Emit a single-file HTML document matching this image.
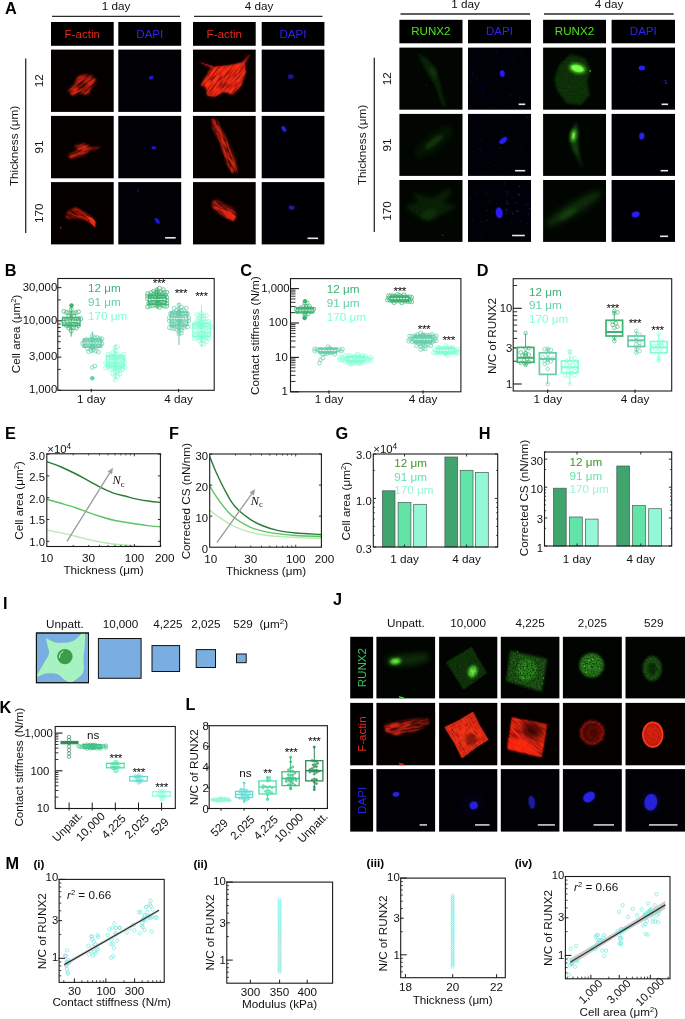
<!DOCTYPE html>
<html><head><meta charset="utf-8"><title>Figure</title>
<style>
html,body{margin:0;padding:0;background:#fff;}
svg{display:block;font-family:'Liberation Sans', sans-serif;}
</style></head><body>
<svg width="685" height="1019" viewBox="0 0 685 1019">
<defs>
<filter id="b1" x="-50%" y="-50%" width="200%" height="200%"><feGaussianBlur stdDeviation="0.7"/></filter>
<filter id="b2" x="-50%" y="-50%" width="200%" height="200%"><feGaussianBlur stdDeviation="1.6"/></filter>
<filter id="b3" x="-50%" y="-50%" width="200%" height="200%"><feGaussianBlur stdDeviation="3"/></filter>
<filter id="b5" x="-50%" y="-50%" width="200%" height="200%"><feGaussianBlur stdDeviation="5"/></filter>
<filter id="tx" x="-20%" y="-20%" width="140%" height="140%">
<feGaussianBlur in="SourceGraphic" stdDeviation="0.8" result="b"/>
<feTurbulence type="fractalNoise" baseFrequency="0.09 0.7" numOctaves="2" seed="4" result="n"/>
<feColorMatrix in="n" type="matrix" values="0 0 0 0 1  0 0 0 0 1  0 0 0 0 1  3.2 0 0 0 -0.95" result="a"/>
<feComposite in="b" in2="a" operator="in"/>
</filter>
<filter id="tg" x="-20%" y="-20%" width="140%" height="140%">
<feGaussianBlur in="SourceGraphic" stdDeviation="1.2" result="b"/>
<feTurbulence type="fractalNoise" baseFrequency="0.6" numOctaves="2" seed="9" result="n"/>
<feColorMatrix in="n" type="matrix" values="0 0 0 0 1  0 0 0 0 1  0 0 0 0 1  2.4 0 0 0 -0.45" result="a"/>
<feComposite in="b" in2="a" operator="in"/>
</filter>
<linearGradient id="fadeR" x1="0" y1="0" x2="1" y2="0"><stop offset="0" stop-color="#050000" stop-opacity="0"/><stop offset="0.35" stop-color="#050000" stop-opacity="0.1"/><stop offset="1" stop-color="#050000" stop-opacity="0.7"/></linearGradient>
<radialGradient id="holeC" cx="0.5" cy="0.5" r="0.5"><stop offset="0" stop-color="#200" stop-opacity="0.55"/><stop offset="0.7" stop-color="#200" stop-opacity="0.35"/><stop offset="1" stop-color="#200" stop-opacity="0"/></radialGradient>
</defs>

<rect x="0" y="0" width="685" height="1019" fill="#fff"/>
<text transform="translate(5.0,14.0) scale(1,1)" font-size="16.3" font-weight="bold" fill="#000">A</text>
<text x="116.0" y="10.2" font-size="11.7" text-anchor="middle" fill="#111">1 day</text>
<text x="259.0" y="10.2" font-size="11.7" text-anchor="middle" fill="#111">4 day</text>
<line x1="52.00" y1="16.40" x2="180.00" y2="16.40" stroke="#2a2a2a" stroke-width="1.3"/>
<line x1="194.00" y1="16.40" x2="322.50" y2="16.40" stroke="#2a2a2a" stroke-width="1.3"/>
<line x1="25.70" y1="58.40" x2="25.70" y2="233.00" stroke="#2a2a2a" stroke-width="1.3"/>
<text x="17.5" y="146.0" font-size="11.7" text-anchor="middle" fill="#111" transform="rotate(-90 17.5 146.0)">Thickness (μm)</text>
<text x="43.5" y="80.8" font-size="11.7" text-anchor="middle" fill="#111" transform="rotate(-90 43.5 80.8)">12</text>
<text x="43.5" y="147.1" font-size="11.7" text-anchor="middle" fill="#111" transform="rotate(-90 43.5 147.1)">91</text>
<text x="43.5" y="213.2" font-size="11.7" text-anchor="middle" fill="#111" transform="rotate(-90 43.5 213.2)">170</text>
<rect x="51.00" y="22.00" width="62.70" height="23.80" fill="#000" stroke="none" stroke-width="1"/>
<text x="82.3" y="37.6" font-size="11.6" text-anchor="middle" fill="#e8281c">F-actin</text>
<rect x="118.30" y="22.00" width="62.90" height="23.80" fill="#000" stroke="none" stroke-width="1"/>
<text x="149.8" y="37.6" font-size="11.6" text-anchor="middle" fill="#2c22f6">DAPI</text>
<rect x="193.00" y="22.00" width="62.70" height="23.80" fill="#000" stroke="none" stroke-width="1"/>
<text x="224.3" y="37.6" font-size="11.6" text-anchor="middle" fill="#e8281c">F-actin</text>
<rect x="261.70" y="22.00" width="62.70" height="23.80" fill="#000" stroke="none" stroke-width="1"/>
<text x="293.0" y="37.6" font-size="11.6" text-anchor="middle" fill="#2c22f6">DAPI</text>
<rect x="51.00" y="49.60" width="62.70" height="62.30" fill="#040000" stroke="none" stroke-width="1"/>
<clipPath id="cL00"><rect x="51.00" y="49.60" width="62.70" height="62.30"/></clipPath>
<rect x="118.30" y="49.60" width="62.90" height="62.30" fill="#000005" stroke="none" stroke-width="1"/>
<clipPath id="cL10"><rect x="118.30" y="49.60" width="62.90" height="62.30"/></clipPath>
<rect x="193.00" y="49.60" width="62.70" height="62.30" fill="#040000" stroke="none" stroke-width="1"/>
<clipPath id="cL20"><rect x="193.00" y="49.60" width="62.70" height="62.30"/></clipPath>
<rect x="261.70" y="49.60" width="62.70" height="62.30" fill="#000004" stroke="none" stroke-width="1"/>
<clipPath id="cL30"><rect x="261.70" y="49.60" width="62.70" height="62.30"/></clipPath>
<rect x="51.00" y="115.90" width="62.70" height="62.40" fill="#040000" stroke="none" stroke-width="1"/>
<clipPath id="cL01"><rect x="51.00" y="115.90" width="62.70" height="62.40"/></clipPath>
<rect x="118.30" y="115.90" width="62.90" height="62.40" fill="#000005" stroke="none" stroke-width="1"/>
<clipPath id="cL11"><rect x="118.30" y="115.90" width="62.90" height="62.40"/></clipPath>
<rect x="193.00" y="115.90" width="62.70" height="62.40" fill="#040000" stroke="none" stroke-width="1"/>
<clipPath id="cL21"><rect x="193.00" y="115.90" width="62.70" height="62.40"/></clipPath>
<rect x="261.70" y="115.90" width="62.70" height="62.40" fill="#000004" stroke="none" stroke-width="1"/>
<clipPath id="cL31"><rect x="261.70" y="115.90" width="62.70" height="62.40"/></clipPath>
<rect x="51.00" y="182.10" width="62.70" height="62.30" fill="#040000" stroke="none" stroke-width="1"/>
<clipPath id="cL02"><rect x="51.00" y="182.10" width="62.70" height="62.30"/></clipPath>
<rect x="118.30" y="182.10" width="62.90" height="62.30" fill="#000005" stroke="none" stroke-width="1"/>
<clipPath id="cL12"><rect x="118.30" y="182.10" width="62.90" height="62.30"/></clipPath>
<rect x="193.00" y="182.10" width="62.70" height="62.30" fill="#040000" stroke="none" stroke-width="1"/>
<clipPath id="cL22"><rect x="193.00" y="182.10" width="62.70" height="62.30"/></clipPath>
<rect x="261.70" y="182.10" width="62.70" height="62.30" fill="#000004" stroke="none" stroke-width="1"/>
<clipPath id="cL32"><rect x="261.70" y="182.10" width="62.70" height="62.30"/></clipPath>
<g fill="#2a2ad0" opacity="0.3"><circle cx="128.2" cy="78.0" r="0.48"/><circle cx="162.3" cy="94.7" r="0.38"/><circle cx="168.0" cy="82.7" r="0.27"/><circle cx="147.1" cy="53.5" r="0.53"/><circle cx="177.0" cy="70.8" r="0.34"/><circle cx="166.1" cy="62.9" r="0.30"/><circle cx="130.8" cy="71.5" r="0.44"/><circle cx="178.0" cy="63.3" r="0.54"/><circle cx="153.1" cy="104.9" r="0.50"/><circle cx="129.1" cy="89.7" r="0.29"/><circle cx="119.6" cy="74.4" r="0.48"/><circle cx="153.8" cy="62.2" r="0.50"/><circle cx="174.9" cy="64.9" r="0.38"/><circle cx="158.1" cy="105.0" r="0.29"/><circle cx="153.0" cy="109.0" r="0.43"/><circle cx="163.0" cy="97.3" r="0.40"/><circle cx="137.0" cy="86.2" r="0.41"/><circle cx="140.2" cy="102.1" r="0.36"/><circle cx="148.7" cy="96.5" r="0.49"/><circle cx="173.5" cy="89.9" r="0.33"/></g>
<g fill="#2a2ad0" opacity="0.25"><circle cx="319.4" cy="74.0" r="0.46"/><circle cx="277.7" cy="79.7" r="0.32"/><circle cx="295.6" cy="55.1" r="0.35"/><circle cx="281.9" cy="53.0" r="0.45"/><circle cx="318.1" cy="59.7" r="0.41"/><circle cx="294.8" cy="76.2" r="0.40"/><circle cx="302.8" cy="67.3" r="0.34"/><circle cx="293.5" cy="110.5" r="0.48"/><circle cx="309.9" cy="78.2" r="0.48"/><circle cx="322.1" cy="103.9" r="0.30"/><circle cx="287.6" cy="64.3" r="0.36"/><circle cx="314.6" cy="80.4" r="0.33"/></g>
<g fill="#2a2ad0" opacity="0.3"><circle cx="154.7" cy="128.7" r="0.54"/><circle cx="175.6" cy="145.1" r="0.45"/><circle cx="132.4" cy="130.3" r="0.34"/><circle cx="161.5" cy="129.7" r="0.54"/><circle cx="123.6" cy="128.6" r="0.28"/><circle cx="166.2" cy="139.0" r="0.39"/><circle cx="139.2" cy="155.4" r="0.37"/><circle cx="132.0" cy="142.9" r="0.34"/><circle cx="126.0" cy="166.6" r="0.45"/><circle cx="159.8" cy="170.2" r="0.37"/><circle cx="142.4" cy="142.4" r="0.37"/><circle cx="160.0" cy="117.3" r="0.39"/><circle cx="151.9" cy="137.8" r="0.26"/><circle cx="162.2" cy="117.5" r="0.42"/><circle cx="128.6" cy="119.0" r="0.30"/><circle cx="123.3" cy="126.0" r="0.46"/><circle cx="163.7" cy="138.8" r="0.45"/><circle cx="148.2" cy="147.0" r="0.51"/><circle cx="138.3" cy="169.4" r="0.46"/><circle cx="160.9" cy="117.3" r="0.28"/></g>
<g fill="#2a2ad0" opacity="0.25"><circle cx="312.9" cy="129.8" r="0.49"/><circle cx="292.7" cy="140.9" r="0.40"/><circle cx="273.0" cy="128.6" r="0.36"/><circle cx="276.6" cy="157.4" r="0.35"/><circle cx="286.0" cy="133.7" r="0.31"/><circle cx="306.2" cy="171.4" r="0.34"/><circle cx="311.5" cy="135.8" r="0.44"/><circle cx="277.2" cy="151.3" r="0.35"/><circle cx="315.6" cy="162.9" r="0.28"/><circle cx="268.7" cy="144.7" r="0.30"/><circle cx="277.1" cy="174.3" r="0.49"/><circle cx="263.8" cy="118.2" r="0.41"/></g>
<g fill="#2a2ad0" opacity="0.45"><circle cx="128.3" cy="220.2" r="0.30"/><circle cx="162.7" cy="219.8" r="0.37"/><circle cx="156.9" cy="217.2" r="0.26"/><circle cx="151.6" cy="220.5" r="0.41"/><circle cx="172.9" cy="227.4" r="0.36"/><circle cx="133.1" cy="190.8" r="0.49"/><circle cx="161.3" cy="219.8" r="0.38"/><circle cx="149.8" cy="196.5" r="0.41"/><circle cx="128.2" cy="220.6" r="0.44"/><circle cx="160.1" cy="198.0" r="0.28"/><circle cx="139.6" cy="224.6" r="0.40"/><circle cx="164.8" cy="209.1" r="0.37"/><circle cx="174.6" cy="193.2" r="0.31"/><circle cx="155.2" cy="221.2" r="0.38"/><circle cx="153.3" cy="209.7" r="0.45"/><circle cx="173.4" cy="232.9" r="0.44"/><circle cx="147.9" cy="240.2" r="0.38"/><circle cx="157.4" cy="235.5" r="0.46"/><circle cx="143.1" cy="227.9" r="0.43"/><circle cx="175.0" cy="220.7" r="0.41"/><circle cx="178.6" cy="214.9" r="0.37"/><circle cx="176.4" cy="240.0" r="0.30"/><circle cx="123.7" cy="234.8" r="0.51"/><circle cx="142.7" cy="198.5" r="0.46"/><circle cx="176.6" cy="195.9" r="0.38"/><circle cx="159.7" cy="196.4" r="0.37"/><circle cx="128.0" cy="212.0" r="0.32"/><circle cx="124.2" cy="206.6" r="0.30"/><circle cx="126.5" cy="192.2" r="0.38"/><circle cx="138.7" cy="227.0" r="0.37"/><circle cx="134.1" cy="194.4" r="0.34"/><circle cx="164.6" cy="195.3" r="0.39"/><circle cx="168.4" cy="233.1" r="0.39"/><circle cx="170.6" cy="221.8" r="0.32"/><circle cx="125.0" cy="193.4" r="0.49"/><circle cx="143.0" cy="233.6" r="0.54"/><circle cx="175.3" cy="211.4" r="0.25"/><circle cx="136.1" cy="196.3" r="0.44"/><circle cx="162.0" cy="238.7" r="0.46"/><circle cx="177.7" cy="221.6" r="0.39"/><circle cx="170.3" cy="199.6" r="0.48"/><circle cx="163.6" cy="235.4" r="0.27"/><circle cx="130.8" cy="240.4" r="0.29"/><circle cx="146.8" cy="219.4" r="0.39"/><circle cx="172.8" cy="240.7" r="0.35"/></g>
<g fill="#2a2ad0" opacity="0.25"><circle cx="291.9" cy="223.3" r="0.40"/><circle cx="305.2" cy="237.5" r="0.44"/><circle cx="272.6" cy="196.4" r="0.36"/><circle cx="286.4" cy="241.2" r="0.43"/><circle cx="291.1" cy="204.3" r="0.31"/><circle cx="299.3" cy="238.8" r="0.29"/><circle cx="290.2" cy="203.9" r="0.40"/><circle cx="278.1" cy="187.0" r="0.42"/><circle cx="281.3" cy="222.1" r="0.48"/><circle cx="298.0" cy="238.1" r="0.45"/><circle cx="266.5" cy="197.9" r="0.42"/><circle cx="291.7" cy="183.4" r="0.46"/></g>
<g clip-path="url(#cL00)">
<polygon points="78.2,76.2 85.3,74.2 91.3,74.8 97.0,81.3 91.3,87.3 89.3,93.3 85.3,95.0 81.2,92.7 72.2,96.0 70.6,93.3 67.1,89.9 74.2,84.3" fill="#8a1206" opacity="0.38" filter="url(#b2)"/>
<g transform="rotate(-35 81.9 86.5)"><polygon points="84.8,76.0 91.7,78.4 96.3,82.3 97.3,90.8 89.2,92.5 84.1,96.3 79.8,95.4 77.8,91.2 68.5,88.7 68.7,85.6 67.9,80.8 76.9,80.3" fill="#e02812" opacity="0.9" filter="url(#tx)"/></g>
</g>
<ellipse cx="151.3" cy="77.8" rx="2.5" ry="1.8" fill="#2418ff" opacity="1" transform="rotate(-20 151.3 77.8)" filter="url(#b1)"/>
<g clip-path="url(#cL01)">
<polygon points="74.2,145.7 83.3,143.1 91.3,146.7 102.0,147.3 91.3,150.1 82.2,155.2 70.2,159.2 68.1,154.8 78.2,150.8" fill="#8a1206" opacity="0.38" filter="url(#b2)"/>
<g transform="rotate(-20 82.3 150.3)"><polygon points="76.3,143.2 85.7,143.9 92.0,150.0 101.8,154.2 90.8,153.2 80.6,154.9 67.9,154.5 67.5,149.7 78.3,149.3" fill="#e02812" opacity="0.9" filter="url(#tx)"/></g>
</g>
<ellipse cx="153.8" cy="147.7" rx="2.4" ry="1.5" fill="#2418ff" opacity="1" transform="rotate(10 153.8 147.7)" filter="url(#b1)"/>
<g clip-path="url(#cL02)">
<polygon points="67.4,211.7 75.6,207.6 84.8,212.3 91.9,217.4 95.6,221.9 95.2,227.5 89.9,222.6 80.7,218.3 71.5,218.5 66.0,218.3" fill="#7a1006" opacity="0.4" filter="url(#b2)"/>
<g transform="rotate(30 81.9 217.6)"><polygon points="66.4,219.7 71.4,212.1 81.8,211.6 90.5,212.4 95.9,214.5 98.3,219.5 91.3,217.9 81.2,218.8 73.3,223.5 68.4,226.1" fill="#d82410" opacity="0.9" filter="url(#tx)"/></g>
<polygon points="86.8,215.8 92.6,218.1 95.6,221.9 95.2,227.5 90.9,223.0" fill="#ee3018" opacity="0.9" filter="url(#b1)"/>
<ellipse cx="60.7" cy="227.7" rx="0.7" ry="0.9" fill="#d02010" opacity="1" transform="rotate(0 60.7 227.7)"/>
</g>
<ellipse cx="157.3" cy="220.9" rx="3.4" ry="1.6" fill="#2418ff" opacity="1" transform="rotate(52 157.3 220.9)" filter="url(#b1)"/>
<ellipse cx="137.9" cy="190.5" rx="2.2" ry="0.7" fill="#1c1cb0" opacity="0.7" transform="rotate(-65 137.9 190.5)" filter="url(#b1)"/>
<rect x="165.10" y="237.00" width="10.60" height="1.60" fill="#e8e8e8" stroke="none" stroke-width="1"/>
<g clip-path="url(#cL20)">
<polygon points="250.4,53.7 244.8,63.1 245.8,72.2 240.8,86.3 232.7,94.8 224.2,91.7 214.6,96.8 207.1,95.8 206.1,86.7 200.7,85.7 208.1,72.2 212.0,68.0 196.6,60.9 213.6,66.7 230.3,65.1 242.0,62.5" fill="#c81808" opacity="0.7" filter="url(#b1)"/>
<g transform="rotate(-50 223.1 76.4)"><polygon points="258.1,82.7 247.2,84.5 240.9,91.1 226.9,96.3 215.2,95.5 212.1,87.1 202.0,82.9 198.0,76.6 204.3,70.0 201.6,65.2 216.7,62.2 222.4,62.4 218.0,46.2 224.4,62.9 236.3,74.7 245.9,81.9" fill="#ff3018" opacity="1" filter="url(#tx)"/></g>
<g fill="#a01008" opacity="0.4"><circle cx="198.1" cy="110.4" r="0.29"/><circle cx="227.3" cy="109.3" r="0.44"/><circle cx="207.6" cy="104.5" r="0.43"/><circle cx="237.5" cy="107.6" r="0.39"/><circle cx="211.5" cy="105.0" r="0.43"/><circle cx="213.3" cy="106.3" r="0.41"/><circle cx="222.5" cy="101.4" r="0.31"/><circle cx="225.8" cy="106.6" r="0.46"/><circle cx="196.4" cy="103.3" r="0.38"/><circle cx="227.6" cy="102.9" r="0.44"/><circle cx="212.5" cy="104.0" r="0.46"/><circle cx="198.8" cy="110.2" r="0.33"/><circle cx="210.3" cy="103.0" r="0.37"/><circle cx="231.9" cy="103.2" r="0.39"/><circle cx="213.8" cy="104.0" r="0.28"/><circle cx="225.4" cy="105.1" r="0.37"/><circle cx="221.1" cy="102.1" r="0.45"/><circle cx="234.1" cy="103.5" r="0.45"/><circle cx="225.4" cy="104.0" r="0.32"/><circle cx="197.8" cy="105.1" r="0.36"/><circle cx="215.9" cy="105.8" r="0.39"/><circle cx="199.6" cy="103.2" r="0.39"/><circle cx="215.3" cy="102.7" r="0.32"/><circle cx="238.1" cy="108.9" r="0.43"/><circle cx="210.0" cy="105.1" r="0.43"/></g>
</g>
<ellipse cx="290.7" cy="76.6" rx="3" ry="2.4" fill="#2a22d8" opacity="0.65" transform="rotate(0 290.7 76.6)" filter="url(#b1)"/>
<g clip-path="url(#cL21)">
<polygon points="211.4,118.5 216.2,119.3 223.4,132.6 231.5,148.7 237.5,166.9 237.5,174.9 235.1,170.5 231.7,173.7 229.1,168.5 224.6,158.4 219.8,142.7 212.8,128.6" fill="#861408" opacity="0.32" filter="url(#b1)"/>
<g transform="rotate(65 225.9 150.3)"><polygon points="191.0,150.0 193.7,146.0 208.9,145.0 226.9,144.5 245.8,146.7 253.2,150.1 248.1,150.5 249.6,154.9 243.7,155.1 232.7,154.8 216.4,152.6 200.7,153.0" fill="#e42c14" opacity="0.9" filter="url(#tx)"/></g>
</g>
<ellipse cx="284.0" cy="129.0" rx="3.3" ry="2" fill="#2a22e0" opacity="0.95" transform="rotate(55 284.0 129.0)" filter="url(#b1)"/>
<g clip-path="url(#cL22)">
<polygon points="211.7,202.5 216.6,199.3 223.7,204.6 232.3,207.6 236.6,214.8 234.3,221.3 226.8,218.3 218.6,213.2 213.1,208.7" fill="#861408" opacity="0.45" filter="url(#b2)"/>
<g transform="rotate(35 223.7 210.0)"><polygon points="209.6,210.8 211.7,205.3 220.6,205.6 229.4,203.2 237.0,206.6 238.9,213.2 231.0,215.0 221.3,215.5 214.2,215.0" fill="#e02812" opacity="0.9" filter="url(#tx)"/></g>
<polygon points="220.7,208.7 230.9,211.7 235.4,216.8 233.9,220.9 226.8,217.9" fill="#f02c14" opacity="0.8" filter="url(#b1)"/>
</g>
<ellipse cx="291.6" cy="207.6" rx="3" ry="2.2" fill="#2020c0" opacity="0.9" transform="rotate(10 291.6 207.6)" filter="url(#b1)"/>
<rect x="307.50" y="237.50" width="10.60" height="1.60" fill="#e8e8e8" stroke="none" stroke-width="1"/>
<text x="465.5" y="8.4" font-size="11.7" text-anchor="middle" fill="#111">1 day</text>
<text x="609.0" y="8.4" font-size="11.7" text-anchor="middle" fill="#111">4 day</text>
<line x1="400.50" y1="14.00" x2="530.00" y2="14.00" stroke="#2a2a2a" stroke-width="1.3"/>
<line x1="544.00" y1="14.00" x2="673.70" y2="14.00" stroke="#2a2a2a" stroke-width="1.3"/>
<line x1="374.30" y1="57.80" x2="374.30" y2="232.00" stroke="#2a2a2a" stroke-width="1.3"/>
<text x="366.0" y="145.0" font-size="11.7" text-anchor="middle" fill="#111" transform="rotate(-90 366.0 145.0)">Thickness (μm)</text>
<text x="391.5" y="78.7" font-size="11.7" text-anchor="middle" fill="#111" transform="rotate(-90 391.5 78.7)">12</text>
<text x="391.5" y="144.9" font-size="11.7" text-anchor="middle" fill="#111" transform="rotate(-90 391.5 144.9)">91</text>
<text x="391.5" y="210.9" font-size="11.7" text-anchor="middle" fill="#111" transform="rotate(-90 391.5 210.9)">170</text>
<rect x="399.40" y="19.80" width="63.10" height="23.50" fill="#000" stroke="none" stroke-width="1"/>
<text x="430.9" y="35.4" font-size="11.6" text-anchor="middle" fill="#4be41c">RUNX2</text>
<rect x="468.00" y="19.80" width="63.00" height="23.50" fill="#000" stroke="none" stroke-width="1"/>
<text x="499.5" y="35.4" font-size="11.6" text-anchor="middle" fill="#2c22f6">DAPI</text>
<rect x="543.10" y="19.80" width="62.90" height="23.50" fill="#000" stroke="none" stroke-width="1"/>
<text x="574.5" y="35.4" font-size="11.6" text-anchor="middle" fill="#4be41c">RUNX2</text>
<rect x="611.60" y="19.80" width="63.40" height="23.50" fill="#000" stroke="none" stroke-width="1"/>
<text x="643.3" y="35.4" font-size="11.6" text-anchor="middle" fill="#2c22f6">DAPI</text>
<rect x="399.40" y="47.60" width="63.10" height="62.10" fill="#010601" stroke="none" stroke-width="1"/>
<clipPath id="cR00"><rect x="399.40" y="47.60" width="63.10" height="62.10"/></clipPath>
<rect x="468.00" y="47.60" width="63.00" height="62.10" fill="#000007" stroke="none" stroke-width="1"/>
<clipPath id="cR10"><rect x="468.00" y="47.60" width="63.00" height="62.10"/></clipPath>
<rect x="543.10" y="47.60" width="62.90" height="62.10" fill="#010501" stroke="none" stroke-width="1"/>
<clipPath id="cR20"><rect x="543.10" y="47.60" width="62.90" height="62.10"/></clipPath>
<rect x="611.60" y="47.60" width="63.40" height="62.10" fill="#000004" stroke="none" stroke-width="1"/>
<clipPath id="cR30"><rect x="611.60" y="47.60" width="63.40" height="62.10"/></clipPath>
<rect x="399.40" y="113.90" width="63.10" height="62.00" fill="#010601" stroke="none" stroke-width="1"/>
<clipPath id="cR01"><rect x="399.40" y="113.90" width="63.10" height="62.00"/></clipPath>
<rect x="468.00" y="113.90" width="63.00" height="62.00" fill="#000007" stroke="none" stroke-width="1"/>
<clipPath id="cR11"><rect x="468.00" y="113.90" width="63.00" height="62.00"/></clipPath>
<rect x="543.10" y="113.90" width="62.90" height="62.00" fill="#010501" stroke="none" stroke-width="1"/>
<clipPath id="cR21"><rect x="543.10" y="113.90" width="62.90" height="62.00"/></clipPath>
<rect x="611.60" y="113.90" width="63.40" height="62.00" fill="#000004" stroke="none" stroke-width="1"/>
<clipPath id="cR31"><rect x="611.60" y="113.90" width="63.40" height="62.00"/></clipPath>
<rect x="399.40" y="180.00" width="63.10" height="61.90" fill="#010601" stroke="none" stroke-width="1"/>
<clipPath id="cR02"><rect x="399.40" y="180.00" width="63.10" height="61.90"/></clipPath>
<rect x="468.00" y="180.00" width="63.00" height="61.90" fill="#000007" stroke="none" stroke-width="1"/>
<clipPath id="cR12"><rect x="468.00" y="180.00" width="63.00" height="61.90"/></clipPath>
<rect x="543.10" y="180.00" width="62.90" height="61.90" fill="#010501" stroke="none" stroke-width="1"/>
<clipPath id="cR22"><rect x="543.10" y="180.00" width="62.90" height="61.90"/></clipPath>
<rect x="611.60" y="180.00" width="63.40" height="61.90" fill="#000004" stroke="none" stroke-width="1"/>
<clipPath id="cR32"><rect x="611.60" y="180.00" width="63.40" height="61.90"/></clipPath>
<g fill="#3030e0" opacity="0.5"><circle cx="471.8" cy="60.8" r="0.50"/><circle cx="477.7" cy="100.3" r="0.34"/><circle cx="469.7" cy="75.0" r="0.31"/><circle cx="470.0" cy="65.3" r="0.41"/><circle cx="480.8" cy="99.9" r="0.36"/><circle cx="511.8" cy="69.7" r="0.29"/><circle cx="495.5" cy="89.8" r="0.42"/><circle cx="508.2" cy="55.9" r="0.30"/><circle cx="476.9" cy="78.1" r="0.55"/><circle cx="492.4" cy="97.9" r="0.29"/><circle cx="482.7" cy="89.1" r="0.52"/><circle cx="517.4" cy="57.4" r="0.44"/><circle cx="483.5" cy="93.6" r="0.45"/><circle cx="511.0" cy="95.7" r="0.60"/><circle cx="497.4" cy="108.4" r="0.35"/><circle cx="522.8" cy="54.9" r="0.50"/><circle cx="523.7" cy="82.0" r="0.38"/><circle cx="519.4" cy="97.5" r="0.50"/><circle cx="490.0" cy="79.6" r="0.25"/><circle cx="501.3" cy="67.1" r="0.49"/><circle cx="470.2" cy="75.5" r="0.29"/><circle cx="490.1" cy="107.4" r="0.52"/><circle cx="508.3" cy="70.4" r="0.28"/><circle cx="470.9" cy="81.4" r="0.59"/><circle cx="513.9" cy="61.3" r="0.59"/><circle cx="482.7" cy="51.4" r="0.43"/><circle cx="496.4" cy="52.7" r="0.57"/><circle cx="486.8" cy="72.2" r="0.26"/><circle cx="469.8" cy="105.6" r="0.59"/><circle cx="507.0" cy="51.6" r="0.30"/><circle cx="477.4" cy="49.3" r="0.53"/><circle cx="496.7" cy="50.4" r="0.34"/><circle cx="497.0" cy="79.8" r="0.43"/><circle cx="477.2" cy="96.7" r="0.28"/><circle cx="496.0" cy="92.4" r="0.29"/><circle cx="470.3" cy="108.0" r="0.49"/><circle cx="480.7" cy="88.3" r="0.29"/><circle cx="519.4" cy="51.0" r="0.29"/><circle cx="482.6" cy="86.2" r="0.55"/><circle cx="483.8" cy="95.1" r="0.39"/><circle cx="497.0" cy="89.3" r="0.33"/><circle cx="512.2" cy="69.3" r="0.31"/><circle cx="508.1" cy="79.4" r="0.26"/><circle cx="526.6" cy="94.8" r="0.41"/><circle cx="517.4" cy="94.6" r="0.26"/><circle cx="472.6" cy="78.1" r="0.40"/><circle cx="510.3" cy="58.3" r="0.30"/><circle cx="492.2" cy="108.0" r="0.26"/><circle cx="527.2" cy="84.3" r="0.37"/><circle cx="474.9" cy="75.1" r="0.40"/><circle cx="472.4" cy="72.7" r="0.57"/><circle cx="527.3" cy="90.9" r="0.39"/><circle cx="521.7" cy="51.1" r="0.50"/><circle cx="512.0" cy="57.5" r="0.38"/><circle cx="494.3" cy="96.2" r="0.46"/><circle cx="483.7" cy="97.8" r="0.42"/><circle cx="516.7" cy="70.1" r="0.37"/><circle cx="489.4" cy="58.4" r="0.52"/><circle cx="509.0" cy="72.2" r="0.46"/><circle cx="511.0" cy="106.4" r="0.30"/></g>
<g fill="#3030e0" opacity="0.35"><circle cx="636.2" cy="89.5" r="0.47"/><circle cx="637.5" cy="58.7" r="0.26"/><circle cx="630.4" cy="51.0" r="0.29"/><circle cx="645.8" cy="77.7" r="0.50"/><circle cx="620.2" cy="53.2" r="0.29"/><circle cx="637.9" cy="57.0" r="0.48"/><circle cx="648.4" cy="108.6" r="0.33"/><circle cx="671.3" cy="68.5" r="0.48"/><circle cx="664.3" cy="66.3" r="0.35"/><circle cx="613.0" cy="87.4" r="0.40"/><circle cx="652.0" cy="49.3" r="0.26"/><circle cx="658.0" cy="65.8" r="0.55"/><circle cx="654.0" cy="59.0" r="0.49"/><circle cx="660.2" cy="81.3" r="0.54"/><circle cx="668.0" cy="95.7" r="0.50"/><circle cx="655.7" cy="81.6" r="0.36"/><circle cx="645.1" cy="72.3" r="0.35"/><circle cx="656.0" cy="98.8" r="0.29"/><circle cx="618.3" cy="84.7" r="0.42"/><circle cx="619.9" cy="96.7" r="0.30"/><circle cx="673.3" cy="91.5" r="0.55"/><circle cx="649.8" cy="85.9" r="0.39"/><circle cx="668.7" cy="95.2" r="0.26"/><circle cx="639.1" cy="87.1" r="0.51"/><circle cx="645.5" cy="66.0" r="0.48"/></g>
<g fill="#3030e0" opacity="0.5"><circle cx="473.1" cy="134.4" r="0.25"/><circle cx="486.3" cy="160.1" r="0.49"/><circle cx="497.7" cy="160.1" r="0.41"/><circle cx="521.7" cy="151.5" r="0.30"/><circle cx="503.6" cy="143.5" r="0.44"/><circle cx="482.1" cy="156.6" r="0.32"/><circle cx="487.3" cy="129.3" r="0.34"/><circle cx="480.0" cy="160.1" r="0.48"/><circle cx="470.9" cy="149.4" r="0.28"/><circle cx="508.3" cy="139.3" r="0.44"/><circle cx="515.5" cy="161.6" r="0.49"/><circle cx="486.9" cy="120.6" r="0.45"/><circle cx="501.6" cy="168.5" r="0.56"/><circle cx="480.4" cy="139.6" r="0.50"/><circle cx="494.5" cy="172.9" r="0.25"/><circle cx="494.2" cy="165.5" r="0.58"/><circle cx="499.9" cy="130.0" r="0.46"/><circle cx="488.4" cy="156.7" r="0.37"/><circle cx="480.7" cy="150.2" r="0.52"/><circle cx="498.9" cy="150.5" r="0.45"/><circle cx="501.0" cy="115.3" r="0.38"/><circle cx="522.3" cy="145.6" r="0.52"/><circle cx="527.2" cy="117.1" r="0.50"/><circle cx="498.8" cy="115.0" r="0.33"/><circle cx="499.1" cy="142.6" r="0.55"/><circle cx="490.7" cy="162.2" r="0.39"/><circle cx="526.5" cy="173.5" r="0.31"/><circle cx="518.9" cy="121.7" r="0.37"/><circle cx="523.0" cy="140.9" r="0.26"/><circle cx="469.3" cy="174.1" r="0.55"/><circle cx="527.8" cy="135.3" r="0.36"/><circle cx="510.8" cy="117.8" r="0.46"/><circle cx="478.4" cy="126.1" r="0.51"/><circle cx="483.5" cy="174.2" r="0.48"/><circle cx="505.6" cy="153.5" r="0.33"/><circle cx="527.4" cy="117.3" r="0.57"/><circle cx="501.5" cy="151.0" r="0.44"/><circle cx="492.7" cy="124.9" r="0.37"/><circle cx="508.1" cy="133.6" r="0.53"/><circle cx="511.3" cy="116.7" r="0.28"/><circle cx="520.7" cy="147.0" r="0.30"/><circle cx="501.3" cy="147.9" r="0.50"/><circle cx="498.1" cy="170.7" r="0.26"/><circle cx="523.1" cy="157.3" r="0.38"/><circle cx="475.2" cy="123.6" r="0.50"/><circle cx="509.6" cy="146.7" r="0.28"/><circle cx="475.2" cy="144.1" r="0.29"/><circle cx="487.0" cy="116.5" r="0.33"/><circle cx="502.7" cy="163.2" r="0.25"/><circle cx="487.3" cy="134.8" r="0.33"/><circle cx="493.9" cy="114.9" r="0.32"/><circle cx="485.1" cy="166.3" r="0.35"/><circle cx="511.1" cy="160.8" r="0.49"/><circle cx="495.5" cy="133.8" r="0.43"/><circle cx="490.9" cy="133.3" r="0.38"/><circle cx="472.5" cy="151.2" r="0.39"/><circle cx="472.7" cy="135.2" r="0.27"/><circle cx="499.5" cy="147.9" r="0.59"/><circle cx="478.2" cy="149.2" r="0.53"/><circle cx="483.8" cy="142.1" r="0.45"/></g>
<g fill="#3030e0" opacity="0.35"><circle cx="647.3" cy="159.3" r="0.26"/><circle cx="666.8" cy="152.8" r="0.45"/><circle cx="664.5" cy="135.5" r="0.49"/><circle cx="654.2" cy="122.8" r="0.46"/><circle cx="649.2" cy="164.0" r="0.50"/><circle cx="653.2" cy="151.4" r="0.53"/><circle cx="623.5" cy="124.8" r="0.45"/><circle cx="654.0" cy="172.8" r="0.47"/></g>
<g fill="#3030e0" opacity="0.5"><circle cx="515.6" cy="219.6" r="0.39"/><circle cx="481.1" cy="221.5" r="0.59"/><circle cx="495.1" cy="232.0" r="0.26"/><circle cx="501.2" cy="193.1" r="0.42"/><circle cx="506.3" cy="232.3" r="0.43"/><circle cx="522.0" cy="200.6" r="0.29"/><circle cx="497.4" cy="223.8" r="0.50"/><circle cx="471.2" cy="195.9" r="0.34"/><circle cx="497.8" cy="232.6" r="0.34"/><circle cx="471.8" cy="234.8" r="0.55"/><circle cx="516.0" cy="183.3" r="0.34"/><circle cx="479.8" cy="235.8" r="0.29"/><circle cx="476.8" cy="194.2" r="0.53"/><circle cx="481.1" cy="239.9" r="0.36"/><circle cx="508.7" cy="192.5" r="0.35"/><circle cx="521.8" cy="240.8" r="0.33"/><circle cx="490.3" cy="184.4" r="0.32"/><circle cx="492.4" cy="212.2" r="0.45"/><circle cx="490.3" cy="190.5" r="0.44"/><circle cx="490.3" cy="201.7" r="0.59"/><circle cx="504.8" cy="181.9" r="0.58"/><circle cx="528.2" cy="204.4" r="0.59"/><circle cx="475.4" cy="236.0" r="0.31"/><circle cx="521.7" cy="221.6" r="0.59"/><circle cx="487.4" cy="220.2" r="0.58"/><circle cx="476.9" cy="192.1" r="0.44"/><circle cx="477.2" cy="184.3" r="0.26"/><circle cx="490.2" cy="219.9" r="0.41"/><circle cx="505.9" cy="182.6" r="0.29"/><circle cx="503.5" cy="190.4" r="0.25"/><circle cx="472.8" cy="220.0" r="0.59"/><circle cx="499.3" cy="181.4" r="0.32"/><circle cx="510.6" cy="228.5" r="0.32"/><circle cx="497.5" cy="183.2" r="0.44"/><circle cx="515.1" cy="210.9" r="0.52"/><circle cx="483.3" cy="220.9" r="0.41"/><circle cx="505.8" cy="185.4" r="0.41"/><circle cx="506.8" cy="195.0" r="0.44"/><circle cx="470.2" cy="206.0" r="0.58"/><circle cx="508.5" cy="211.3" r="0.55"/><circle cx="511.3" cy="211.5" r="0.38"/><circle cx="522.3" cy="214.8" r="0.42"/><circle cx="491.7" cy="190.2" r="0.32"/><circle cx="505.8" cy="213.2" r="0.52"/><circle cx="496.4" cy="204.0" r="0.44"/><circle cx="484.3" cy="238.6" r="0.47"/><circle cx="487.3" cy="210.4" r="0.54"/><circle cx="527.0" cy="222.9" r="0.56"/><circle cx="518.2" cy="203.0" r="0.40"/><circle cx="497.4" cy="184.1" r="0.46"/><circle cx="502.7" cy="228.1" r="0.37"/><circle cx="528.6" cy="225.3" r="0.45"/><circle cx="482.9" cy="236.9" r="0.49"/><circle cx="507.7" cy="192.6" r="0.32"/><circle cx="481.0" cy="236.0" r="0.41"/><circle cx="511.8" cy="222.4" r="0.53"/><circle cx="486.6" cy="193.1" r="0.59"/><circle cx="477.6" cy="240.9" r="0.39"/><circle cx="470.3" cy="199.0" r="0.52"/><circle cx="493.7" cy="189.4" r="0.28"/></g>
<g fill="#3030e0" opacity="0.35"><circle cx="636.9" cy="239.8" r="0.46"/><circle cx="616.3" cy="214.5" r="0.30"/><circle cx="615.4" cy="230.4" r="0.55"/><circle cx="644.6" cy="219.3" r="0.29"/><circle cx="618.1" cy="198.3" r="0.27"/><circle cx="660.2" cy="190.6" r="0.39"/><circle cx="615.9" cy="192.7" r="0.35"/><circle cx="643.9" cy="198.7" r="0.42"/></g>
<g fill="#3434ee" opacity="0.6"><circle cx="519.3" cy="194.6" r="0.89"/><circle cx="508.0" cy="200.1" r="0.47"/><circle cx="512.1" cy="212.8" r="0.46"/><circle cx="525.1" cy="210.5" r="0.31"/><circle cx="507.2" cy="191.8" r="0.50"/><circle cx="517.6" cy="211.1" r="0.88"/><circle cx="512.1" cy="197.7" r="0.56"/><circle cx="529.1" cy="185.1" r="0.36"/><circle cx="507.7" cy="203.6" r="0.88"/><circle cx="506.5" cy="213.8" r="0.43"/><circle cx="521.9" cy="211.6" r="0.35"/><circle cx="506.0" cy="191.3" r="0.49"/><circle cx="517.3" cy="195.0" r="0.54"/><circle cx="507.6" cy="195.0" r="0.60"/><circle cx="528.7" cy="186.0" r="0.28"/><circle cx="529.8" cy="208.4" r="0.74"/><circle cx="528.8" cy="213.9" r="0.57"/><circle cx="519.2" cy="186.5" r="0.71"/><circle cx="506.6" cy="201.8" r="0.59"/><circle cx="515.3" cy="202.6" r="0.65"/><circle cx="513.2" cy="192.0" r="0.35"/><circle cx="525.8" cy="204.8" r="0.56"/><circle cx="512.8" cy="213.7" r="0.67"/><circle cx="521.7" cy="189.8" r="0.31"/><circle cx="506.4" cy="209.8" r="0.83"/></g>
<g fill="#3434ee" opacity="0.7"><circle cx="666.5" cy="83.4" r="0.83"/><circle cx="663.5" cy="81.9" r="0.48"/><circle cx="665.7" cy="80.7" r="0.79"/><circle cx="665.6" cy="82.4" r="0.73"/><circle cx="664.2" cy="80.7" r="0.53"/></g>
<g clip-path="url(#cR00)" opacity="0.5">
<polygon points="417.5,53.2 426.7,58.3 435.9,68.5 438.9,78.7 442.0,91.0 446.1,107.4 442.0,105.3 435.9,86.9 429.7,76.7 422.6,64.4" fill="#2a7a1c" opacity="0.3" filter="url(#b2)"/>
<polygon points="417.5,53.2 426.7,58.3 435.9,68.5 438.9,78.7 442.0,91.0 446.1,107.4 442.0,105.3 435.9,86.9 429.7,76.7 422.6,64.4" fill="#2f8a20" opacity="0.3" filter="url(#tg)"/>
<ellipse cx="433.2" cy="72.6" rx="3.2" ry="6" fill="#3a9a28" opacity="0.3" transform="rotate(-20 433.2 72.6)" filter="url(#b2)"/>
<ellipse cx="426.2" cy="84.5" rx="0.6" ry="0.6" fill="#40c030" opacity="0.7" transform="rotate(0 426.2 84.5)"/>
</g>
<ellipse cx="502.3" cy="73.6" rx="2.4" ry="3.4" fill="#2a1cff" opacity="1" transform="rotate(-10 502.3 73.6)" filter="url(#b1)"/>
<rect x="518.60" y="103.50" width="6.60" height="1.60" fill="#e8e8e8" stroke="none" stroke-width="1"/>
<g clip-path="url(#cR01)" opacity="0.48">
<ellipse cx="433.8" cy="142.1" rx="24" ry="8" fill="#246a18" opacity="0.35" transform="rotate(-38 433.8 142.1)" filter="url(#b3)"/>
<ellipse cx="433.8" cy="142.1" rx="11" ry="3" fill="#3a9a28" opacity="0.4" transform="rotate(-38 433.8 142.1)" filter="url(#b2)"/>
<ellipse cx="433.8" cy="142.1" rx="11" ry="3" fill="#3a9a28" opacity="0.3" transform="rotate(-38 433.8 142.1)" filter="url(#tg)"/>
</g>
<ellipse cx="503.3" cy="140.5" rx="4.5" ry="2.4" fill="#2a1cff" opacity="1" transform="rotate(-40 503.3 140.5)" filter="url(#b1)"/>
<rect x="515.10" y="169.90" width="10.10" height="1.60" fill="#e8e8e8" stroke="none" stroke-width="1"/>
<g clip-path="url(#cR02)" opacity="0.5">
<polygon points="412.3,192.3 432.8,198.5 447.1,188.3 452.2,192.3 443.4,202.6 457.3,206.7 441.0,214.8 428.7,221.4 418.5,216.9 404.2,206.7 418.5,202.6" fill="#226818" opacity="0.4" filter="url(#b3)"/>
<polygon points="412.3,192.3 432.8,198.5 447.1,188.3 452.2,192.3 443.4,202.6 457.3,206.7 441.0,214.8 428.7,221.4 418.5,216.9 404.2,206.7 418.5,202.6" fill="#2a7a1c" opacity="0.25" filter="url(#tg)"/>
<ellipse cx="428.7" cy="214.8" rx="8" ry="5" fill="#348c24" opacity="0.35" transform="rotate(-20 428.7 214.8)" filter="url(#b2)"/>
<ellipse cx="442.6" cy="235.3" rx="0.8" ry="0.8" fill="#40b030" opacity="0.8" transform="rotate(0 442.6 235.3)"/>
</g>
<ellipse cx="499.2" cy="212.8" rx="3.5" ry="5.5" fill="#2a1cff" opacity="1" transform="rotate(-8 499.2 212.8)" filter="url(#b1)"/>
<rect x="512.10" y="234.70" width="12.70" height="1.60" fill="#e8e8e8" stroke="none" stroke-width="1"/>
<g clip-path="url(#cR20)">
<polygon points="570.7,54.2 585.0,58.3 591.1,70.6 587.0,80.8 590.1,95.1 580.9,105.3 566.6,103.3 557.4,91.0 554.3,78.7 559.4,64.4" fill="#2c8a1c" opacity="0.24" filter="url(#b2)"/>
<polygon points="570.7,54.2 585.0,58.3 591.1,70.6 587.0,80.8 590.1,95.1 580.9,105.3 566.6,103.3 557.4,91.0 554.3,78.7 559.4,64.4" fill="#38a024" opacity="0.13" filter="url(#tg)"/>
<ellipse cx="577.4" cy="68.5" rx="8.5" ry="5" fill="#50e828" opacity="0.8" transform="rotate(15 577.4 68.5)" filter="url(#b2)"/>
<ellipse cx="577.4" cy="68.5" rx="6.3" ry="3.3" fill="#7cff48" opacity="1" transform="rotate(15 577.4 68.5)" filter="url(#b1)"/>
<ellipse cx="590.1" cy="71.0" rx="0.8" ry="0.8" fill="#50e030" opacity="1" transform="rotate(0 590.1 71.0)"/>
</g>
<ellipse cx="641.8" cy="68.1" rx="3.2" ry="2.5" fill="#2a1cff" opacity="1" transform="rotate(0 641.8 68.1)" filter="url(#b1)"/>
<rect x="661.60" y="103.50" width="6.50" height="1.60" fill="#e8e8e8" stroke="none" stroke-width="1"/>
<g clip-path="url(#cR21)">
<polygon points="576.2,122.3 578.8,131.9 577.8,142.1 579.9,158.4 582.5,169.1 577.8,158.4 572.7,150.3 569.6,140.1 570.7,131.9" fill="#2c8a1c" opacity="0.42" filter="url(#b2)"/>
<ellipse cx="573.5" cy="135.6" rx="3.0" ry="6.5" fill="#58f030" opacity="0.62" transform="rotate(8 573.5 135.6)" filter="url(#b2)"/>
<ellipse cx="573.5" cy="135.6" rx="1.3" ry="3.4" fill="#90ff60" opacity="0.7" transform="rotate(8 573.5 135.6)" filter="url(#b1)"/>
</g>
<ellipse cx="641.8" cy="136.0" rx="2.6" ry="3.6" fill="#2a20f0" opacity="1" transform="rotate(10 641.8 136.0)" filter="url(#b1)"/>
<rect x="660.60" y="169.90" width="7.50" height="1.60" fill="#e8e8e8" stroke="none" stroke-width="1"/>
<g clip-path="url(#cR22)" opacity="0.52">
<ellipse cx="573.7" cy="208.7" rx="33" ry="6.5" fill="#2a801c" opacity="0.5" transform="rotate(-31 573.7 208.7)" filter="url(#b3)"/>
<ellipse cx="573.7" cy="208.7" rx="30" ry="5" fill="#2a801c" opacity="0.25" transform="rotate(-31 573.7 208.7)" filter="url(#tg)"/>
<ellipse cx="567.6" cy="213.8" rx="10" ry="3.5" fill="#44a830" opacity="0.4" transform="rotate(-31 567.6 213.8)" filter="url(#b2)"/>
</g>
<ellipse cx="635.6" cy="214.4" rx="4" ry="3" fill="#2a1cff" opacity="1" transform="rotate(-15 635.6 214.4)" filter="url(#b1)"/>
<rect x="660.00" y="235.50" width="8.10" height="1.60" fill="#e8e8e8" stroke="none" stroke-width="1"/>
<text transform="translate(4.8,276.0) scale(1,1)" font-size="16.3" font-weight="bold" fill="#000">B</text>
<text x="57.2" y="290.7" font-size="11.3" text-anchor="end" fill="#111">30,000</text>
<line x1="57.80" y1="287.64" x2="61.40" y2="287.64" stroke="#1a1a1a" stroke-width="1"/>
<text x="57.2" y="323.9" font-size="11.3" text-anchor="end" fill="#111">10,000</text>
<line x1="57.80" y1="320.80" x2="65.80" y2="320.80" stroke="#1a1a1a" stroke-width="1"/>
<text x="57.2" y="360.2" font-size="11.3" text-anchor="end" fill="#111">3,000</text>
<line x1="57.80" y1="357.14" x2="61.40" y2="357.14" stroke="#1a1a1a" stroke-width="1"/>
<text x="57.2" y="393.4" font-size="11.3" text-anchor="end" fill="#111">1,000</text>
<line x1="57.80" y1="390.30" x2="61.40" y2="390.30" stroke="#1a1a1a" stroke-width="1"/>
<line x1="57.80" y1="369.38" x2="60.80" y2="369.38" stroke="#1a1a1a" stroke-width="0.9"/>
<line x1="57.80" y1="348.46" x2="60.80" y2="348.46" stroke="#1a1a1a" stroke-width="0.9"/>
<line x1="57.80" y1="341.72" x2="60.80" y2="341.72" stroke="#1a1a1a" stroke-width="0.9"/>
<line x1="57.80" y1="336.22" x2="60.80" y2="336.22" stroke="#1a1a1a" stroke-width="0.9"/>
<line x1="57.80" y1="331.57" x2="60.80" y2="331.57" stroke="#1a1a1a" stroke-width="0.9"/>
<line x1="57.80" y1="327.54" x2="60.80" y2="327.54" stroke="#1a1a1a" stroke-width="0.9"/>
<line x1="57.80" y1="323.98" x2="60.80" y2="323.98" stroke="#1a1a1a" stroke-width="0.9"/>
<line x1="57.80" y1="299.88" x2="60.80" y2="299.88" stroke="#1a1a1a" stroke-width="0.9"/>
<text x="20.4" y="334.0" font-size="11.7" text-anchor="middle" fill="#111" transform="rotate(-90 20.4 334.0)">Cell area (μm<tspan font-size="7.5" dy="-4">2</tspan><tspan dy="4">)</tspan></text>
<text x="91.3" y="403.0" font-size="11.7" text-anchor="middle" fill="#111">1 day</text>
<line x1="91.30" y1="388.80" x2="91.30" y2="392.30" stroke="#1a1a1a" stroke-width="1"/>
<text x="178.6" y="403.0" font-size="11.7" text-anchor="middle" fill="#111">4 day</text>
<line x1="178.60" y1="388.80" x2="178.60" y2="392.30" stroke="#1a1a1a" stroke-width="1"/>
<text x="88.0" y="292.3" font-size="11.7" text-anchor="start" fill="#3cb371">12 μm</text>
<text x="88.0" y="305.9" font-size="11.7" text-anchor="start" fill="#66cdaa">91 μm</text>
<text x="88.0" y="319.5" font-size="11.7" text-anchor="start" fill="#7fffd4">170 μm</text>
<g fill="none" stroke="#3cb371" stroke-width="0.7" opacity="1"><circle cx="71.2" cy="321.0" r="2.0"/><circle cx="73.6" cy="320.6" r="2.0"/><circle cx="68.8" cy="320.6" r="2.0"/><circle cx="76.0" cy="321.6" r="2.0"/><circle cx="66.4" cy="320.3" r="2.0"/><circle cx="78.4" cy="321.9" r="2.0"/><circle cx="64.0" cy="319.9" r="2.0"/><circle cx="64.0" cy="322.4" r="2.0"/><circle cx="67.6" cy="322.8" r="2.0"/><circle cx="76.0" cy="319.2" r="2.0"/><circle cx="78.4" cy="319.1" r="2.0"/><circle cx="80.8" cy="318.8" r="2.0"/><circle cx="71.2" cy="323.5" r="2.0"/><circle cx="73.6" cy="324.1" r="2.0"/><circle cx="76.0" cy="324.1" r="2.0"/><circle cx="71.2" cy="317.7" r="2.0"/><circle cx="68.8" cy="325.5" r="2.0"/><circle cx="66.4" cy="325.6" r="2.0"/><circle cx="78.4" cy="325.6" r="2.0"/><circle cx="73.6" cy="315.9" r="2.0"/><circle cx="68.8" cy="315.9" r="2.0"/><circle cx="71.2" cy="327.4" r="2.0"/><circle cx="73.6" cy="327.5" r="2.0"/><circle cx="68.8" cy="328.1" r="2.0"/><circle cx="76.0" cy="328.1" r="2.0"/><circle cx="71.2" cy="313.6" r="2.0"/><circle cx="73.6" cy="313.1" r="2.0"/><circle cx="68.8" cy="313.0" r="2.0"/><circle cx="76.0" cy="312.6" r="2.0"/><circle cx="66.4" cy="312.4" r="2.0"/><circle cx="78.4" cy="311.8" r="2.0"/><circle cx="64.0" cy="311.4" r="2.0"/><circle cx="71.2" cy="331.0" r="2.0"/><circle cx="71.2" cy="309.4" r="2.0"/></g>
<line x1="71.20" y1="305.00" x2="71.20" y2="336.60" stroke="#3cb371" stroke-width="1"/>
<rect x="62.50" y="317.40" width="17.40" height="8.20" fill="#3cb371" stroke="#3cb371" stroke-width="1.3" fill-opacity="0.35"/>
<line x1="62.50" y1="321.30" x2="79.90" y2="321.30" stroke="#ffffff" stroke-width="1" stroke-dasharray="2 1" opacity="0.9"/>
<g fill="none" stroke="#66cdaa" stroke-width="0.7" opacity="1"><circle cx="92.3" cy="342.5" r="2.0"/><circle cx="94.7" cy="342.3" r="2.0"/><circle cx="89.9" cy="342.1" r="2.0"/><circle cx="97.1" cy="343.0" r="2.0"/><circle cx="87.5" cy="341.9" r="2.0"/><circle cx="99.5" cy="343.2" r="2.0"/><circle cx="85.1" cy="343.4" r="2.0"/><circle cx="101.9" cy="343.4" r="2.0"/><circle cx="82.7" cy="343.5" r="2.0"/><circle cx="92.3" cy="343.5" r="2.0"/><circle cx="92.3" cy="343.9" r="2.0"/><circle cx="83.9" cy="341.1" r="2.0"/><circle cx="100.7" cy="340.9" r="2.0"/><circle cx="88.7" cy="344.3" r="2.0"/><circle cx="98.3" cy="340.7" r="2.0"/><circle cx="92.3" cy="340.6" r="2.0"/><circle cx="94.7" cy="344.7" r="2.0"/><circle cx="95.9" cy="340.1" r="2.0"/><circle cx="92.3" cy="344.9" r="2.0"/><circle cx="92.3" cy="345.2" r="2.0"/><circle cx="92.3" cy="345.2" r="2.0"/><circle cx="98.3" cy="345.3" r="2.0"/><circle cx="89.9" cy="339.6" r="2.0"/><circle cx="86.3" cy="339.6" r="2.0"/><circle cx="86.3" cy="345.5" r="2.0"/><circle cx="100.7" cy="345.7" r="2.0"/><circle cx="83.9" cy="345.8" r="2.0"/><circle cx="92.3" cy="339.2" r="2.0"/><circle cx="92.3" cy="345.9" r="2.0"/><circle cx="92.3" cy="346.2" r="2.0"/><circle cx="92.3" cy="346.2" r="2.0"/><circle cx="92.3" cy="346.2" r="2.0"/><circle cx="101.9" cy="338.8" r="2.0"/><circle cx="99.5" cy="338.6" r="2.0"/><circle cx="89.9" cy="346.5" r="2.0"/><circle cx="95.9" cy="347.1" r="2.0"/><circle cx="92.3" cy="347.2" r="2.0"/><circle cx="92.3" cy="347.3" r="2.0"/><circle cx="94.7" cy="337.7" r="2.0"/><circle cx="97.1" cy="337.6" r="2.0"/><circle cx="92.3" cy="347.6" r="2.0"/><circle cx="87.5" cy="348.6" r="2.0"/><circle cx="92.3" cy="336.1" r="2.0"/><circle cx="93.5" cy="349.8" r="2.0"/><circle cx="91.1" cy="350.4" r="2.0"/><circle cx="95.9" cy="351.0" r="2.0"/><circle cx="88.7" cy="351.5" r="2.0"/><circle cx="98.3" cy="351.9" r="2.0"/></g>
<line x1="92.30" y1="331.50" x2="92.30" y2="353.40" stroke="#66cdaa" stroke-width="1"/>
<rect x="83.60" y="339.00" width="17.40" height="8.30" fill="#66cdaa" stroke="#66cdaa" stroke-width="1.3" fill-opacity="0.35"/>
<line x1="83.60" y1="343.00" x2="101.00" y2="343.00" stroke="#ffffff" stroke-width="1" stroke-dasharray="2 1" opacity="0.9"/>
<g fill="none" stroke="#7fffd4" stroke-width="0.7" opacity="1"><circle cx="115.2" cy="361.5" r="2.0"/><circle cx="117.6" cy="362.0" r="2.0"/><circle cx="112.8" cy="360.8" r="2.0"/><circle cx="120.0" cy="362.2" r="2.0"/><circle cx="110.4" cy="360.6" r="2.0"/><circle cx="122.4" cy="362.4" r="2.0"/><circle cx="108.0" cy="362.4" r="2.0"/><circle cx="124.8" cy="362.5" r="2.0"/><circle cx="123.6" cy="360.2" r="2.0"/><circle cx="105.6" cy="362.9" r="2.0"/><circle cx="112.8" cy="363.3" r="2.0"/><circle cx="118.8" cy="359.6" r="2.0"/><circle cx="110.4" cy="363.4" r="2.0"/><circle cx="115.2" cy="363.5" r="2.0"/><circle cx="116.4" cy="359.2" r="2.0"/><circle cx="115.2" cy="363.9" r="2.0"/><circle cx="121.2" cy="358.8" r="2.0"/><circle cx="108.0" cy="358.8" r="2.0"/><circle cx="117.6" cy="364.5" r="2.0"/><circle cx="114.0" cy="358.2" r="2.0"/><circle cx="120.0" cy="364.9" r="2.0"/><circle cx="111.6" cy="357.7" r="2.0"/><circle cx="123.6" cy="357.7" r="2.0"/><circle cx="112.8" cy="365.7" r="2.0"/><circle cx="118.8" cy="357.2" r="2.0"/><circle cx="110.4" cy="366.2" r="2.0"/><circle cx="116.4" cy="356.6" r="2.0"/><circle cx="115.2" cy="366.4" r="2.0"/><circle cx="122.4" cy="366.7" r="2.0"/><circle cx="108.0" cy="366.7" r="2.0"/><circle cx="121.2" cy="356.0" r="2.0"/><circle cx="117.6" cy="367.2" r="2.0"/><circle cx="114.0" cy="355.8" r="2.0"/><circle cx="124.8" cy="367.3" r="2.0"/><circle cx="120.0" cy="367.5" r="2.0"/><circle cx="110.4" cy="355.4" r="2.0"/><circle cx="105.6" cy="367.8" r="2.0"/><circle cx="115.2" cy="367.8" r="2.0"/><circle cx="115.2" cy="368.0" r="2.0"/><circle cx="112.8" cy="368.4" r="2.0"/><circle cx="115.2" cy="368.5" r="2.0"/><circle cx="117.6" cy="354.4" r="2.0"/><circle cx="108.0" cy="354.2" r="2.0"/><circle cx="123.6" cy="354.2" r="2.0"/><circle cx="110.4" cy="369.3" r="2.0"/><circle cx="115.2" cy="353.5" r="2.0"/><circle cx="122.4" cy="369.5" r="2.0"/><circle cx="117.6" cy="370.4" r="2.0"/><circle cx="120.0" cy="370.4" r="2.0"/><circle cx="112.8" cy="352.4" r="2.0"/><circle cx="115.2" cy="372.3" r="2.0"/><circle cx="115.2" cy="350.6" r="2.0"/><circle cx="117.6" cy="372.9" r="2.0"/><circle cx="112.8" cy="373.9" r="2.0"/><circle cx="120.0" cy="374.0" r="2.0"/><circle cx="115.2" cy="375.7" r="2.0"/><circle cx="115.2" cy="347.2" r="2.0"/><circle cx="117.6" cy="346.9" r="2.0"/><circle cx="117.6" cy="376.4" r="2.0"/><circle cx="115.2" cy="380.0" r="2.0"/></g>
<line x1="115.20" y1="344.00" x2="115.20" y2="380.00" stroke="#7fffd4" stroke-width="1"/>
<rect x="106.50" y="355.70" width="17.40" height="11.10" fill="#7fffd4" stroke="#7fffd4" stroke-width="1.3" fill-opacity="0.35"/>
<line x1="106.50" y1="361.00" x2="123.90" y2="361.00" stroke="#ffffff" stroke-width="1" stroke-dasharray="2 1" opacity="0.9"/>
<g fill="none" stroke="#3cb371" stroke-width="0.7" opacity="1"><circle cx="157.2" cy="299.5" r="2.0"/><circle cx="159.6" cy="299.1" r="2.0"/><circle cx="154.8" cy="299.9" r="2.0"/><circle cx="162.0" cy="298.9" r="2.0"/><circle cx="152.4" cy="298.9" r="2.0"/><circle cx="164.4" cy="298.9" r="2.0"/><circle cx="150.0" cy="300.2" r="2.0"/><circle cx="166.8" cy="300.3" r="2.0"/><circle cx="147.6" cy="298.7" r="2.0"/><circle cx="157.2" cy="298.7" r="2.0"/><circle cx="157.2" cy="300.3" r="2.0"/><circle cx="157.2" cy="300.3" r="2.0"/><circle cx="157.2" cy="300.4" r="2.0"/><circle cx="157.2" cy="300.4" r="2.0"/><circle cx="157.2" cy="300.6" r="2.0"/><circle cx="157.2" cy="300.7" r="2.0"/><circle cx="150.0" cy="297.8" r="2.0"/><circle cx="154.8" cy="297.3" r="2.0"/><circle cx="166.8" cy="297.3" r="2.0"/><circle cx="159.6" cy="302.1" r="2.0"/><circle cx="153.6" cy="302.2" r="2.0"/><circle cx="162.0" cy="302.2" r="2.0"/><circle cx="158.4" cy="296.4" r="2.0"/><circle cx="151.2" cy="302.7" r="2.0"/><circle cx="160.8" cy="296.3" r="2.0"/><circle cx="152.4" cy="296.3" r="2.0"/><circle cx="164.4" cy="302.7" r="2.0"/><circle cx="163.2" cy="296.2" r="2.0"/><circle cx="147.6" cy="295.9" r="2.0"/><circle cx="157.2" cy="303.3" r="2.0"/><circle cx="148.8" cy="303.4" r="2.0"/><circle cx="166.8" cy="303.5" r="2.0"/><circle cx="150.0" cy="295.3" r="2.0"/><circle cx="156.0" cy="295.0" r="2.0"/><circle cx="165.6" cy="295.0" r="2.0"/><circle cx="157.2" cy="294.4" r="2.0"/><circle cx="159.6" cy="304.6" r="2.0"/><circle cx="159.6" cy="294.1" r="2.0"/><circle cx="153.6" cy="294.0" r="2.0"/><circle cx="154.8" cy="305.1" r="2.0"/><circle cx="162.0" cy="293.8" r="2.0"/><circle cx="162.0" cy="305.3" r="2.0"/><circle cx="147.6" cy="293.5" r="2.0"/><circle cx="152.4" cy="305.6" r="2.0"/><circle cx="157.2" cy="306.0" r="2.0"/><circle cx="164.4" cy="306.1" r="2.0"/><circle cx="150.0" cy="306.1" r="2.0"/><circle cx="166.8" cy="306.2" r="2.0"/><circle cx="151.2" cy="292.7" r="2.0"/><circle cx="164.4" cy="292.4" r="2.0"/><circle cx="166.8" cy="292.3" r="2.0"/><circle cx="147.6" cy="306.9" r="2.0"/><circle cx="156.0" cy="292.1" r="2.0"/><circle cx="157.2" cy="292.1" r="2.0"/><circle cx="159.6" cy="307.1" r="2.0"/><circle cx="160.8" cy="291.7" r="2.0"/><circle cx="153.6" cy="291.3" r="2.0"/><circle cx="157.2" cy="289.7" r="2.0"/><circle cx="163.2" cy="289.7" r="2.0"/><circle cx="159.6" cy="288.3" r="2.0"/></g>
<line x1="157.20" y1="287.60" x2="157.20" y2="308.70" stroke="#3cb371" stroke-width="1"/>
<rect x="148.50" y="295.30" width="17.40" height="9.10" fill="#3cb371" stroke="#3cb371" stroke-width="1.3" fill-opacity="0.35"/>
<line x1="148.50" y1="299.50" x2="165.90" y2="299.50" stroke="#ffffff" stroke-width="1" stroke-dasharray="2 1" opacity="0.9"/>
<g fill="none" stroke="#66cdaa" stroke-width="0.7" opacity="1"><circle cx="179.0" cy="319.5" r="2.0"/><circle cx="181.4" cy="319.6" r="2.0"/><circle cx="176.6" cy="319.6" r="2.0"/><circle cx="183.8" cy="319.8" r="2.0"/><circle cx="174.2" cy="318.1" r="2.0"/><circle cx="186.2" cy="320.0" r="2.0"/><circle cx="171.8" cy="317.9" r="2.0"/><circle cx="188.6" cy="317.9" r="2.0"/><circle cx="169.4" cy="317.8" r="2.0"/><circle cx="174.2" cy="320.7" r="2.0"/><circle cx="171.8" cy="320.7" r="2.0"/><circle cx="180.2" cy="317.2" r="2.0"/><circle cx="177.8" cy="317.2" r="2.0"/><circle cx="188.6" cy="320.9" r="2.0"/><circle cx="169.4" cy="321.0" r="2.0"/><circle cx="182.6" cy="317.0" r="2.0"/><circle cx="179.0" cy="321.0" r="2.0"/><circle cx="179.0" cy="321.1" r="2.0"/><circle cx="185.0" cy="316.7" r="2.0"/><circle cx="179.0" cy="316.2" r="2.0"/><circle cx="179.0" cy="321.9" r="2.0"/><circle cx="181.4" cy="322.0" r="2.0"/><circle cx="179.0" cy="322.0" r="2.0"/><circle cx="175.4" cy="315.7" r="2.0"/><circle cx="173.0" cy="315.3" r="2.0"/><circle cx="176.6" cy="323.6" r="2.0"/><circle cx="180.2" cy="314.0" r="2.0"/><circle cx="180.2" cy="324.1" r="2.0"/><circle cx="177.8" cy="313.8" r="2.0"/><circle cx="182.6" cy="313.8" r="2.0"/><circle cx="185.0" cy="313.7" r="2.0"/><circle cx="187.4" cy="313.5" r="2.0"/><circle cx="170.6" cy="313.5" r="2.0"/><circle cx="179.0" cy="313.4" r="2.0"/><circle cx="179.0" cy="313.3" r="2.0"/><circle cx="175.4" cy="313.1" r="2.0"/><circle cx="182.6" cy="325.1" r="2.0"/><circle cx="173.0" cy="312.6" r="2.0"/><circle cx="174.2" cy="325.4" r="2.0"/><circle cx="179.0" cy="312.6" r="2.0"/><circle cx="179.0" cy="312.5" r="2.0"/><circle cx="185.0" cy="325.5" r="2.0"/><circle cx="179.0" cy="312.5" r="2.0"/><circle cx="171.8" cy="325.5" r="2.0"/><circle cx="179.0" cy="312.3" r="2.0"/><circle cx="179.0" cy="312.0" r="2.0"/><circle cx="179.0" cy="312.0" r="2.0"/><circle cx="179.0" cy="312.0" r="2.0"/><circle cx="179.0" cy="326.5" r="2.0"/><circle cx="176.6" cy="326.6" r="2.0"/><circle cx="187.4" cy="326.8" r="2.0"/><circle cx="181.4" cy="310.5" r="2.0"/><circle cx="181.4" cy="327.6" r="2.0"/><circle cx="169.4" cy="327.6" r="2.0"/><circle cx="183.8" cy="327.6" r="2.0"/><circle cx="176.6" cy="310.0" r="2.0"/><circle cx="174.2" cy="328.3" r="2.0"/><circle cx="171.8" cy="328.3" r="2.0"/><circle cx="183.8" cy="309.6" r="2.0"/><circle cx="179.0" cy="328.6" r="2.0"/><circle cx="179.0" cy="309.3" r="2.0"/><circle cx="176.6" cy="329.4" r="2.0"/><circle cx="174.2" cy="308.3" r="2.0"/><circle cx="186.2" cy="308.3" r="2.0"/><circle cx="181.4" cy="330.1" r="2.0"/><circle cx="181.4" cy="307.2" r="2.0"/><circle cx="179.0" cy="331.4" r="2.0"/><circle cx="181.4" cy="333.0" r="2.0"/><circle cx="179.0" cy="304.9" r="2.0"/><circle cx="179.0" cy="333.9" r="2.0"/></g>
<line x1="179.00" y1="303.00" x2="179.00" y2="345.00" stroke="#66cdaa" stroke-width="1"/>
<rect x="170.30" y="312.00" width="17.40" height="13.50" fill="#66cdaa" stroke="#66cdaa" stroke-width="1.3" fill-opacity="0.35"/>
<line x1="170.30" y1="318.50" x2="187.70" y2="318.50" stroke="#ffffff" stroke-width="1" stroke-dasharray="2 1" opacity="0.9"/>
<g fill="none" stroke="#7fffd4" stroke-width="0.7" opacity="1"><circle cx="201.5" cy="330.2" r="2.0"/><circle cx="203.9" cy="331.2" r="2.0"/><circle cx="199.1" cy="328.8" r="2.0"/><circle cx="203.9" cy="328.5" r="2.0"/><circle cx="199.1" cy="331.7" r="2.0"/><circle cx="206.3" cy="332.0" r="2.0"/><circle cx="206.3" cy="327.8" r="2.0"/><circle cx="201.5" cy="327.1" r="2.0"/><circle cx="196.7" cy="327.0" r="2.0"/><circle cx="208.7" cy="326.9" r="2.0"/><circle cx="201.5" cy="333.2" r="2.0"/><circle cx="194.3" cy="326.7" r="2.0"/><circle cx="211.1" cy="326.6" r="2.0"/><circle cx="191.9" cy="326.5" r="2.0"/><circle cx="201.5" cy="326.5" r="2.0"/><circle cx="203.9" cy="333.6" r="2.0"/><circle cx="199.1" cy="326.4" r="2.0"/><circle cx="201.5" cy="326.3" r="2.0"/><circle cx="197.9" cy="333.9" r="2.0"/><circle cx="206.3" cy="334.4" r="2.0"/><circle cx="203.9" cy="325.2" r="2.0"/><circle cx="195.5" cy="334.8" r="2.0"/><circle cx="206.3" cy="325.0" r="2.0"/><circle cx="208.7" cy="335.1" r="2.0"/><circle cx="201.5" cy="324.7" r="2.0"/><circle cx="201.5" cy="336.4" r="2.0"/><circle cx="199.1" cy="323.4" r="2.0"/><circle cx="203.9" cy="336.8" r="2.0"/><circle cx="196.7" cy="323.0" r="2.0"/><circle cx="199.1" cy="337.2" r="2.0"/><circle cx="206.3" cy="337.4" r="2.0"/><circle cx="201.5" cy="321.9" r="2.0"/><circle cx="196.7" cy="338.2" r="2.0"/><circle cx="208.7" cy="338.2" r="2.0"/><circle cx="203.9" cy="321.7" r="2.0"/><circle cx="206.3" cy="321.6" r="2.0"/><circle cx="194.3" cy="338.4" r="2.0"/><circle cx="208.7" cy="321.5" r="2.0"/><circle cx="199.1" cy="321.0" r="2.0"/><circle cx="201.5" cy="339.4" r="2.0"/><circle cx="196.7" cy="320.4" r="2.0"/><circle cx="203.9" cy="339.9" r="2.0"/><circle cx="199.1" cy="340.8" r="2.0"/><circle cx="201.5" cy="319.0" r="2.0"/><circle cx="203.9" cy="318.9" r="2.0"/><circle cx="199.1" cy="318.4" r="2.0"/><circle cx="206.3" cy="341.7" r="2.0"/><circle cx="201.5" cy="343.6" r="2.0"/><circle cx="201.5" cy="316.1" r="2.0"/><circle cx="203.9" cy="316.0" r="2.0"/><circle cx="203.9" cy="344.1" r="2.0"/><circle cx="199.1" cy="315.6" r="2.0"/><circle cx="206.3" cy="315.4" r="2.0"/><circle cx="196.7" cy="314.5" r="2.0"/><circle cx="201.5" cy="313.6" r="2.0"/></g>
<line x1="201.50" y1="305.40" x2="201.50" y2="347.30" stroke="#7fffd4" stroke-width="1"/>
<rect x="192.80" y="323.20" width="17.40" height="13.40" fill="#7fffd4" stroke="#7fffd4" stroke-width="1.3" fill-opacity="0.35"/>
<line x1="192.80" y1="330.00" x2="210.20" y2="330.00" stroke="#ffffff" stroke-width="1" stroke-dasharray="2 1" opacity="0.9"/>
<g fill="none" stroke="#66cdaa" stroke-width="0.7" opacity="1"><circle cx="92.3" cy="367.5" r="1.9"/><circle cx="94.8" cy="366.0" r="1.9"/></g>
<g fill="#66cdaa" stroke="#66cdaa" stroke-width="0.7" opacity="1"><circle cx="92.3" cy="378.2" r="1.9"/></g>
<g fill="#3cb371" stroke="#3cb371" stroke-width="0.7" opacity="1"><circle cx="71.5" cy="305.5" r="1.9"/></g>
<text x="159.0" y="287.3" font-size="11.7" text-anchor="middle" fill="#000" letter-spacing="-0.4">***</text>
<text x="180.9" y="297.1" font-size="11.7" text-anchor="middle" fill="#000" letter-spacing="-0.4">***</text>
<text x="201.4" y="300.2" font-size="11.7" text-anchor="middle" fill="#000" letter-spacing="-0.4">***</text>
<rect x="57.80" y="278.50" width="156.40" height="111.80" fill="none" stroke="#1a1a1a" stroke-width="1.1"/>
<text transform="translate(240.3,276.0) scale(1,1)" font-size="16.3" font-weight="bold" fill="#000">C</text>
<text x="289.6" y="291.8" font-size="11.3" text-anchor="end" fill="#111">1,000</text>
<line x1="290.50" y1="288.60" x2="299.00" y2="288.60" stroke="#1a1a1a" stroke-width="1.1"/>
<text x="287.7" y="326.2" font-size="11.3" text-anchor="end" fill="#111">100</text>
<line x1="290.50" y1="323.00" x2="299.00" y2="323.00" stroke="#1a1a1a" stroke-width="1.1"/>
<text x="287.7" y="360.6" font-size="11.3" text-anchor="end" fill="#111">10</text>
<line x1="290.50" y1="357.40" x2="299.00" y2="357.40" stroke="#1a1a1a" stroke-width="1.1"/>
<text x="287.7" y="395.0" font-size="11.3" text-anchor="end" fill="#111">1</text>
<line x1="290.50" y1="391.80" x2="299.00" y2="391.80" stroke="#1a1a1a" stroke-width="1.1"/>
<line x1="290.50" y1="381.44" x2="295.50" y2="381.44" stroke="#1a1a1a" stroke-width="0.9"/>
<line x1="290.50" y1="375.39" x2="295.50" y2="375.39" stroke="#1a1a1a" stroke-width="0.9"/>
<line x1="290.50" y1="371.09" x2="295.50" y2="371.09" stroke="#1a1a1a" stroke-width="0.9"/>
<line x1="290.50" y1="367.76" x2="295.50" y2="367.76" stroke="#1a1a1a" stroke-width="0.9"/>
<line x1="290.50" y1="365.03" x2="295.50" y2="365.03" stroke="#1a1a1a" stroke-width="0.9"/>
<line x1="290.50" y1="362.73" x2="295.50" y2="362.73" stroke="#1a1a1a" stroke-width="0.9"/>
<line x1="290.50" y1="360.73" x2="295.50" y2="360.73" stroke="#1a1a1a" stroke-width="0.9"/>
<line x1="290.50" y1="358.97" x2="295.50" y2="358.97" stroke="#1a1a1a" stroke-width="0.9"/>
<line x1="290.50" y1="347.04" x2="295.50" y2="347.04" stroke="#1a1a1a" stroke-width="0.9"/>
<line x1="290.50" y1="340.99" x2="295.50" y2="340.99" stroke="#1a1a1a" stroke-width="0.9"/>
<line x1="290.50" y1="336.69" x2="295.50" y2="336.69" stroke="#1a1a1a" stroke-width="0.9"/>
<line x1="290.50" y1="333.36" x2="295.50" y2="333.36" stroke="#1a1a1a" stroke-width="0.9"/>
<line x1="290.50" y1="330.63" x2="295.50" y2="330.63" stroke="#1a1a1a" stroke-width="0.9"/>
<line x1="290.50" y1="328.33" x2="295.50" y2="328.33" stroke="#1a1a1a" stroke-width="0.9"/>
<line x1="290.50" y1="326.33" x2="295.50" y2="326.33" stroke="#1a1a1a" stroke-width="0.9"/>
<line x1="290.50" y1="324.57" x2="295.50" y2="324.57" stroke="#1a1a1a" stroke-width="0.9"/>
<line x1="290.50" y1="312.64" x2="295.50" y2="312.64" stroke="#1a1a1a" stroke-width="0.9"/>
<line x1="290.50" y1="306.59" x2="295.50" y2="306.59" stroke="#1a1a1a" stroke-width="0.9"/>
<line x1="290.50" y1="302.29" x2="295.50" y2="302.29" stroke="#1a1a1a" stroke-width="0.9"/>
<line x1="290.50" y1="298.96" x2="295.50" y2="298.96" stroke="#1a1a1a" stroke-width="0.9"/>
<line x1="290.50" y1="296.23" x2="295.50" y2="296.23" stroke="#1a1a1a" stroke-width="0.9"/>
<line x1="290.50" y1="293.93" x2="295.50" y2="293.93" stroke="#1a1a1a" stroke-width="0.9"/>
<line x1="290.50" y1="291.93" x2="295.50" y2="291.93" stroke="#1a1a1a" stroke-width="0.9"/>
<line x1="290.50" y1="290.17" x2="295.50" y2="290.17" stroke="#1a1a1a" stroke-width="0.9"/>
<text x="259.5" y="335.6" font-size="11.7" text-anchor="middle" fill="#111" transform="rotate(-90 259.5 335.6)">Contact stiffness (N/m)</text>
<text x="329.0" y="403.0" font-size="11.7" text-anchor="middle" fill="#111">1 day</text>
<line x1="329.00" y1="390.30" x2="329.00" y2="393.80" stroke="#1a1a1a" stroke-width="1"/>
<text x="423.0" y="403.0" font-size="11.7" text-anchor="middle" fill="#111">4 day</text>
<line x1="423.00" y1="390.30" x2="423.00" y2="393.80" stroke="#1a1a1a" stroke-width="1"/>
<text x="326.7" y="293.3" font-size="11.7" text-anchor="start" fill="#3cb371">12 μm</text>
<text x="326.7" y="307.0" font-size="11.7" text-anchor="start" fill="#66cdaa">91 μm</text>
<text x="326.7" y="320.7" font-size="11.7" text-anchor="start" fill="#7fffd4">170 μm</text>
<g fill="none" stroke="#3cb371" stroke-width="0.7" opacity="1"><circle cx="305.0" cy="310.5" r="2.0"/><circle cx="307.2" cy="310.5" r="2.0"/><circle cx="302.8" cy="309.8" r="2.0"/><circle cx="309.4" cy="310.8" r="2.0"/><circle cx="300.6" cy="310.8" r="2.0"/><circle cx="311.6" cy="310.9" r="2.0"/><circle cx="298.4" cy="309.4" r="2.0"/><circle cx="313.8" cy="309.2" r="2.0"/><circle cx="296.2" cy="309.2" r="2.0"/><circle cx="305.0" cy="309.1" r="2.0"/><circle cx="297.3" cy="311.6" r="2.0"/><circle cx="305.0" cy="309.0" r="2.0"/><circle cx="310.5" cy="308.7" r="2.0"/><circle cx="305.0" cy="308.6" r="2.0"/><circle cx="308.3" cy="308.4" r="2.0"/><circle cx="306.1" cy="312.4" r="2.0"/><circle cx="303.9" cy="312.5" r="2.0"/><circle cx="300.6" cy="307.9" r="2.0"/><circle cx="308.3" cy="313.8" r="2.0"/><circle cx="306.1" cy="306.6" r="2.0"/><circle cx="303.9" cy="306.5" r="2.0"/><circle cx="309.4" cy="306.3" r="2.0"/><circle cx="305.0" cy="314.6" r="2.0"/><circle cx="305.0" cy="317.3" r="2.0"/><circle cx="305.0" cy="303.1" r="2.0"/><circle cx="307.2" cy="303.0" r="2.0"/></g>
<rect x="296.30" y="307.70" width="17.40" height="5.10" fill="#3cb371" stroke="#3cb371" stroke-width="1.3" fill-opacity="0.7"/>
<line x1="296.30" y1="310.20" x2="313.70" y2="310.20" stroke="#ffffff" stroke-width="1" stroke-dasharray="2 1" opacity="0.9"/>
<g fill="none" stroke="#66cdaa" stroke-width="0.7" opacity="1"><circle cx="328.0" cy="350.5" r="2.0"/><circle cx="330.2" cy="350.5" r="2.0"/><circle cx="325.8" cy="350.8" r="2.0"/><circle cx="332.4" cy="350.2" r="2.0"/><circle cx="323.6" cy="350.8" r="2.0"/><circle cx="334.6" cy="350.9" r="2.0"/><circle cx="321.4" cy="349.9" r="2.0"/><circle cx="336.8" cy="349.9" r="2.0"/><circle cx="319.2" cy="349.9" r="2.0"/><circle cx="339.0" cy="349.8" r="2.0"/><circle cx="317.0" cy="349.8" r="2.0"/><circle cx="341.2" cy="351.2" r="2.0"/><circle cx="314.8" cy="351.2" r="2.0"/><circle cx="328.0" cy="349.7" r="2.0"/><circle cx="328.0" cy="349.6" r="2.0"/><circle cx="328.0" cy="351.5" r="2.0"/><circle cx="328.0" cy="351.5" r="2.0"/><circle cx="328.0" cy="351.5" r="2.0"/><circle cx="328.0" cy="351.6" r="2.0"/><circle cx="342.3" cy="349.1" r="2.0"/><circle cx="314.8" cy="348.9" r="2.0"/><circle cx="320.3" cy="352.1" r="2.0"/><circle cx="332.4" cy="352.4" r="2.0"/><circle cx="330.2" cy="348.3" r="2.0"/><circle cx="330.2" cy="352.8" r="2.0"/><circle cx="326.9" cy="353.5" r="2.0"/><circle cx="324.7" cy="353.5" r="2.0"/><circle cx="322.5" cy="353.9" r="2.0"/><circle cx="328.0" cy="346.9" r="2.0"/><circle cx="334.6" cy="354.2" r="2.0"/></g>
<rect x="319.30" y="348.00" width="17.40" height="5.00" fill="#66cdaa" stroke="#66cdaa" stroke-width="1.3" fill-opacity="0.7"/>
<line x1="319.30" y1="350.50" x2="336.70" y2="350.50" stroke="#ffffff" stroke-width="1" stroke-dasharray="2 1" opacity="0.9"/>
<g fill="none" stroke="#7fffd4" stroke-width="0.7" opacity="1"><circle cx="355.5" cy="359.3" r="2.0"/><circle cx="357.7" cy="359.3" r="2.0"/><circle cx="353.3" cy="359.2" r="2.0"/><circle cx="359.9" cy="359.1" r="2.0"/><circle cx="351.1" cy="359.1" r="2.0"/><circle cx="362.1" cy="359.6" r="2.0"/><circle cx="348.9" cy="359.7" r="2.0"/><circle cx="364.3" cy="359.7" r="2.0"/><circle cx="346.7" cy="359.8" r="2.0"/><circle cx="366.5" cy="358.8" r="2.0"/><circle cx="344.5" cy="358.8" r="2.0"/><circle cx="368.7" cy="358.8" r="2.0"/><circle cx="342.3" cy="359.8" r="2.0"/><circle cx="370.9" cy="359.8" r="2.0"/><circle cx="340.1" cy="359.9" r="2.0"/><circle cx="355.5" cy="358.7" r="2.0"/><circle cx="355.5" cy="359.9" r="2.0"/><circle cx="355.5" cy="359.9" r="2.0"/><circle cx="355.5" cy="358.6" r="2.0"/><circle cx="355.5" cy="360.1" r="2.0"/><circle cx="355.5" cy="358.4" r="2.0"/><circle cx="355.5" cy="360.3" r="2.0"/><circle cx="355.5" cy="360.3" r="2.0"/><circle cx="355.5" cy="358.3" r="2.0"/><circle cx="355.5" cy="360.4" r="2.0"/><circle cx="355.5" cy="360.4" r="2.0"/><circle cx="355.5" cy="360.4" r="2.0"/><circle cx="355.5" cy="360.5" r="2.0"/><circle cx="355.5" cy="358.1" r="2.0"/><circle cx="367.6" cy="360.8" r="2.0"/><circle cx="355.5" cy="360.8" r="2.0"/><circle cx="355.5" cy="360.9" r="2.0"/><circle cx="363.2" cy="357.6" r="2.0"/><circle cx="347.8" cy="357.5" r="2.0"/><circle cx="358.8" cy="361.3" r="2.0"/><circle cx="342.3" cy="357.3" r="2.0"/><circle cx="370.9" cy="357.3" r="2.0"/><circle cx="340.1" cy="357.2" r="2.0"/><circle cx="352.2" cy="361.4" r="2.0"/><circle cx="344.5" cy="361.4" r="2.0"/><circle cx="361.0" cy="361.6" r="2.0"/><circle cx="357.7" cy="356.9" r="2.0"/><circle cx="353.3" cy="356.9" r="2.0"/><circle cx="350.0" cy="361.8" r="2.0"/><circle cx="359.9" cy="356.8" r="2.0"/><circle cx="363.2" cy="361.9" r="2.0"/><circle cx="351.1" cy="356.4" r="2.0"/><circle cx="365.4" cy="356.2" r="2.0"/><circle cx="347.8" cy="362.5" r="2.0"/><circle cx="345.6" cy="355.9" r="2.0"/><circle cx="355.5" cy="355.9" r="2.0"/><circle cx="356.6" cy="362.8" r="2.0"/><circle cx="362.1" cy="355.5" r="2.0"/><circle cx="354.4" cy="363.1" r="2.0"/><circle cx="348.9" cy="355.4" r="2.0"/><circle cx="358.8" cy="363.5" r="2.0"/><circle cx="352.2" cy="363.6" r="2.0"/><circle cx="361.0" cy="363.8" r="2.0"/><circle cx="350.0" cy="364.0" r="2.0"/><circle cx="357.7" cy="354.4" r="2.0"/></g>
<rect x="346.80" y="356.50" width="17.40" height="5.00" fill="#7fffd4" stroke="#7fffd4" stroke-width="1.3" fill-opacity="0.7"/>
<line x1="346.80" y1="359.00" x2="364.20" y2="359.00" stroke="#ffffff" stroke-width="1" stroke-dasharray="2 1" opacity="0.9"/>
<g fill="none" stroke="#3cb371" stroke-width="0.7" opacity="1"><circle cx="399.6" cy="298.7" r="2.0"/><circle cx="401.8" cy="298.7" r="2.0"/><circle cx="397.4" cy="298.9" r="2.0"/><circle cx="404.0" cy="298.9" r="2.0"/><circle cx="395.2" cy="298.4" r="2.0"/><circle cx="406.2" cy="299.1" r="2.0"/><circle cx="393.0" cy="298.3" r="2.0"/><circle cx="408.4" cy="299.2" r="2.0"/><circle cx="390.8" cy="298.1" r="2.0"/><circle cx="410.6" cy="299.3" r="2.0"/><circle cx="388.6" cy="298.0" r="2.0"/><circle cx="399.6" cy="299.5" r="2.0"/><circle cx="399.6" cy="299.5" r="2.0"/><circle cx="399.6" cy="297.8" r="2.0"/><circle cx="411.7" cy="297.4" r="2.0"/><circle cx="389.7" cy="300.0" r="2.0"/><circle cx="387.5" cy="300.1" r="2.0"/><circle cx="407.3" cy="297.1" r="2.0"/><circle cx="394.1" cy="300.4" r="2.0"/><circle cx="405.1" cy="297.0" r="2.0"/><circle cx="409.5" cy="296.9" r="2.0"/><circle cx="397.4" cy="296.7" r="2.0"/><circle cx="391.9" cy="300.8" r="2.0"/><circle cx="402.9" cy="300.9" r="2.0"/><circle cx="401.8" cy="296.4" r="2.0"/><circle cx="396.3" cy="301.0" r="2.0"/><circle cx="399.6" cy="301.0" r="2.0"/><circle cx="405.1" cy="301.1" r="2.0"/><circle cx="395.2" cy="296.1" r="2.0"/><circle cx="407.3" cy="301.4" r="2.0"/><circle cx="409.5" cy="301.4" r="2.0"/><circle cx="393.0" cy="295.8" r="2.0"/><circle cx="390.8" cy="295.7" r="2.0"/><circle cx="388.6" cy="295.7" r="2.0"/><circle cx="411.7" cy="301.8" r="2.0"/><circle cx="399.6" cy="295.5" r="2.0"/><circle cx="394.1" cy="302.6" r="2.0"/><circle cx="404.0" cy="294.8" r="2.0"/><circle cx="401.8" cy="302.9" r="2.0"/><circle cx="397.4" cy="294.4" r="2.0"/></g>
<rect x="390.90" y="296.00" width="17.40" height="5.30" fill="#3cb371" stroke="#3cb371" stroke-width="1.3" fill-opacity="0.7"/>
<line x1="390.90" y1="298.60" x2="408.30" y2="298.60" stroke="#ffffff" stroke-width="1" stroke-dasharray="2 1" opacity="0.9"/>
<g fill="none" stroke="#66cdaa" stroke-width="0.7" opacity="1"><circle cx="423.0" cy="340.0" r="2.0"/><circle cx="425.2" cy="339.7" r="2.0"/><circle cx="420.8" cy="340.3" r="2.0"/><circle cx="427.4" cy="340.4" r="2.0"/><circle cx="418.6" cy="340.4" r="2.0"/><circle cx="429.6" cy="340.5" r="2.0"/><circle cx="416.4" cy="339.5" r="2.0"/><circle cx="431.8" cy="339.5" r="2.0"/><circle cx="414.2" cy="340.6" r="2.0"/><circle cx="434.0" cy="340.7" r="2.0"/><circle cx="412.0" cy="339.2" r="2.0"/><circle cx="436.2" cy="340.8" r="2.0"/><circle cx="409.8" cy="339.2" r="2.0"/><circle cx="423.0" cy="341.0" r="2.0"/><circle cx="423.0" cy="341.0" r="2.0"/><circle cx="423.0" cy="339.0" r="2.0"/><circle cx="408.7" cy="341.1" r="2.0"/><circle cx="435.1" cy="338.6" r="2.0"/><circle cx="412.0" cy="341.6" r="2.0"/><circle cx="419.7" cy="338.3" r="2.0"/><circle cx="425.2" cy="341.9" r="2.0"/><circle cx="416.4" cy="342.0" r="2.0"/><circle cx="427.4" cy="338.0" r="2.0"/><circle cx="429.6" cy="337.8" r="2.0"/><circle cx="431.8" cy="342.2" r="2.0"/><circle cx="423.0" cy="342.2" r="2.0"/><circle cx="414.2" cy="337.7" r="2.0"/><circle cx="425.2" cy="337.3" r="2.0"/><circle cx="421.9" cy="337.0" r="2.0"/><circle cx="417.5" cy="336.8" r="2.0"/><circle cx="431.8" cy="336.7" r="2.0"/><circle cx="434.0" cy="336.6" r="2.0"/><circle cx="412.0" cy="336.4" r="2.0"/><circle cx="420.8" cy="343.6" r="2.0"/><circle cx="419.7" cy="336.1" r="2.0"/><circle cx="436.2" cy="336.0" r="2.0"/><circle cx="426.3" cy="344.0" r="2.0"/><circle cx="418.6" cy="344.0" r="2.0"/><circle cx="409.8" cy="336.0" r="2.0"/><circle cx="423.0" cy="335.9" r="2.0"/><circle cx="427.4" cy="335.8" r="2.0"/><circle cx="415.3" cy="335.7" r="2.0"/><circle cx="423.0" cy="344.5" r="2.0"/><circle cx="429.6" cy="335.4" r="2.0"/><circle cx="423.0" cy="335.4" r="2.0"/><circle cx="423.0" cy="335.4" r="2.0"/><circle cx="423.0" cy="335.3" r="2.0"/><circle cx="428.5" cy="344.8" r="2.0"/><circle cx="425.2" cy="335.1" r="2.0"/><circle cx="423.0" cy="334.9" r="2.0"/><circle cx="417.5" cy="334.6" r="2.0"/><circle cx="431.8" cy="334.3" r="2.0"/><circle cx="416.4" cy="345.7" r="2.0"/><circle cx="430.7" cy="345.7" r="2.0"/><circle cx="425.2" cy="345.9" r="2.0"/><circle cx="420.8" cy="346.3" r="2.0"/><circle cx="420.8" cy="333.2" r="2.0"/><circle cx="423.0" cy="348.2" r="2.0"/><circle cx="425.2" cy="348.8" r="2.0"/><circle cx="420.8" cy="349.4" r="2.0"/></g>
<rect x="414.30" y="335.60" width="17.40" height="7.40" fill="#66cdaa" stroke="#66cdaa" stroke-width="1.3" fill-opacity="0.7"/>
<line x1="414.30" y1="339.30" x2="431.70" y2="339.30" stroke="#ffffff" stroke-width="1" stroke-dasharray="2 1" opacity="0.9"/>
<g fill="none" stroke="#7fffd4" stroke-width="0.7" opacity="1"><circle cx="445.8" cy="350.6" r="2.0"/><circle cx="448.0" cy="350.5" r="2.0"/><circle cx="443.6" cy="350.7" r="2.0"/><circle cx="450.2" cy="350.3" r="2.0"/><circle cx="441.4" cy="350.9" r="2.0"/><circle cx="452.4" cy="350.3" r="2.0"/><circle cx="439.2" cy="350.2" r="2.0"/><circle cx="454.6" cy="350.2" r="2.0"/><circle cx="437.0" cy="350.2" r="2.0"/><circle cx="456.8" cy="351.0" r="2.0"/><circle cx="434.8" cy="350.0" r="2.0"/><circle cx="445.8" cy="350.0" r="2.0"/><circle cx="445.8" cy="351.2" r="2.0"/><circle cx="445.8" cy="350.0" r="2.0"/><circle cx="445.8" cy="349.9" r="2.0"/><circle cx="445.8" cy="349.8" r="2.0"/><circle cx="445.8" cy="349.8" r="2.0"/><circle cx="445.8" cy="351.5" r="2.0"/><circle cx="445.8" cy="349.7" r="2.0"/><circle cx="445.8" cy="351.6" r="2.0"/><circle cx="445.8" cy="349.6" r="2.0"/><circle cx="445.8" cy="351.6" r="2.0"/><circle cx="445.8" cy="349.4" r="2.0"/><circle cx="445.8" cy="351.8" r="2.0"/><circle cx="445.8" cy="349.3" r="2.0"/><circle cx="445.8" cy="349.2" r="2.0"/><circle cx="457.9" cy="349.1" r="2.0"/><circle cx="445.8" cy="349.0" r="2.0"/><circle cx="445.8" cy="349.0" r="2.0"/><circle cx="453.5" cy="352.2" r="2.0"/><circle cx="445.8" cy="348.9" r="2.0"/><circle cx="445.8" cy="348.9" r="2.0"/><circle cx="445.8" cy="348.9" r="2.0"/><circle cx="451.3" cy="352.4" r="2.0"/><circle cx="438.1" cy="352.4" r="2.0"/><circle cx="442.5" cy="348.7" r="2.0"/><circle cx="445.8" cy="348.5" r="2.0"/><circle cx="449.1" cy="352.7" r="2.0"/><circle cx="435.9" cy="352.7" r="2.0"/><circle cx="442.5" cy="352.8" r="2.0"/><circle cx="440.3" cy="352.8" r="2.0"/><circle cx="433.7" cy="352.8" r="2.0"/><circle cx="445.8" cy="352.8" r="2.0"/><circle cx="448.0" cy="348.3" r="2.0"/><circle cx="455.7" cy="353.0" r="2.0"/><circle cx="457.9" cy="353.1" r="2.0"/><circle cx="445.8" cy="353.2" r="2.0"/><circle cx="450.2" cy="347.9" r="2.0"/><circle cx="445.8" cy="353.3" r="2.0"/><circle cx="440.3" cy="347.7" r="2.0"/><circle cx="445.8" cy="353.7" r="2.0"/><circle cx="452.4" cy="347.4" r="2.0"/><circle cx="438.1" cy="347.2" r="2.0"/><circle cx="448.0" cy="355.3" r="2.0"/><circle cx="445.8" cy="345.8" r="2.0"/></g>
<rect x="437.10" y="347.50" width="17.40" height="5.50" fill="#7fffd4" stroke="#7fffd4" stroke-width="1.3" fill-opacity="0.7"/>
<line x1="437.10" y1="350.30" x2="454.50" y2="350.30" stroke="#ffffff" stroke-width="1" stroke-dasharray="2 1" opacity="0.9"/>
<g fill="#3cb371" stroke="#3cb371" stroke-width="0.7" opacity="1"><circle cx="305.0" cy="301.2" r="1.9"/><circle cx="304.6" cy="318.0" r="1.9"/></g>
<g fill="none" stroke="#66cdaa" stroke-width="0.7" opacity="1"><circle cx="320.5" cy="359.8" r="1.9"/><circle cx="323.0" cy="358.0" r="1.9"/><circle cx="319.5" cy="363.0" r="1.9"/></g>
<text x="399.8" y="294.9" font-size="11.7" text-anchor="middle" fill="#000" letter-spacing="-0.4">***</text>
<text x="424.0" y="333.0" font-size="11.7" text-anchor="middle" fill="#000" letter-spacing="-0.4">***</text>
<text x="448.7" y="343.8" font-size="11.7" text-anchor="middle" fill="#000" letter-spacing="-0.4">***</text>
<rect x="290.50" y="278.60" width="170.40" height="113.20" fill="none" stroke="#1a1a1a" stroke-width="1.1"/>
<text transform="translate(476.7,276.0) scale(1,1)" font-size="16.3" font-weight="bold" fill="#000">D</text>
<text x="512.3" y="312.2" font-size="11.3" text-anchor="end" fill="#111">10</text>
<line x1="513.20" y1="308.30" x2="521.70" y2="308.30" stroke="#1a1a1a" stroke-width="1.1"/>
<text x="512.3" y="351.8" font-size="11.3" text-anchor="end" fill="#111">3</text>
<line x1="513.20" y1="347.88" x2="517.70" y2="347.88" stroke="#1a1a1a" stroke-width="1.1"/>
<text x="512.3" y="387.9" font-size="11.3" text-anchor="end" fill="#111">1</text>
<line x1="513.20" y1="384.00" x2="521.70" y2="384.00" stroke="#1a1a1a" stroke-width="1.1"/>
<line x1="513.20" y1="361.21" x2="517.20" y2="361.21" stroke="#1a1a1a" stroke-width="0.9"/>
<line x1="513.20" y1="338.42" x2="517.20" y2="338.42" stroke="#1a1a1a" stroke-width="0.9"/>
<line x1="513.20" y1="331.09" x2="517.20" y2="331.09" stroke="#1a1a1a" stroke-width="0.9"/>
<line x1="513.20" y1="325.09" x2="517.20" y2="325.09" stroke="#1a1a1a" stroke-width="0.9"/>
<line x1="513.20" y1="320.03" x2="517.20" y2="320.03" stroke="#1a1a1a" stroke-width="0.9"/>
<line x1="513.20" y1="315.64" x2="517.20" y2="315.64" stroke="#1a1a1a" stroke-width="0.9"/>
<line x1="513.20" y1="311.76" x2="517.20" y2="311.76" stroke="#1a1a1a" stroke-width="0.9"/>
<line x1="513.20" y1="285.51" x2="517.20" y2="285.51" stroke="#1a1a1a" stroke-width="0.9"/>
<text x="496.0" y="336.0" font-size="11.7" text-anchor="middle" fill="#111" transform="rotate(-90 496.0 336.0)">N/C of RUNX2</text>
<text x="547.7" y="403.0" font-size="11.7" text-anchor="middle" fill="#111">1 day</text>
<line x1="547.70" y1="389.50" x2="547.70" y2="393.00" stroke="#1a1a1a" stroke-width="1"/>
<text x="635.0" y="403.0" font-size="11.7" text-anchor="middle" fill="#111">4 day</text>
<line x1="635.00" y1="389.50" x2="635.00" y2="393.00" stroke="#1a1a1a" stroke-width="1"/>
<text x="529.0" y="295.5" font-size="11.7" text-anchor="start" fill="#3cb371">12 μm</text>
<text x="529.0" y="309.3" font-size="11.7" text-anchor="start" fill="#66cdaa">91 μm</text>
<text x="529.0" y="323.1" font-size="11.7" text-anchor="start" fill="#7fffd4">170 μm</text>
<g fill="none" stroke="#3cb371" stroke-width="0.65" opacity="1"><circle cx="525.6" cy="354.8" r="1.8"/><circle cx="528.8" cy="354.7" r="1.8"/><circle cx="522.4" cy="355.7" r="1.8"/><circle cx="525.6" cy="356.1" r="1.8"/><circle cx="525.6" cy="353.2" r="1.8"/><circle cx="525.6" cy="353.2" r="1.8"/><circle cx="520.7" cy="352.4" r="1.8"/><circle cx="527.2" cy="359.1" r="1.8"/><circle cx="524.0" cy="360.1" r="1.8"/><circle cx="525.6" cy="348.5" r="1.8"/><circle cx="528.8" cy="348.2" r="1.8"/><circle cx="528.8" cy="361.9" r="1.8"/><circle cx="520.7" cy="362.9" r="1.8"/><circle cx="525.6" cy="363.8" r="1.8"/></g>
<g fill="none" stroke="#3cb371" stroke-width="0.65" opacity="1"><circle cx="525.6" cy="333.2" r="1.8"/><circle cx="525.6" cy="365.0" r="1.8"/></g>
<line x1="525.60" y1="333.20" x2="525.60" y2="347.40" stroke="#3cb371" stroke-width="1"/>
<line x1="525.60" y1="362.30" x2="525.60" y2="365.00" stroke="#3cb371" stroke-width="1"/>
<rect x="517.30" y="347.40" width="16.60" height="14.90" fill="none" stroke="#3cb371" stroke-width="1.7"/>
<line x1="517.30" y1="357.80" x2="533.90" y2="357.80" stroke="#3cb371" stroke-width="2"/>
<g fill="none" stroke="#66cdaa" stroke-width="0.65" opacity="1"><circle cx="547.7" cy="362.6" r="1.8"/><circle cx="550.9" cy="361.3" r="1.8"/><circle cx="544.5" cy="360.4" r="1.8"/><circle cx="544.5" cy="364.1" r="1.8"/><circle cx="547.7" cy="359.9" r="1.8"/><circle cx="547.7" cy="359.1" r="1.8"/><circle cx="552.6" cy="358.4" r="1.8"/><circle cx="547.7" cy="358.1" r="1.8"/><circle cx="542.8" cy="357.5" r="1.8"/><circle cx="547.7" cy="368.8" r="1.8"/><circle cx="547.7" cy="354.4" r="1.8"/><circle cx="547.7" cy="350.0" r="1.8"/><circle cx="550.9" cy="350.0" r="1.8"/><circle cx="544.5" cy="349.2" r="1.8"/></g>
<g fill="none" stroke="#66cdaa" stroke-width="0.65" opacity="1"><circle cx="547.7" cy="348.6" r="1.8"/><circle cx="547.7" cy="384.0" r="1.8"/></g>
<line x1="547.70" y1="348.60" x2="547.70" y2="352.80" stroke="#66cdaa" stroke-width="1"/>
<line x1="547.70" y1="374.40" x2="547.70" y2="384.00" stroke="#66cdaa" stroke-width="1"/>
<rect x="539.40" y="352.80" width="16.60" height="21.60" fill="none" stroke="#66cdaa" stroke-width="1.7"/>
<line x1="539.40" y1="359.00" x2="556.00" y2="359.00" stroke="#66cdaa" stroke-width="2"/>
<g fill="none" stroke="#7fffd4" stroke-width="0.65" opacity="1"><circle cx="569.8" cy="366.6" r="1.8"/><circle cx="573.0" cy="365.2" r="1.8"/><circle cx="566.6" cy="364.5" r="1.8"/><circle cx="571.4" cy="369.6" r="1.8"/><circle cx="568.2" cy="370.7" r="1.8"/><circle cx="574.7" cy="371.2" r="1.8"/><circle cx="569.8" cy="362.3" r="1.8"/><circle cx="574.7" cy="362.2" r="1.8"/><circle cx="566.6" cy="360.7" r="1.8"/><circle cx="571.4" cy="373.4" r="1.8"/><circle cx="571.4" cy="359.1" r="1.8"/><circle cx="568.2" cy="375.4" r="1.8"/><circle cx="574.7" cy="375.5" r="1.8"/><circle cx="574.7" cy="358.3" r="1.8"/><circle cx="564.9" cy="375.8" r="1.8"/><circle cx="569.8" cy="352.0" r="1.8"/></g>
<g fill="none" stroke="#7fffd4" stroke-width="0.65" opacity="1"><circle cx="569.8" cy="351.5" r="1.8"/><circle cx="569.8" cy="384.0" r="1.8"/></g>
<line x1="569.80" y1="351.50" x2="569.80" y2="361.00" stroke="#7fffd4" stroke-width="1"/>
<line x1="569.80" y1="372.80" x2="569.80" y2="384.00" stroke="#7fffd4" stroke-width="1"/>
<rect x="561.50" y="361.00" width="16.60" height="11.80" fill="none" stroke="#7fffd4" stroke-width="1.7"/>
<line x1="561.50" y1="367.30" x2="578.10" y2="367.30" stroke="#7fffd4" stroke-width="2"/>
<g fill="none" stroke="#3cb371" stroke-width="0.65" opacity="1"><circle cx="614.3" cy="327.8" r="1.8"/><circle cx="617.5" cy="326.7" r="1.8"/><circle cx="612.7" cy="324.8" r="1.8"/><circle cx="615.9" cy="323.1" r="1.8"/><circle cx="612.7" cy="321.4" r="1.8"/><circle cx="614.3" cy="337.6" r="1.8"/><circle cx="614.3" cy="313.1" r="1.8"/><circle cx="617.5" cy="312.3" r="1.8"/></g>
<g fill="none" stroke="#3cb371" stroke-width="0.65" opacity="1"><circle cx="614.3" cy="311.0" r="1.8"/><circle cx="614.3" cy="341.0" r="1.8"/></g>
<line x1="614.30" y1="311.00" x2="614.30" y2="320.30" stroke="#3cb371" stroke-width="1"/>
<line x1="614.30" y1="336.00" x2="614.30" y2="341.00" stroke="#3cb371" stroke-width="1"/>
<rect x="606.00" y="320.30" width="16.60" height="15.70" fill="none" stroke="#3cb371" stroke-width="1.7"/>
<line x1="606.00" y1="332.00" x2="622.60" y2="332.00" stroke="#3cb371" stroke-width="2"/>
<g fill="none" stroke="#66cdaa" stroke-width="0.65" opacity="1"><circle cx="636.3" cy="340.6" r="1.8"/><circle cx="639.5" cy="342.9" r="1.8"/><circle cx="636.3" cy="344.5" r="1.8"/><circle cx="636.3" cy="337.3" r="1.8"/><circle cx="639.5" cy="346.2" r="1.8"/><circle cx="639.5" cy="334.7" r="1.8"/><circle cx="636.3" cy="349.4" r="1.8"/><circle cx="639.5" cy="351.1" r="1.8"/></g>
<g fill="none" stroke="#66cdaa" stroke-width="0.65" opacity="1"><circle cx="636.3" cy="331.0" r="1.8"/><circle cx="636.3" cy="352.8" r="1.8"/></g>
<line x1="636.30" y1="331.00" x2="636.30" y2="336.00" stroke="#66cdaa" stroke-width="1"/>
<line x1="636.30" y1="346.50" x2="636.30" y2="352.80" stroke="#66cdaa" stroke-width="1"/>
<rect x="628.00" y="336.00" width="16.60" height="10.50" fill="none" stroke="#66cdaa" stroke-width="1.7"/>
<line x1="628.00" y1="340.30" x2="644.60" y2="340.30" stroke="#66cdaa" stroke-width="2"/>
<g fill="none" stroke="#7fffd4" stroke-width="0.65" opacity="1"><circle cx="658.8" cy="346.4" r="1.8"/><circle cx="662.0" cy="346.2" r="1.8"/><circle cx="655.6" cy="348.9" r="1.8"/><circle cx="658.8" cy="346.1" r="1.8"/><circle cx="653.9" cy="346.0" r="1.8"/><circle cx="660.4" cy="349.5" r="1.8"/><circle cx="658.8" cy="344.5" r="1.8"/><circle cx="658.8" cy="344.4" r="1.8"/><circle cx="662.0" cy="341.8" r="1.8"/><circle cx="658.8" cy="358.2" r="1.8"/></g>
<g fill="none" stroke="#7fffd4" stroke-width="0.65" opacity="1"><circle cx="658.8" cy="334.0" r="1.8"/><circle cx="658.8" cy="361.0" r="1.8"/></g>
<line x1="658.80" y1="334.00" x2="658.80" y2="341.50" stroke="#7fffd4" stroke-width="1"/>
<line x1="658.80" y1="352.80" x2="658.80" y2="361.00" stroke="#7fffd4" stroke-width="1"/>
<rect x="650.50" y="341.50" width="16.60" height="11.30" fill="none" stroke="#7fffd4" stroke-width="1.7"/>
<line x1="650.50" y1="347.40" x2="667.10" y2="347.40" stroke="#7fffd4" stroke-width="2"/>
<text x="612.8" y="312.1" font-size="11.7" text-anchor="middle" fill="#000" letter-spacing="-0.4">***</text>
<text x="634.9" y="327.0" font-size="11.7" text-anchor="middle" fill="#000" letter-spacing="-0.4">***</text>
<text x="657.5" y="334.2" font-size="11.7" text-anchor="middle" fill="#000" letter-spacing="-0.4">***</text>
<rect x="513.20" y="278.70" width="158.50" height="112.30" fill="none" stroke="#1a1a1a" stroke-width="1.1"/>
<text transform="translate(5.0,439.0) scale(1,1)" font-size="16.3" font-weight="bold" fill="#000">E</text>
<clipPath id="cE"><rect x="46.8" y="453.8" width="113.60000000000001" height="92.69999999999999"/></clipPath>
<g clip-path="url(#cE)">
<path d="M46.8,461.6 C49.0,462.4 55.3,464.5 60.0,466.5 C64.7,468.5 70.2,471.1 75.0,473.5 C79.8,475.9 84.2,478.4 88.7,480.8 C93.2,483.2 97.6,485.9 102.0,488.0 C106.4,490.1 111.2,492.4 115.0,493.7 C118.8,495.0 121.7,495.2 125.0,496.0 C128.3,496.8 130.8,497.8 134.6,498.6 C138.4,499.4 143.7,500.4 148.0,501.0 C152.3,501.6 158.3,502.2 160.4,502.4" fill="none" stroke="#2a7a35" stroke-width="1.4"/>
<path d="M46.8,499.2 C49.0,499.8 55.3,501.6 60.0,503.0 C64.7,504.4 70.2,505.9 75.0,507.5 C79.8,509.1 84.2,511.0 88.7,512.6 C93.2,514.2 97.6,515.7 102.0,517.0 C106.4,518.3 109.6,519.4 115.0,520.5 C120.4,521.6 129.1,522.9 134.6,523.8 C140.1,524.6 143.7,525.1 148.0,525.6 C152.3,526.1 158.3,526.6 160.4,526.8" fill="none" stroke="#5cc465" stroke-width="1.4"/>
<path d="M46.8,529.9 C49.0,530.4 55.3,531.6 60.0,532.6 C64.7,533.6 70.2,534.8 75.0,536.0 C79.8,537.2 84.2,538.6 88.7,539.6 C93.2,540.6 97.6,541.5 102.0,542.3 C106.4,543.1 109.6,543.7 115.0,544.2 C120.4,544.8 127.0,545.2 134.6,545.6 C142.2,546.0 156.1,546.3 160.4,546.4" fill="none" stroke="#b5ecb0" stroke-width="1.4"/>
</g>
<line x1="67.00" y1="541.40" x2="109.82" y2="472.89" stroke="#9a9a9a" stroke-width="1.3"/>
<polygon points="113.0,467.8 112.0,474.3 107.6,471.5" fill="#9a9a9a"/>
<text x="112.6" y="484.2" font-size="12.3" font-style="italic" font-family="'Liberation Serif', serif" fill="#111">N<tspan font-size="8.8" dy="2.4" font-style="normal">c</tspan></text>
<text x="45.0" y="459.7" font-size="11.3" text-anchor="end" fill="#111">3.0</text>
<line x1="46.80" y1="454.10" x2="49.30" y2="454.10" stroke="#1a1a1a" stroke-width="0.9"/>
<line x1="160.40" y1="454.10" x2="157.90" y2="454.10" stroke="#1a1a1a" stroke-width="0.9"/>
<text x="45.0" y="480.7" font-size="11.3" text-anchor="end" fill="#111">2.5</text>
<line x1="46.80" y1="475.90" x2="49.30" y2="475.90" stroke="#1a1a1a" stroke-width="0.9"/>
<line x1="160.40" y1="475.90" x2="157.90" y2="475.90" stroke="#1a1a1a" stroke-width="0.9"/>
<text x="45.0" y="502.5" font-size="11.3" text-anchor="end" fill="#111">2.0</text>
<line x1="46.80" y1="497.70" x2="49.30" y2="497.70" stroke="#1a1a1a" stroke-width="0.9"/>
<line x1="160.40" y1="497.70" x2="157.90" y2="497.70" stroke="#1a1a1a" stroke-width="0.9"/>
<text x="45.0" y="524.3" font-size="11.3" text-anchor="end" fill="#111">1.5</text>
<line x1="46.80" y1="519.50" x2="49.30" y2="519.50" stroke="#1a1a1a" stroke-width="0.9"/>
<line x1="160.40" y1="519.50" x2="157.90" y2="519.50" stroke="#1a1a1a" stroke-width="0.9"/>
<text x="45.0" y="546.1" font-size="11.3" text-anchor="end" fill="#111">1.0</text>
<line x1="46.80" y1="541.30" x2="49.30" y2="541.30" stroke="#1a1a1a" stroke-width="0.9"/>
<line x1="160.40" y1="541.30" x2="157.90" y2="541.30" stroke="#1a1a1a" stroke-width="0.9"/>
<text x="47.3" y="452.6" font-size="11.3" text-anchor="start" fill="#111">×10<tspan font-size="8.3" dy="-4">4</tspan></text>
<text x="46.8" y="561.8" font-size="11.7" text-anchor="middle" fill="#111">10</text>
<text x="88.6" y="561.8" font-size="11.7" text-anchor="middle" fill="#111">30</text>
<text x="134.4" y="561.8" font-size="11.7" text-anchor="middle" fill="#111">100</text>
<text x="164.8" y="561.8" font-size="11.7" text-anchor="middle" fill="#111">200</text>
<line x1="73.17" y1="546.50" x2="73.17" y2="544.90" stroke="#1a1a1a" stroke-width="0.8"/>
<line x1="73.17" y1="453.80" x2="73.17" y2="455.40" stroke="#1a1a1a" stroke-width="0.8"/>
<line x1="88.60" y1="546.50" x2="88.60" y2="544.90" stroke="#1a1a1a" stroke-width="0.8"/>
<line x1="88.60" y1="453.80" x2="88.60" y2="455.40" stroke="#1a1a1a" stroke-width="0.8"/>
<line x1="99.54" y1="546.50" x2="99.54" y2="544.90" stroke="#1a1a1a" stroke-width="0.8"/>
<line x1="99.54" y1="453.80" x2="99.54" y2="455.40" stroke="#1a1a1a" stroke-width="0.8"/>
<line x1="108.03" y1="546.50" x2="108.03" y2="544.90" stroke="#1a1a1a" stroke-width="0.8"/>
<line x1="108.03" y1="453.80" x2="108.03" y2="455.40" stroke="#1a1a1a" stroke-width="0.8"/>
<line x1="114.97" y1="546.50" x2="114.97" y2="544.90" stroke="#1a1a1a" stroke-width="0.8"/>
<line x1="114.97" y1="453.80" x2="114.97" y2="455.40" stroke="#1a1a1a" stroke-width="0.8"/>
<line x1="120.83" y1="546.50" x2="120.83" y2="544.90" stroke="#1a1a1a" stroke-width="0.8"/>
<line x1="120.83" y1="453.80" x2="120.83" y2="455.40" stroke="#1a1a1a" stroke-width="0.8"/>
<line x1="125.91" y1="546.50" x2="125.91" y2="544.90" stroke="#1a1a1a" stroke-width="0.8"/>
<line x1="125.91" y1="453.80" x2="125.91" y2="455.40" stroke="#1a1a1a" stroke-width="0.8"/>
<line x1="130.39" y1="546.50" x2="130.39" y2="544.90" stroke="#1a1a1a" stroke-width="0.8"/>
<line x1="130.39" y1="453.80" x2="130.39" y2="455.40" stroke="#1a1a1a" stroke-width="0.8"/>
<line x1="134.40" y1="546.50" x2="134.40" y2="544.00" stroke="#1a1a1a" stroke-width="0.8"/>
<line x1="134.40" y1="453.80" x2="134.40" y2="456.30" stroke="#1a1a1a" stroke-width="0.8"/>
<line x1="160.77" y1="546.50" x2="160.77" y2="544.90" stroke="#1a1a1a" stroke-width="0.8"/>
<line x1="160.77" y1="453.80" x2="160.77" y2="455.40" stroke="#1a1a1a" stroke-width="0.8"/>
<text x="103.5" y="573.5" font-size="11.7" text-anchor="middle" fill="#111">Thickness (μm)</text>
<text x="22.8" y="500.5" font-size="11.7" text-anchor="middle" fill="#111" transform="rotate(-90 22.8 500.5)">Cell area (μm<tspan font-size="7.5" dy="-4">2</tspan><tspan dy="4">)</tspan></text>
<rect x="46.80" y="453.80" width="113.60" height="92.70" fill="none" stroke="#1a1a1a" stroke-width="1.1"/>
<text transform="translate(169.0,439.0) scale(1,1)" font-size="16.3" font-weight="bold" fill="#000">F</text>
<clipPath id="cF"><rect x="209.7" y="454" width="111.69999999999999" height="93.20000000000005"/></clipPath>
<g clip-path="url(#cF)">
<path d="M209.7,510.0 C211.1,511.1 214.3,514.0 218.0,516.5 C221.7,519.0 226.6,522.6 232.0,525.3 C237.4,527.9 244.3,530.6 250.6,532.4 C256.9,534.1 262.5,534.9 270.0,535.8 C277.5,536.6 287.2,537.1 295.8,537.5 C304.4,537.9 317.1,538.2 321.4,538.3" fill="none" stroke="#b5ecb0" stroke-width="1.4"/>
<path d="M209.7,486.0 C211.1,488.2 214.3,494.0 218.0,499.0 C221.7,504.0 226.6,511.1 232.0,515.8 C237.4,520.5 244.3,524.5 250.6,527.3 C256.9,530.1 262.5,531.2 270.0,532.6 C277.5,534.0 287.2,534.9 295.8,535.5 C304.4,536.1 317.1,536.3 321.4,536.5" fill="none" stroke="#5cc465" stroke-width="1.4"/>
<path d="M209.7,456.5 C210.8,459.1 213.6,466.7 216.0,472.0 C218.4,477.3 221.3,483.4 224.0,488.5 C226.7,493.6 229.3,498.8 232.0,502.6 C234.7,506.5 236.9,508.8 240.0,511.6 C243.1,514.4 246.9,517.3 250.6,519.6 C254.3,521.9 257.5,523.7 262.0,525.5 C266.5,527.3 271.8,529.1 277.4,530.4 C283.0,531.6 288.5,532.3 295.8,533.0 C303.1,533.7 317.1,534.2 321.4,534.5" fill="none" stroke="#2a7a35" stroke-width="1.4"/>
</g>
<line x1="216.90" y1="542.60" x2="251.71" y2="493.88" stroke="#9a9a9a" stroke-width="1.3"/>
<polygon points="255.2,489.0 253.8,495.4 249.6,492.4" fill="#9a9a9a"/>
<text x="250.8" y="504.6" font-size="12.3" font-style="italic" font-family="'Liberation Serif', serif" fill="#111">N<tspan font-size="8.8" dy="2.4" font-style="normal">c</tspan></text>
<text x="208.0" y="459.6" font-size="11.3" text-anchor="end" fill="#111">30</text>
<line x1="209.70" y1="454.05" x2="212.20" y2="454.05" stroke="#1a1a1a" stroke-width="0.9"/>
<line x1="321.40" y1="454.05" x2="318.90" y2="454.05" stroke="#1a1a1a" stroke-width="0.9"/>
<text x="208.0" y="490.6" font-size="11.3" text-anchor="end" fill="#111">20</text>
<line x1="209.70" y1="485.10" x2="212.20" y2="485.10" stroke="#1a1a1a" stroke-width="0.9"/>
<line x1="321.40" y1="485.10" x2="318.90" y2="485.10" stroke="#1a1a1a" stroke-width="0.9"/>
<text x="208.0" y="521.7" font-size="11.3" text-anchor="end" fill="#111">10</text>
<line x1="209.70" y1="516.15" x2="212.20" y2="516.15" stroke="#1a1a1a" stroke-width="0.9"/>
<line x1="321.40" y1="516.15" x2="318.90" y2="516.15" stroke="#1a1a1a" stroke-width="0.9"/>
<text x="208.0" y="552.7" font-size="11.3" text-anchor="end" fill="#111">0</text>
<text x="210.7" y="563.0" font-size="11.7" text-anchor="middle" fill="#111">10</text>
<text x="250.7" y="563.0" font-size="11.7" text-anchor="middle" fill="#111">30</text>
<text x="295.7" y="563.0" font-size="11.7" text-anchor="middle" fill="#111">100</text>
<text x="324.6" y="563.0" font-size="11.7" text-anchor="middle" fill="#111">200</text>
<line x1="235.59" y1="547.20" x2="235.59" y2="545.60" stroke="#1a1a1a" stroke-width="0.8"/>
<line x1="235.59" y1="454.00" x2="235.59" y2="455.60" stroke="#1a1a1a" stroke-width="0.8"/>
<line x1="250.73" y1="547.20" x2="250.73" y2="545.60" stroke="#1a1a1a" stroke-width="0.8"/>
<line x1="250.73" y1="454.00" x2="250.73" y2="455.60" stroke="#1a1a1a" stroke-width="0.8"/>
<line x1="261.48" y1="547.20" x2="261.48" y2="545.60" stroke="#1a1a1a" stroke-width="0.8"/>
<line x1="261.48" y1="454.00" x2="261.48" y2="455.60" stroke="#1a1a1a" stroke-width="0.8"/>
<line x1="269.81" y1="547.20" x2="269.81" y2="545.60" stroke="#1a1a1a" stroke-width="0.8"/>
<line x1="269.81" y1="454.00" x2="269.81" y2="455.60" stroke="#1a1a1a" stroke-width="0.8"/>
<line x1="276.62" y1="547.20" x2="276.62" y2="545.60" stroke="#1a1a1a" stroke-width="0.8"/>
<line x1="276.62" y1="454.00" x2="276.62" y2="455.60" stroke="#1a1a1a" stroke-width="0.8"/>
<line x1="282.38" y1="547.20" x2="282.38" y2="545.60" stroke="#1a1a1a" stroke-width="0.8"/>
<line x1="282.38" y1="454.00" x2="282.38" y2="455.60" stroke="#1a1a1a" stroke-width="0.8"/>
<line x1="287.37" y1="547.20" x2="287.37" y2="545.60" stroke="#1a1a1a" stroke-width="0.8"/>
<line x1="287.37" y1="454.00" x2="287.37" y2="455.60" stroke="#1a1a1a" stroke-width="0.8"/>
<line x1="291.76" y1="547.20" x2="291.76" y2="545.60" stroke="#1a1a1a" stroke-width="0.8"/>
<line x1="291.76" y1="454.00" x2="291.76" y2="455.60" stroke="#1a1a1a" stroke-width="0.8"/>
<line x1="295.70" y1="547.20" x2="295.70" y2="544.70" stroke="#1a1a1a" stroke-width="0.8"/>
<line x1="295.70" y1="454.00" x2="295.70" y2="456.50" stroke="#1a1a1a" stroke-width="0.8"/>
<line x1="321.59" y1="547.20" x2="321.59" y2="545.60" stroke="#1a1a1a" stroke-width="0.8"/>
<line x1="321.59" y1="454.00" x2="321.59" y2="455.60" stroke="#1a1a1a" stroke-width="0.8"/>
<text x="266.0" y="575.0" font-size="11.7" text-anchor="middle" fill="#111">Thickness (μm)</text>
<text x="190.3" y="501.2" font-size="11.7" text-anchor="middle" fill="#111" transform="rotate(-90 190.3 501.2)">Corrected CS (nN/nm)</text>
<rect x="209.70" y="454.00" width="111.70" height="93.20" fill="none" stroke="#1a1a1a" stroke-width="1.1"/>
<text transform="translate(335.5,439.0) scale(1,1)" font-size="16.3" font-weight="bold" fill="#000">G</text>
<rect x="382.30" y="490.80" width="12.70" height="56.20" fill="#3fa46e" stroke="#4a5a52" stroke-width="0.7"/>
<rect x="398.10" y="502.50" width="12.80" height="44.50" fill="#62e3a8" stroke="#4a5a52" stroke-width="0.7"/>
<rect x="413.70" y="504.30" width="12.80" height="42.70" fill="#94f7d8" stroke="#4a5a52" stroke-width="0.7"/>
<rect x="444.90" y="457.00" width="12.70" height="90.00" fill="#3fa46e" stroke="#4a5a52" stroke-width="0.7"/>
<rect x="460.20" y="470.30" width="12.80" height="76.70" fill="#62e3a8" stroke="#4a5a52" stroke-width="0.7"/>
<rect x="475.50" y="472.40" width="12.80" height="74.60" fill="#94f7d8" stroke="#4a5a52" stroke-width="0.7"/>
<text x="371.8" y="459.0" font-size="11.3" text-anchor="end" fill="#111">3.0</text>
<line x1="373.30" y1="454.03" x2="376.10" y2="454.03" stroke="#1a1a1a" stroke-width="0.9"/>
<line x1="497.70" y1="454.03" x2="494.90" y2="454.03" stroke="#1a1a1a" stroke-width="0.9"/>
<text x="371.8" y="504.6" font-size="11.3" text-anchor="end" fill="#111">1.0</text>
<line x1="373.30" y1="498.40" x2="376.10" y2="498.40" stroke="#1a1a1a" stroke-width="0.9"/>
<line x1="497.70" y1="498.40" x2="494.90" y2="498.40" stroke="#1a1a1a" stroke-width="0.9"/>
<text x="371.8" y="553.2" font-size="11.3" text-anchor="end" fill="#111">0.3</text>
<line x1="373.30" y1="547.03" x2="376.10" y2="547.03" stroke="#1a1a1a" stroke-width="0.9"/>
<line x1="497.70" y1="547.03" x2="494.90" y2="547.03" stroke="#1a1a1a" stroke-width="0.9"/>
<line x1="373.30" y1="535.41" x2="374.90" y2="535.41" stroke="#1a1a1a" stroke-width="0.8"/>
<line x1="497.70" y1="535.41" x2="496.10" y2="535.41" stroke="#1a1a1a" stroke-width="0.8"/>
<line x1="373.30" y1="526.40" x2="374.90" y2="526.40" stroke="#1a1a1a" stroke-width="0.8"/>
<line x1="497.70" y1="526.40" x2="496.10" y2="526.40" stroke="#1a1a1a" stroke-width="0.8"/>
<line x1="373.30" y1="519.03" x2="374.90" y2="519.03" stroke="#1a1a1a" stroke-width="0.8"/>
<line x1="497.70" y1="519.03" x2="496.10" y2="519.03" stroke="#1a1a1a" stroke-width="0.8"/>
<line x1="373.30" y1="512.81" x2="374.90" y2="512.81" stroke="#1a1a1a" stroke-width="0.8"/>
<line x1="497.70" y1="512.81" x2="496.10" y2="512.81" stroke="#1a1a1a" stroke-width="0.8"/>
<line x1="373.30" y1="507.41" x2="374.90" y2="507.41" stroke="#1a1a1a" stroke-width="0.8"/>
<line x1="497.70" y1="507.41" x2="496.10" y2="507.41" stroke="#1a1a1a" stroke-width="0.8"/>
<line x1="373.30" y1="502.66" x2="374.90" y2="502.66" stroke="#1a1a1a" stroke-width="0.8"/>
<line x1="497.70" y1="502.66" x2="496.10" y2="502.66" stroke="#1a1a1a" stroke-width="0.8"/>
<line x1="373.30" y1="470.40" x2="374.90" y2="470.40" stroke="#1a1a1a" stroke-width="0.8"/>
<line x1="497.70" y1="470.40" x2="496.10" y2="470.40" stroke="#1a1a1a" stroke-width="0.8"/>
<text x="373.3" y="452.6" font-size="11.3" text-anchor="start" fill="#111">×10<tspan font-size="8.3" dy="-4">4</tspan></text>
<text x="404.5" y="562.8" font-size="11.7" text-anchor="middle" fill="#111">1 day</text>
<line x1="404.50" y1="547.00" x2="404.50" y2="544.50" stroke="#1a1a1a" stroke-width="0.9"/>
<line x1="404.50" y1="454.00" x2="404.50" y2="456.50" stroke="#1a1a1a" stroke-width="0.9"/>
<text x="466.6" y="562.8" font-size="11.7" text-anchor="middle" fill="#111">4 day</text>
<line x1="466.60" y1="547.00" x2="466.60" y2="544.50" stroke="#1a1a1a" stroke-width="0.9"/>
<line x1="466.60" y1="454.00" x2="466.60" y2="456.50" stroke="#1a1a1a" stroke-width="0.9"/>
<text x="394.3" y="466.8" font-size="11.7" text-anchor="start" fill="#3f9626">12 μm</text>
<text x="394.3" y="480.5" font-size="11.7" text-anchor="start" fill="#62e3a8">91 μm</text>
<text x="394.3" y="494.2" font-size="11.7" text-anchor="start" fill="#94f7d8">170 μm</text>
<text x="350.1" y="501.2" font-size="11.7" text-anchor="middle" fill="#111" transform="rotate(-90 350.1 501.2)">Cell area (μm<tspan font-size="7.5" dy="-4">2</tspan><tspan dy="4">)</tspan></text>
<rect x="373.30" y="454.00" width="124.40" height="93.00" fill="none" stroke="#1a1a1a" stroke-width="1.1"/>
<text transform="translate(478.8,439.0) scale(1,1)" font-size="16.3" font-weight="bold" fill="#000">H</text>
<rect x="553.40" y="488.20" width="12.80" height="57.80" fill="#3fa46e" stroke="#4a5a52" stroke-width="0.7"/>
<rect x="569.50" y="517.00" width="12.80" height="29.00" fill="#62e3a8" stroke="#4a5a52" stroke-width="0.7"/>
<rect x="585.40" y="519.10" width="12.70" height="26.90" fill="#94f7d8" stroke="#4a5a52" stroke-width="0.7"/>
<rect x="616.80" y="466.00" width="12.80" height="80.00" fill="#3fa46e" stroke="#4a5a52" stroke-width="0.7"/>
<rect x="632.60" y="505.60" width="12.80" height="40.40" fill="#62e3a8" stroke="#4a5a52" stroke-width="0.7"/>
<rect x="648.70" y="508.70" width="12.80" height="37.30" fill="#94f7d8" stroke="#4a5a52" stroke-width="0.7"/>
<text x="543.0" y="464.6" font-size="11.3" text-anchor="end" fill="#111">30</text>
<line x1="544.50" y1="459.15" x2="547.30" y2="459.15" stroke="#1a1a1a" stroke-width="0.9"/>
<line x1="671.70" y1="459.15" x2="668.90" y2="459.15" stroke="#1a1a1a" stroke-width="0.9"/>
<text x="543.0" y="492.7" font-size="11.3" text-anchor="end" fill="#111">10</text>
<line x1="544.50" y1="487.20" x2="547.30" y2="487.20" stroke="#1a1a1a" stroke-width="0.9"/>
<line x1="671.70" y1="487.20" x2="668.90" y2="487.20" stroke="#1a1a1a" stroke-width="0.9"/>
<text x="543.0" y="523.4" font-size="11.3" text-anchor="end" fill="#111">3</text>
<line x1="544.50" y1="517.95" x2="547.30" y2="517.95" stroke="#1a1a1a" stroke-width="0.9"/>
<line x1="671.70" y1="517.95" x2="668.90" y2="517.95" stroke="#1a1a1a" stroke-width="0.9"/>
<text x="543.0" y="551.5" font-size="11.3" text-anchor="end" fill="#111">1</text>
<line x1="544.50" y1="546.00" x2="547.30" y2="546.00" stroke="#1a1a1a" stroke-width="0.9"/>
<line x1="671.70" y1="546.00" x2="668.90" y2="546.00" stroke="#1a1a1a" stroke-width="0.9"/>
<line x1="544.50" y1="528.30" x2="546.10" y2="528.30" stroke="#1a1a1a" stroke-width="0.8"/>
<line x1="671.70" y1="528.30" x2="670.10" y2="528.30" stroke="#1a1a1a" stroke-width="0.8"/>
<line x1="544.50" y1="510.60" x2="546.10" y2="510.60" stroke="#1a1a1a" stroke-width="0.8"/>
<line x1="671.70" y1="510.60" x2="670.10" y2="510.60" stroke="#1a1a1a" stroke-width="0.8"/>
<line x1="544.50" y1="504.90" x2="546.10" y2="504.90" stroke="#1a1a1a" stroke-width="0.8"/>
<line x1="671.70" y1="504.90" x2="670.10" y2="504.90" stroke="#1a1a1a" stroke-width="0.8"/>
<line x1="544.50" y1="500.24" x2="546.10" y2="500.24" stroke="#1a1a1a" stroke-width="0.8"/>
<line x1="671.70" y1="500.24" x2="670.10" y2="500.24" stroke="#1a1a1a" stroke-width="0.8"/>
<line x1="544.50" y1="496.31" x2="546.10" y2="496.31" stroke="#1a1a1a" stroke-width="0.8"/>
<line x1="671.70" y1="496.31" x2="670.10" y2="496.31" stroke="#1a1a1a" stroke-width="0.8"/>
<line x1="544.50" y1="492.90" x2="546.10" y2="492.90" stroke="#1a1a1a" stroke-width="0.8"/>
<line x1="671.70" y1="492.90" x2="670.10" y2="492.90" stroke="#1a1a1a" stroke-width="0.8"/>
<line x1="544.50" y1="489.89" x2="546.10" y2="489.89" stroke="#1a1a1a" stroke-width="0.8"/>
<line x1="671.70" y1="489.89" x2="670.10" y2="489.89" stroke="#1a1a1a" stroke-width="0.8"/>
<line x1="544.50" y1="469.50" x2="546.10" y2="469.50" stroke="#1a1a1a" stroke-width="0.8"/>
<line x1="671.70" y1="469.50" x2="670.10" y2="469.50" stroke="#1a1a1a" stroke-width="0.8"/>
<line x1="544.50" y1="451.80" x2="546.10" y2="451.80" stroke="#1a1a1a" stroke-width="0.8"/>
<line x1="671.70" y1="451.80" x2="670.10" y2="451.80" stroke="#1a1a1a" stroke-width="0.8"/>
<text x="577.0" y="562.8" font-size="11.7" text-anchor="middle" fill="#111">1 day</text>
<line x1="577.00" y1="546.00" x2="577.00" y2="543.50" stroke="#1a1a1a" stroke-width="0.9"/>
<line x1="577.00" y1="452.00" x2="577.00" y2="454.50" stroke="#1a1a1a" stroke-width="0.9"/>
<text x="640.8" y="562.8" font-size="11.7" text-anchor="middle" fill="#111">4 day</text>
<line x1="640.80" y1="546.00" x2="640.80" y2="543.50" stroke="#1a1a1a" stroke-width="0.9"/>
<line x1="640.80" y1="452.00" x2="640.80" y2="454.50" stroke="#1a1a1a" stroke-width="0.9"/>
<text x="569.5" y="466.0" font-size="11.7" text-anchor="start" fill="#3f9626">12 μm</text>
<text x="569.5" y="479.7" font-size="11.7" text-anchor="start" fill="#62e3a8">91 μm</text>
<text x="569.5" y="493.4" font-size="11.7" text-anchor="start" fill="#94f7d8">170 μm</text>
<text x="528.4" y="498.0" font-size="11.7" text-anchor="middle" fill="#111" transform="rotate(-90 528.4 498.0)">Corrected CS (nN/nm)</text>
<rect x="544.50" y="452.00" width="127.20" height="94.00" fill="none" stroke="#1a1a1a" stroke-width="1.1"/>
<text transform="translate(3.0,609.0) scale(1,1)" font-size="16.3" font-weight="bold" fill="#000">I</text>
<text x="64.8" y="628.0" font-size="11.7" text-anchor="middle" fill="#111">Unpatt.</text>
<text x="120.5" y="628.0" font-size="11.7" text-anchor="middle" fill="#111">10,000</text>
<text x="167.8" y="628.0" font-size="11.7" text-anchor="middle" fill="#111">4,225</text>
<text x="205.9" y="628.0" font-size="11.7" text-anchor="middle" fill="#111">2,025</text>
<text x="243.1" y="628.0" font-size="11.7" text-anchor="middle" fill="#111">529</text>
<text x="273.8" y="628.0" font-size="11.7" text-anchor="middle" fill="#111">(μm<tspan font-size="8" dy="-3.8">2</tspan><tspan dy="3.8">)</tspan></text>
<rect x="36.40" y="633.00" width="52.10" height="49.70" fill="#7aaee0" stroke="#111" stroke-width="1"/>
<clipPath id="cI"><rect x="36.9" y="633.5" width="51.1" height="48.7"/></clipPath>
<g clip-path="url(#cI)">
<path d="M45.8,638.0 C47.7,638.8 52.6,642.4 57.2,642.8 C61.9,643.3 69.2,642.5 73.6,640.7 C78.1,638.8 82.1,631.2 83.9,631.9 C85.8,632.6 84.9,640.8 84.8,645.0 C84.7,649.2 83.8,652.5 83.5,657.1 C83.2,661.6 84.7,668.4 83.1,672.4 C81.4,676.4 75.8,679.4 73.6,681.2 C71.5,682.9 71.4,682.9 69.9,682.7 C68.5,682.5 67.0,681.5 64.9,680.1 C62.8,678.6 60.3,675.0 57.2,673.9 C54.1,672.8 49.6,673.1 46.3,673.5 C42.9,673.9 37.6,677.6 37.1,676.1 C36.5,674.7 41.0,668.5 43.0,664.7 C45.0,661.0 48.2,657.1 48.9,653.8 C49.6,650.5 47.9,647.7 47.4,645.0 C46.9,642.4 46.1,639.2 45.8,638.0" fill="#a6f2c1" stroke="none" stroke-width="0"/>
</g>
<circle cx="64.9" cy="656.6" r="7.7" fill="#3c9c48"/>
<path d="M59.6,657.5 A5.6,5.6 0 0 1 63,651.6" fill="none" stroke="#e8ffe8" stroke-width="0.9" stroke-linecap="round"/>
<rect x="36.40" y="633.00" width="52.10" height="49.70" fill="none" stroke="#111" stroke-width="1"/>
<rect x="98.40" y="638.50" width="42.70" height="39.80" fill="#7aaee0" stroke="#111" stroke-width="1"/>
<rect x="152.00" y="645.60" width="27.60" height="25.90" fill="#7aaee0" stroke="#111" stroke-width="1"/>
<rect x="196.20" y="649.60" width="19.30" height="17.90" fill="#7aaee0" stroke="#111" stroke-width="1"/>
<rect x="236.50" y="654.00" width="9.70" height="8.70" fill="#7aaee0" stroke="#111" stroke-width="1"/>
<text transform="translate(333.1,604.6) scale(1,1)" font-size="16.3" font-weight="bold" fill="#000">J</text>
<text x="405.8" y="626.9" font-size="11.7" text-anchor="middle" fill="#111">Unpatt.</text>
<text x="468.2" y="626.9" font-size="11.7" text-anchor="middle" fill="#111">10,000</text>
<text x="530.1" y="626.9" font-size="11.7" text-anchor="middle" fill="#111">4,225</text>
<text x="592.3" y="626.9" font-size="11.7" text-anchor="middle" fill="#111">2,025</text>
<text x="653.8" y="626.9" font-size="11.7" text-anchor="middle" fill="#111">529</text>
<rect x="350.20" y="636.80" width="22.90" height="61.60" fill="#000" stroke="none" stroke-width="1"/>
<text x="365.8" y="667.6" font-size="11.6" text-anchor="middle" fill="#35c45a" transform="rotate(-90 365.8 667.6)">RUNX2</text>
<rect x="350.20" y="702.90" width="22.90" height="62.40" fill="#000" stroke="none" stroke-width="1"/>
<text x="365.8" y="734.1" font-size="11.6" text-anchor="middle" fill="#e8281c" transform="rotate(-90 365.8 734.1)">F-actin</text>
<rect x="350.20" y="769.10" width="22.90" height="62.50" fill="#000" stroke="none" stroke-width="1"/>
<text x="365.8" y="800.4" font-size="11.6" text-anchor="middle" fill="#2a22e0" transform="rotate(-90 365.8 800.4)">DAPI</text>
<rect x="376.40" y="636.80" width="58.70" height="61.60" fill="#010401" stroke="none" stroke-width="1"/>
<clipPath id="cJ00"><rect x="376.40" y="636.80" width="58.70" height="61.60"/></clipPath>
<rect x="439.10" y="636.80" width="58.20" height="61.60" fill="#010401" stroke="none" stroke-width="1"/>
<clipPath id="cJ10"><rect x="439.10" y="636.80" width="58.20" height="61.60"/></clipPath>
<rect x="500.80" y="636.80" width="58.60" height="61.60" fill="#010401" stroke="none" stroke-width="1"/>
<clipPath id="cJ20"><rect x="500.80" y="636.80" width="58.60" height="61.60"/></clipPath>
<rect x="562.90" y="636.80" width="58.90" height="61.60" fill="#010401" stroke="none" stroke-width="1"/>
<clipPath id="cJ30"><rect x="562.90" y="636.80" width="58.90" height="61.60"/></clipPath>
<rect x="625.50" y="636.80" width="59.50" height="61.60" fill="#010401" stroke="none" stroke-width="1"/>
<clipPath id="cJ40"><rect x="625.50" y="636.80" width="59.50" height="61.60"/></clipPath>
<rect x="376.40" y="702.90" width="58.70" height="62.40" fill="#050000" stroke="none" stroke-width="1"/>
<clipPath id="cJ01"><rect x="376.40" y="702.90" width="58.70" height="62.40"/></clipPath>
<rect x="439.10" y="702.90" width="58.20" height="62.40" fill="#050000" stroke="none" stroke-width="1"/>
<clipPath id="cJ11"><rect x="439.10" y="702.90" width="58.20" height="62.40"/></clipPath>
<rect x="500.80" y="702.90" width="58.60" height="62.40" fill="#050000" stroke="none" stroke-width="1"/>
<clipPath id="cJ21"><rect x="500.80" y="702.90" width="58.60" height="62.40"/></clipPath>
<rect x="562.90" y="702.90" width="58.90" height="62.40" fill="#050000" stroke="none" stroke-width="1"/>
<clipPath id="cJ31"><rect x="562.90" y="702.90" width="58.90" height="62.40"/></clipPath>
<rect x="625.50" y="702.90" width="59.50" height="62.40" fill="#050000" stroke="none" stroke-width="1"/>
<clipPath id="cJ41"><rect x="625.50" y="702.90" width="59.50" height="62.40"/></clipPath>
<rect x="376.40" y="769.10" width="58.70" height="62.50" fill="#000005" stroke="none" stroke-width="1"/>
<clipPath id="cJ02"><rect x="376.40" y="769.10" width="58.70" height="62.50"/></clipPath>
<rect x="439.10" y="769.10" width="58.20" height="62.50" fill="#000005" stroke="none" stroke-width="1"/>
<clipPath id="cJ12"><rect x="439.10" y="769.10" width="58.20" height="62.50"/></clipPath>
<rect x="500.80" y="769.10" width="58.60" height="62.50" fill="#000005" stroke="none" stroke-width="1"/>
<clipPath id="cJ22"><rect x="500.80" y="769.10" width="58.60" height="62.50"/></clipPath>
<rect x="562.90" y="769.10" width="58.90" height="62.50" fill="#000005" stroke="none" stroke-width="1"/>
<clipPath id="cJ32"><rect x="562.90" y="769.10" width="58.90" height="62.50"/></clipPath>
<rect x="625.50" y="769.10" width="59.50" height="62.50" fill="#000005" stroke="none" stroke-width="1"/>
<clipPath id="cJ42"><rect x="625.50" y="769.10" width="59.50" height="62.50"/></clipPath>
<g clip-path="url(#cJ00)">
<polygon points="386.8,657.1 400.5,654.8 428.0,652.5 429.2,660.5 414.3,665.1 393.6,666.2 385.6,662.8" fill="#2a7a1c" opacity="0.35" filter="url(#b3)"/>
<ellipse cx="395.4" cy="661.3" rx="6" ry="3.4" fill="#48d028" opacity="0.8" transform="rotate(-8 395.4 661.3)" filter="url(#b2)"/>
<ellipse cx="395.4" cy="661.3" rx="3.8" ry="2.2" fill="#7cf850" opacity="0.95" transform="rotate(-8 395.4 661.3)" filter="url(#tg)"/>
<polygon points="398.7,696.0 403.9,697.2 405.1,699.5 400.0,699.5" fill="#40e030" opacity="0.9" filter="url(#b1)"/>
</g>
<g clip-path="url(#cJ10)">
<polygon points="471.6,646.8 487.1,673.1 463.5,689.8 445.9,662.3" fill="#2a8a1c" opacity="0.2" filter="url(#b1)"/>
<polygon points="471.6,646.8 487.1,673.1 463.5,689.8 445.9,662.3" fill="#38a828" opacity="0.17" filter="url(#tg)"/>
<ellipse cx="472.7" cy="671.5" rx="4.5" ry="6.2" fill="#48d028" opacity="0.7" transform="rotate(20 472.7 671.5)" filter="url(#b2)"/>
<ellipse cx="472.7" cy="671.5" rx="3.6" ry="5.2" fill="#70f048" opacity="0.9" transform="rotate(20 472.7 671.5)" filter="url(#tg)"/>
</g>
<g clip-path="url(#cJ20)">
<polygon points="510.3,650.7 547.1,658.9 541.7,691.7 506.2,680.8" fill="#2a8a1c" opacity="0.28" filter="url(#b2)"/>
<polygon points="510.3,650.7 547.1,658.9 541.7,691.7 506.2,680.8" fill="#44c030" opacity="0.3" filter="url(#tg)"/>
<ellipse cx="526.7" cy="669.9" rx="10" ry="11" fill="#40b82c" opacity="0.45" transform="rotate(0 526.7 669.9)" filter="url(#tg)"/>
<g fill="#7cff50" opacity="0.8"><circle cx="521.7" cy="671.5" r="0.25"/><circle cx="543.4" cy="678.1" r="0.70"/><circle cx="519.7" cy="657.6" r="0.27"/><circle cx="517.4" cy="651.8" r="0.56"/><circle cx="523.1" cy="677.9" r="0.59"/><circle cx="522.5" cy="656.5" r="0.41"/><circle cx="512.0" cy="672.4" r="0.34"/><circle cx="515.9" cy="680.3" r="0.45"/><circle cx="542.2" cy="683.3" r="0.55"/><circle cx="519.2" cy="655.9" r="0.36"/><circle cx="535.3" cy="667.9" r="0.38"/><circle cx="511.6" cy="662.6" r="0.43"/><circle cx="513.3" cy="659.2" r="0.38"/><circle cx="524.7" cy="667.3" r="0.50"/></g>
</g>
<g clip-path="url(#cJ30)">
<ellipse cx="591.6" cy="665.2" rx="12.3" ry="12.3" fill="#2a8a1c" opacity="0.4" transform="rotate(0 591.6 665.2)" filter="url(#b2)"/>
<ellipse cx="591.6" cy="665.2" rx="12" ry="12" fill="#48c834" opacity="0.48" transform="rotate(0 591.6 665.2)" filter="url(#tg)"/>
<g fill="#7cff50" opacity="0.8"><circle cx="584.2" cy="666.5" r="0.70"/><circle cx="588.8" cy="665.7" r="0.42"/><circle cx="595.6" cy="668.0" r="0.52"/><circle cx="599.6" cy="668.2" r="0.40"/><circle cx="589.5" cy="667.1" r="0.56"/><circle cx="586.8" cy="669.9" r="0.45"/><circle cx="596.1" cy="658.5" r="0.39"/><circle cx="583.3" cy="663.7" r="0.36"/><circle cx="588.9" cy="660.5" r="0.63"/><circle cx="593.8" cy="662.6" r="0.47"/><circle cx="586.1" cy="672.1" r="0.66"/><circle cx="592.7" cy="659.5" r="0.68"/></g>
</g>
<g clip-path="url(#cJ40)">
<ellipse cx="652.2" cy="668.5" rx="9.5" ry="12.5" fill="#2a8a1c" opacity="0.3" transform="rotate(0 652.2 668.5)" filter="url(#b2)"/>
<ellipse cx="652.2" cy="668.5" rx="9.5" ry="12.5" fill="#40b82c" opacity="0.3" transform="rotate(0 652.2 668.5)" filter="url(#tg)"/>
<ellipse cx="652.2" cy="669.0" rx="4.5" ry="6.5" fill="#020602" opacity="0.45" transform="rotate(0 652.2 669.0)" filter="url(#b2)"/>
</g>
<g clip-path="url(#cJ01)">
<polygon points="384.0,725.4 398.2,721.9 428.0,716.9 429.6,724.7 414.3,732.0 395.9,735.2 385.6,732.0" fill="#901408" opacity="0.4" filter="url(#b1)"/>
<g transform="rotate(-10 405.1 726.9)"><polygon points="384.6,721.7 399.2,720.8 429.4,721.0 429.6,729.0 413.2,733.5 394.6,733.5 385.0,728.6" fill="#f02c14" opacity="0.9" filter="url(#tx)"/></g>
<rect x="385" y="712" width="52" height="26" fill="url(#fadeR)"/>
<polygon points="398.7,762.5 403.9,764.1 405.1,765.9 400.0,765.9" fill="#e02818" opacity="0.9" filter="url(#b1)"/>
</g>
<g clip-path="url(#cJ11)">
<path d="M472.8,712.5 Q478.9,726.8 487.7,739.5 Q474.2,747.0 462.3,757.4 Q455.1,741.7 445.4,727.6 Q459.9,721.5 472.8,712.5Z" fill="#a81606" opacity="0.75" filter="url(#b1)"/>
<g transform="rotate(60 467.0 734.3)"><path d="M451.1,718.4 Q466.5,720.3 481.9,719.0 Q481.7,734.4 484.7,749.9 Q467.5,748.2 450.4,749.7 Q452.4,734.1 451.1,718.4Z" fill="#ff3018" opacity="0.85" filter="url(#tx)"/></g>
<g transform="rotate(-32 467.0 734.3)"><path d="M483.4,718.9 Q481.0,734.3 481.7,749.7 Q466.3,748.9 450.7,751.4 Q453.0,734.2 452.2,717.1 Q467.7,719.6 483.4,718.9Z" fill="#ff3a20" opacity="0.6" filter="url(#tx)"/></g>
<path d="M472.8,712.5 Q478.9,726.8 487.7,739.5 Q474.2,747.0 462.3,757.4 Q455.1,741.7 445.4,727.6 Q459.9,721.5 472.8,712.5Z" fill="none" stroke="#ff3820" stroke-width="1.1" opacity="0.75" filter="url(#b1)"/>
<ellipse cx="471.5" cy="739.5" rx="6.5" ry="7" fill="url(#holeC)" transform="rotate(30 471.5 739.5)"/>
</g>
<g clip-path="url(#cJ21)">
<polygon points="511.7,717.6 547.1,724.5 541.7,757.2 507.6,749.0" fill="#c01808" opacity="0.85" filter="url(#b1)"/>
<g transform="rotate(40 527.0 737.1)"><polygon points="502.7,732.1 534.3,714.5 551.2,743.1 519.8,758.7" fill="#ff3018" opacity="0.95" filter="url(#tx)"/></g>
<clipPath id="cQ"><polygon points="511.7,717.6 547.1,724.5 541.7,757.2 507.6,749.0"/></clipPath>
<g clip-path="url(#cQ)">
<ellipse cx="532.1" cy="729.9" rx="11" ry="9" fill="#1a0000" opacity="0.75" transform="rotate(20 532.1 729.9)" filter="url(#b3)"/>
</g>
<polygon points="508.9,736.7 528.0,742.2 539.0,755.9 507.8,748.8" fill="#ff2810" opacity="0.8" filter="url(#b2)"/>
</g>
<g clip-path="url(#cJ31)">
<circle cx="592.2" cy="732.6" r="11" fill="#801006" opacity="0.55" filter="url(#b1)"/>
<circle cx="592.2" cy="732.6" r="11.3" fill="none" stroke="#d02010" stroke-width="2.2" opacity="0.85" filter="url(#tg)"/>
<circle cx="594" cy="733" r="6" fill="none" stroke="#c82010" stroke-width="1.2" opacity="0.7" filter="url(#tg)"/>
</g>
<g clip-path="url(#cJ41)">
<ellipse cx="652.8" cy="734.6" rx="10.3" ry="12.8" fill="#c41c0c" opacity="0.9" transform="rotate(0 652.8 734.6)" filter="url(#b1)"/>
<ellipse cx="652.8" cy="734.6" rx="9.8" ry="12.3" fill="none" stroke="#ff3820" stroke-width="1.8" filter="url(#b1)"/>
<ellipse cx="652.8" cy="734.6" rx="8" ry="10" fill="#f02c14" opacity="0.6" transform="rotate(0 652.8 734.6)" filter="url(#tg)"/>
</g>
<ellipse cx="396.0" cy="794.3" rx="3.4" ry="2.4" fill="#2a22f0" opacity="1" transform="rotate(-10 396.0 794.3)" filter="url(#b1)"/>
<ellipse cx="473.7" cy="805.4" rx="4.2" ry="3.8" fill="#2a22f0" opacity="1" transform="rotate(-20 473.7 805.4)" filter="url(#b1)"/>
<ellipse cx="531.8" cy="802.2" rx="3.3" ry="6.8" fill="#2420c8" opacity="0.8" transform="rotate(-8 531.8 802.2)" filter="url(#b1)"/>
<ellipse cx="589.1" cy="797.0" rx="6.5" ry="4.8" fill="#2a22e8" opacity="1" transform="rotate(-35 589.1 797.0)" filter="url(#b1)"/>
<ellipse cx="650.8" cy="802.2" rx="6.5" ry="8.5" fill="#2a22e8" opacity="1" transform="rotate(10 650.8 802.2)" filter="url(#b1)"/>
<ellipse cx="650.8" cy="802.2" rx="10" ry="12" fill="#1a1a90" opacity="0.18" transform="rotate(0 650.8 802.2)" filter="url(#b3)"/>
<ellipse cx="473.0" cy="803.0" rx="13" ry="11" fill="#14147a" opacity="0.12" transform="rotate(0 473.0 803.0)" filter="url(#b3)"/>
<rect x="419.60" y="824.00" width="7.40" height="1.80" fill="#b8b8b8" stroke="none" stroke-width="1"/>
<rect x="475.00" y="824.00" width="14.50" height="1.80" fill="#b8b8b8" stroke="none" stroke-width="1"/>
<rect x="537.80" y="824.00" width="17.10" height="1.80" fill="#b8b8b8" stroke="none" stroke-width="1"/>
<rect x="593.50" y="824.00" width="20.50" height="1.80" fill="#b8b8b8" stroke="none" stroke-width="1"/>
<rect x="649.00" y="824.00" width="28.60" height="1.80" fill="#b8b8b8" stroke="none" stroke-width="1"/>
<text transform="translate(-0.5,712.6) scale(1,1)" font-size="16.3" font-weight="bold" fill="#000">K</text>
<text x="52.8" y="736.9" font-size="11.3" text-anchor="end" fill="#111">1,000</text>
<line x1="55.20" y1="733.10" x2="62.50" y2="733.10" stroke="#1a1a1a" stroke-width="1.1"/>
<text x="49.4" y="774.6" font-size="11.3" text-anchor="end" fill="#111">100</text>
<line x1="55.20" y1="770.80" x2="62.50" y2="770.80" stroke="#1a1a1a" stroke-width="1.1"/>
<text x="49.4" y="812.3" font-size="11.3" text-anchor="end" fill="#111">10</text>
<line x1="55.20" y1="808.50" x2="62.50" y2="808.50" stroke="#1a1a1a" stroke-width="1.1"/>
<line x1="55.20" y1="797.15" x2="58.40" y2="797.15" stroke="#1a1a1a" stroke-width="0.9"/>
<line x1="55.20" y1="790.51" x2="58.40" y2="790.51" stroke="#1a1a1a" stroke-width="0.9"/>
<line x1="55.20" y1="785.80" x2="58.40" y2="785.80" stroke="#1a1a1a" stroke-width="0.9"/>
<line x1="55.20" y1="782.15" x2="58.40" y2="782.15" stroke="#1a1a1a" stroke-width="0.9"/>
<line x1="55.20" y1="779.16" x2="58.40" y2="779.16" stroke="#1a1a1a" stroke-width="0.9"/>
<line x1="55.20" y1="776.64" x2="58.40" y2="776.64" stroke="#1a1a1a" stroke-width="0.9"/>
<line x1="55.20" y1="774.45" x2="58.40" y2="774.45" stroke="#1a1a1a" stroke-width="0.9"/>
<line x1="55.20" y1="772.53" x2="58.40" y2="772.53" stroke="#1a1a1a" stroke-width="0.9"/>
<line x1="55.20" y1="759.45" x2="58.40" y2="759.45" stroke="#1a1a1a" stroke-width="0.9"/>
<line x1="55.20" y1="752.81" x2="58.40" y2="752.81" stroke="#1a1a1a" stroke-width="0.9"/>
<line x1="55.20" y1="748.10" x2="58.40" y2="748.10" stroke="#1a1a1a" stroke-width="0.9"/>
<line x1="55.20" y1="744.45" x2="58.40" y2="744.45" stroke="#1a1a1a" stroke-width="0.9"/>
<line x1="55.20" y1="741.46" x2="58.40" y2="741.46" stroke="#1a1a1a" stroke-width="0.9"/>
<line x1="55.20" y1="738.94" x2="58.40" y2="738.94" stroke="#1a1a1a" stroke-width="0.9"/>
<line x1="55.20" y1="736.75" x2="58.40" y2="736.75" stroke="#1a1a1a" stroke-width="0.9"/>
<line x1="55.20" y1="734.83" x2="58.40" y2="734.83" stroke="#1a1a1a" stroke-width="0.9"/>
<text x="23.3" y="767.3" font-size="11.7" text-anchor="middle" fill="#111" transform="rotate(-90 23.3 767.3)">Contact stiffness (N/m)</text>
<line x1="69.10" y1="802.50" x2="69.10" y2="810.50" stroke="#1a1a1a" stroke-width="1"/>
<text x="67.3" y="826.6" font-size="11.5" text-anchor="middle" fill="#111" transform="rotate(-45 67.3 826.6)" dominant-baseline="central">Unpatt.</text>
<line x1="92.20" y1="802.50" x2="92.20" y2="810.50" stroke="#1a1a1a" stroke-width="1"/>
<text x="90.4" y="826.6" font-size="11.5" text-anchor="middle" fill="#111" transform="rotate(-45 90.4 826.6)" dominant-baseline="central">10,000</text>
<line x1="115.30" y1="802.50" x2="115.30" y2="810.50" stroke="#1a1a1a" stroke-width="1"/>
<text x="113.5" y="826.6" font-size="11.5" text-anchor="middle" fill="#111" transform="rotate(-45 113.5 826.6)" dominant-baseline="central">4,225</text>
<line x1="138.50" y1="802.50" x2="138.50" y2="810.50" stroke="#1a1a1a" stroke-width="1"/>
<text x="136.7" y="826.6" font-size="11.5" text-anchor="middle" fill="#111" transform="rotate(-45 136.7 826.6)" dominant-baseline="central">2,025</text>
<line x1="161.60" y1="802.50" x2="161.60" y2="810.50" stroke="#1a1a1a" stroke-width="1"/>
<text x="159.8" y="826.6" font-size="11.5" text-anchor="middle" fill="#111" transform="rotate(-45 159.8 826.6)" dominant-baseline="central">529</text>
<g fill="none" stroke="#2e8b57" stroke-width="0.7" opacity="1"><circle cx="69.1" cy="737.0" r="1.7"/><circle cx="69.1" cy="740.0" r="1.7"/><circle cx="69.1" cy="743.0" r="1.7"/><circle cx="69.1" cy="746.5" r="1.7"/><circle cx="69.1" cy="750.0" r="1.7"/><circle cx="69.1" cy="753.5" r="1.7"/><circle cx="69.1" cy="756.7" r="1.7"/></g>
<rect x="61.00" y="741.40" width="17.00" height="2.40" fill="#2e8b57" stroke="#2e8b57" stroke-width="1"/>
<g fill="none" stroke="#3dbf83" stroke-width="0.7" opacity="1"><circle cx="92.2" cy="747.4" r="1.7"/><circle cx="93.9" cy="748.1" r="1.7"/><circle cx="92.2" cy="745.2" r="1.7"/><circle cx="93.9" cy="745.1" r="1.7"/><circle cx="90.5" cy="746.8" r="1.7"/><circle cx="95.6" cy="746.9" r="1.7"/><circle cx="90.5" cy="744.7" r="1.7"/><circle cx="88.8" cy="745.3" r="1.7"/><circle cx="97.3" cy="746.3" r="1.7"/><circle cx="88.8" cy="747.6" r="1.7"/><circle cx="87.1" cy="746.3" r="1.7"/><circle cx="99.0" cy="745.8" r="1.7"/><circle cx="85.4" cy="746.0" r="1.7"/><circle cx="100.7" cy="746.6" r="1.7"/><circle cx="83.7" cy="745.3" r="1.7"/><circle cx="102.4" cy="746.3" r="1.7"/><circle cx="82.0" cy="746.7" r="1.7"/><circle cx="90.5" cy="748.6" r="1.7"/><circle cx="104.1" cy="746.3" r="1.7"/><circle cx="99.0" cy="747.7" r="1.7"/><circle cx="95.6" cy="744.9" r="1.7"/><circle cx="84.5" cy="747.5" r="1.7"/><circle cx="80.3" cy="746.6" r="1.7"/><circle cx="105.8" cy="745.6" r="1.7"/><circle cx="78.6" cy="746.3" r="1.7"/><circle cx="105.8" cy="747.6" r="1.7"/><circle cx="92.2" cy="745.9" r="1.7"/><circle cx="92.2" cy="747.8" r="1.7"/><circle cx="96.5" cy="748.4" r="1.7"/><circle cx="87.1" cy="748.6" r="1.7"/><circle cx="100.7" cy="748.6" r="1.7"/><circle cx="87.1" cy="744.6" r="1.7"/><circle cx="92.2" cy="746.8" r="1.7"/><circle cx="92.2" cy="745.4" r="1.7"/><circle cx="92.2" cy="747.6" r="1.7"/><circle cx="92.2" cy="746.4" r="1.7"/></g>
<rect x="83.50" y="744.60" width="17.50" height="3.60" fill="none" stroke="#3dbf83" stroke-width="1.2"/>
<g fill="none" stroke="#4fdfa6" stroke-width="0.7" opacity="1"><circle cx="115.3" cy="766.7" r="1.7"/><circle cx="116.8" cy="767.2" r="1.7"/><circle cx="115.3" cy="764.7" r="1.7"/><circle cx="113.8" cy="766.4" r="1.7"/><circle cx="116.8" cy="764.4" r="1.7"/><circle cx="115.3" cy="771.0" r="1.7"/><circle cx="118.4" cy="765.1" r="1.7"/><circle cx="112.2" cy="766.2" r="1.7"/><circle cx="115.3" cy="762.0" r="1.7"/><circle cx="116.8" cy="762.7" r="1.7"/><circle cx="113.8" cy="764.2" r="1.7"/><circle cx="114.5" cy="768.0" r="1.7"/><circle cx="113.0" cy="767.9" r="1.7"/><circle cx="118.4" cy="766.8" r="1.7"/><circle cx="112.2" cy="764.6" r="1.7"/><circle cx="116.8" cy="770.5" r="1.7"/></g>
<rect x="106.50" y="763.30" width="17.60" height="4.50" fill="none" stroke="#4fdfa6" stroke-width="1.3"/>
<line x1="106.50" y1="765.55" x2="124.10" y2="765.55" stroke="#fff" stroke-width="0.8" opacity="0.8"/>
<g fill="none" stroke="#62dcd2" stroke-width="0.7" opacity="1"><circle cx="138.5" cy="776.9" r="1.7"/><circle cx="140.0" cy="777.3" r="1.7"/><circle cx="138.5" cy="780.5" r="1.7"/><circle cx="137.0" cy="777.0" r="1.7"/><circle cx="140.0" cy="780.0" r="1.7"/><circle cx="140.0" cy="781.6" r="1.7"/><circle cx="137.0" cy="779.2" r="1.7"/><circle cx="141.6" cy="780.3" r="1.7"/><circle cx="135.4" cy="779.4" r="1.7"/><circle cx="141.6" cy="777.7" r="1.7"/><circle cx="135.4" cy="776.5" r="1.7"/><circle cx="138.5" cy="779.3" r="1.7"/><circle cx="139.3" cy="775.5" r="1.7"/><circle cx="138.5" cy="778.0" r="1.7"/><circle cx="138.5" cy="779.8" r="1.7"/><circle cx="138.5" cy="782.5" r="1.7"/></g>
<rect x="129.70" y="776.50" width="17.60" height="4.50" fill="none" stroke="#62dcd2" stroke-width="1.3"/>
<line x1="129.70" y1="778.75" x2="147.30" y2="778.75" stroke="#fff" stroke-width="0.8" opacity="0.8"/>
<g fill="none" stroke="#8cfbdc" stroke-width="0.7" opacity="1"><circle cx="161.6" cy="791.3" r="1.7"/><circle cx="161.6" cy="793.3" r="1.7"/><circle cx="161.6" cy="795.1" r="1.7"/><circle cx="163.1" cy="795.8" r="1.7"/><circle cx="163.1" cy="791.3" r="1.7"/><circle cx="161.6" cy="798.9" r="1.7"/><circle cx="160.1" cy="792.6" r="1.7"/><circle cx="161.6" cy="797.1" r="1.7"/><circle cx="163.1" cy="794.1" r="1.7"/><circle cx="160.1" cy="795.5" r="1.7"/><circle cx="163.1" cy="798.5" r="1.7"/><circle cx="164.7" cy="796.2" r="1.7"/><circle cx="158.5" cy="794.8" r="1.7"/><circle cx="164.7" cy="792.2" r="1.7"/><circle cx="158.5" cy="793.0" r="1.7"/><circle cx="159.3" cy="791.2" r="1.7"/></g>
<rect x="152.80" y="791.70" width="17.60" height="4.50" fill="none" stroke="#8cfbdc" stroke-width="1.3"/>
<line x1="152.80" y1="793.95" x2="170.40" y2="793.95" stroke="#fff" stroke-width="0.8" opacity="0.8"/>
<text x="93.3" y="739.2" font-size="11.7" text-anchor="middle" fill="#111">ns</text>
<text x="115.8" y="762.2" font-size="11.7" text-anchor="middle" fill="#000" letter-spacing="-0.4">***</text>
<text x="138.7" y="775.8" font-size="11.7" text-anchor="middle" fill="#000" letter-spacing="-0.4">***</text>
<text x="161.6" y="791.0" font-size="11.7" text-anchor="middle" fill="#000" letter-spacing="-0.4">***</text>
<rect x="55.20" y="726.50" width="120.10" height="82.00" fill="none" stroke="#1a1a1a" stroke-width="1.1"/>
<text transform="translate(185.5,709.8) scale(1,1)" font-size="16.3" font-weight="bold" fill="#000">L</text>
<text x="208.7" y="729.7" font-size="11.3" text-anchor="end" fill="#111">8</text>
<line x1="207.20" y1="725.70" x2="209.20" y2="725.70" stroke="#1a1a1a" stroke-width="1"/>
<text x="208.7" y="750.4" font-size="11.3" text-anchor="end" fill="#111">6</text>
<line x1="207.20" y1="746.40" x2="209.20" y2="746.40" stroke="#1a1a1a" stroke-width="1"/>
<text x="208.7" y="771.1" font-size="11.3" text-anchor="end" fill="#111">4</text>
<line x1="207.20" y1="767.10" x2="209.20" y2="767.10" stroke="#1a1a1a" stroke-width="1"/>
<text x="208.7" y="791.8" font-size="11.3" text-anchor="end" fill="#111">2</text>
<line x1="207.20" y1="787.80" x2="209.20" y2="787.80" stroke="#1a1a1a" stroke-width="1"/>
<text x="208.7" y="812.5" font-size="11.3" text-anchor="end" fill="#111">0</text>
<line x1="207.20" y1="808.50" x2="209.20" y2="808.50" stroke="#1a1a1a" stroke-width="1"/>
<text x="198.3" y="767.3" font-size="11.7" text-anchor="middle" fill="#111" transform="rotate(-90 198.3 767.3)">N/C of RUNX2</text>
<line x1="221.00" y1="808.50" x2="221.00" y2="810.70" stroke="#1a1a1a" stroke-width="1"/>
<text x="219.2" y="827.6" font-size="11.5" text-anchor="middle" fill="#111" transform="rotate(-45 219.2 827.6)" dominant-baseline="central">529</text>
<line x1="244.10" y1="808.50" x2="244.10" y2="810.70" stroke="#1a1a1a" stroke-width="1"/>
<text x="242.3" y="827.6" font-size="11.5" text-anchor="middle" fill="#111" transform="rotate(-45 242.3 827.6)" dominant-baseline="central">2,025</text>
<line x1="267.50" y1="808.50" x2="267.50" y2="810.70" stroke="#1a1a1a" stroke-width="1"/>
<text x="265.7" y="827.6" font-size="11.5" text-anchor="middle" fill="#111" transform="rotate(-45 265.7 827.6)" dominant-baseline="central">4,225</text>
<line x1="290.60" y1="808.50" x2="290.60" y2="810.70" stroke="#1a1a1a" stroke-width="1"/>
<text x="288.8" y="827.6" font-size="11.5" text-anchor="middle" fill="#111" transform="rotate(-45 288.8 827.6)" dominant-baseline="central">10,000</text>
<line x1="314.30" y1="808.50" x2="314.30" y2="810.70" stroke="#1a1a1a" stroke-width="1"/>
<text x="312.5" y="827.6" font-size="11.5" text-anchor="middle" fill="#111" transform="rotate(-45 312.5 827.6)" dominant-baseline="central">Unpatt.</text>
<g fill="#8cfbdc" stroke="#8cfbdc" stroke-width="0.6" opacity="1"><circle cx="221.0" cy="800.0" r="1.1"/><circle cx="222.5" cy="800.7" r="1.1"/><circle cx="219.5" cy="800.7" r="1.1"/><circle cx="224.1" cy="800.2" r="1.1"/><circle cx="217.9" cy="800.0" r="1.1"/><circle cx="225.6" cy="800.3" r="1.1"/><circle cx="216.4" cy="799.6" r="1.1"/><circle cx="222.5" cy="798.9" r="1.1"/><circle cx="219.5" cy="798.7" r="1.1"/><circle cx="224.1" cy="798.5" r="1.1"/><circle cx="227.2" cy="799.9" r="1.1"/><circle cx="214.8" cy="800.3" r="1.1"/><circle cx="217.2" cy="801.4" r="1.1"/><circle cx="228.7" cy="800.2" r="1.1"/><circle cx="213.3" cy="800.0" r="1.1"/><circle cx="230.2" cy="800.4" r="1.1"/><circle cx="211.8" cy="799.7" r="1.1"/><circle cx="221.0" cy="797.8" r="1.1"/><circle cx="221.0" cy="800.8" r="1.1"/><circle cx="221.0" cy="799.2" r="1.1"/><circle cx="221.0" cy="799.9" r="1.1"/><circle cx="221.0" cy="799.4" r="1.1"/><circle cx="221.0" cy="800.9" r="1.1"/><circle cx="221.0" cy="800.1" r="1.1"/><circle cx="225.6" cy="798.5" r="1.1"/><circle cx="221.0" cy="800.6" r="1.1"/></g>
<rect x="213.00" y="798.20" width="16.00" height="2.80" fill="none" stroke="#8cfbdc" stroke-width="1.1"/>
<g fill="#62dcd2" stroke="#62dcd2" stroke-width="0.6" opacity="0.85"><circle cx="244.1" cy="794.6" r="1.1"/><circle cx="246.3" cy="795.3" r="1.1"/><circle cx="241.9" cy="795.5" r="1.1"/><circle cx="241.9" cy="793.2" r="1.1"/><circle cx="245.2" cy="792.5" r="1.1"/><circle cx="248.5" cy="796.6" r="1.1"/><circle cx="247.4" cy="792.0" r="1.1"/><circle cx="239.7" cy="791.8" r="1.1"/><circle cx="249.6" cy="791.8" r="1.1"/><circle cx="244.1" cy="791.7" r="1.1"/><circle cx="244.1" cy="797.4" r="1.1"/><circle cx="246.3" cy="797.6" r="1.1"/><circle cx="241.9" cy="798.3" r="1.1"/><circle cx="239.7" cy="798.3" r="1.1"/><circle cx="244.1" cy="798.4" r="1.1"/><circle cx="248.5" cy="798.9" r="1.1"/><circle cx="246.3" cy="790.0" r="1.1"/><circle cx="244.1" cy="799.0" r="1.1"/><circle cx="244.1" cy="799.1" r="1.1"/><circle cx="243.0" cy="789.5" r="1.1"/><circle cx="240.8" cy="789.4" r="1.1"/><circle cx="246.3" cy="800.1" r="1.1"/></g>
<g fill="#62dcd2" stroke="#62dcd2" stroke-width="0.6" opacity="1"><circle cx="244.1" cy="783.0" r="1.1"/><circle cx="244.1" cy="801.4" r="1.1"/></g>
<line x1="244.10" y1="783.00" x2="244.10" y2="791.40" stroke="#62dcd2" stroke-width="1"/>
<line x1="244.10" y1="797.50" x2="244.10" y2="801.40" stroke="#62dcd2" stroke-width="1"/>
<rect x="235.50" y="791.40" width="17.20" height="6.10" fill="none" stroke="#62dcd2" stroke-width="1.3"/>
<line x1="235.50" y1="794.50" x2="252.70" y2="794.50" stroke="#62dcd2" stroke-width="1.5"/>
<g fill="#4fdfa6" stroke="#4fdfa6" stroke-width="0.6" opacity="0.85"><circle cx="267.5" cy="787.4" r="1.1"/><circle cx="269.7" cy="786.6" r="1.1"/><circle cx="265.3" cy="786.3" r="1.1"/><circle cx="271.9" cy="787.8" r="1.1"/><circle cx="263.1" cy="788.1" r="1.1"/><circle cx="263.1" cy="785.7" r="1.1"/><circle cx="267.5" cy="790.2" r="1.1"/><circle cx="269.7" cy="790.9" r="1.1"/><circle cx="265.3" cy="791.4" r="1.1"/><circle cx="267.5" cy="792.5" r="1.1"/><circle cx="271.9" cy="792.6" r="1.1"/><circle cx="267.5" cy="781.1" r="1.1"/><circle cx="269.7" cy="793.3" r="1.1"/><circle cx="269.7" cy="780.0" r="1.1"/><circle cx="267.5" cy="794.9" r="1.1"/><circle cx="267.5" cy="778.9" r="1.1"/><circle cx="269.7" cy="777.7" r="1.1"/><circle cx="267.5" cy="798.7" r="1.1"/></g>
<g fill="#4fdfa6" stroke="#4fdfa6" stroke-width="0.6" opacity="1"><circle cx="267.5" cy="777.2" r="1.1"/><circle cx="267.5" cy="799.6" r="1.1"/></g>
<line x1="267.50" y1="777.20" x2="267.50" y2="780.90" stroke="#4fdfa6" stroke-width="1"/>
<line x1="267.50" y1="794.00" x2="267.50" y2="799.60" stroke="#4fdfa6" stroke-width="1"/>
<rect x="258.90" y="780.90" width="17.20" height="13.10" fill="none" stroke="#4fdfa6" stroke-width="1.3"/>
<line x1="258.90" y1="787.00" x2="276.10" y2="787.00" stroke="#4fdfa6" stroke-width="1.5"/>
<g fill="#3dbf83" stroke="#3dbf83" stroke-width="0.6" opacity="0.85"><circle cx="290.6" cy="777.7" r="1.1"/><circle cx="292.8" cy="777.7" r="1.1"/><circle cx="288.4" cy="777.6" r="1.1"/><circle cx="295.0" cy="778.6" r="1.1"/><circle cx="286.2" cy="778.8" r="1.1"/><circle cx="290.6" cy="779.1" r="1.1"/><circle cx="290.6" cy="779.7" r="1.1"/><circle cx="292.8" cy="780.4" r="1.1"/><circle cx="288.4" cy="780.4" r="1.1"/><circle cx="296.1" cy="780.5" r="1.1"/><circle cx="290.6" cy="780.6" r="1.1"/><circle cx="290.6" cy="775.3" r="1.1"/><circle cx="292.8" cy="774.9" r="1.1"/><circle cx="288.4" cy="774.6" r="1.1"/><circle cx="286.2" cy="781.4" r="1.1"/><circle cx="290.6" cy="781.6" r="1.1"/><circle cx="290.6" cy="781.6" r="1.1"/><circle cx="290.6" cy="781.8" r="1.1"/><circle cx="295.0" cy="773.1" r="1.1"/><circle cx="292.8" cy="783.3" r="1.1"/><circle cx="290.6" cy="771.6" r="1.1"/><circle cx="290.6" cy="784.6" r="1.1"/><circle cx="288.4" cy="784.7" r="1.1"/><circle cx="292.8" cy="771.1" r="1.1"/><circle cx="295.0" cy="785.1" r="1.1"/><circle cx="288.4" cy="769.9" r="1.1"/><circle cx="290.6" cy="787.8" r="1.1"/><circle cx="290.6" cy="768.1" r="1.1"/><circle cx="292.8" cy="767.0" r="1.1"/><circle cx="290.6" cy="761.8" r="1.1"/></g>
<g fill="#3dbf83" stroke="#3dbf83" stroke-width="0.6" opacity="1"><circle cx="290.6" cy="757.3" r="1.1"/><circle cx="290.6" cy="788.8" r="1.1"/></g>
<line x1="290.60" y1="757.30" x2="290.60" y2="771.70" stroke="#3dbf83" stroke-width="1"/>
<line x1="290.60" y1="785.60" x2="290.60" y2="788.80" stroke="#3dbf83" stroke-width="1"/>
<rect x="282.00" y="771.70" width="17.20" height="13.90" fill="none" stroke="#3dbf83" stroke-width="1.3"/>
<line x1="282.00" y1="778.50" x2="299.20" y2="778.50" stroke="#3dbf83" stroke-width="1.5"/>
<g fill="#2e8b57" stroke="#2e8b57" stroke-width="0.6" opacity="0.85"><circle cx="314.3" cy="770.3" r="1.1"/><circle cx="316.5" cy="770.1" r="1.1"/><circle cx="312.1" cy="771.1" r="1.1"/><circle cx="318.7" cy="771.2" r="1.1"/><circle cx="309.9" cy="769.7" r="1.1"/><circle cx="314.3" cy="771.5" r="1.1"/><circle cx="309.9" cy="772.0" r="1.1"/><circle cx="312.1" cy="768.7" r="1.1"/><circle cx="316.5" cy="772.3" r="1.1"/><circle cx="314.3" cy="774.0" r="1.1"/><circle cx="314.3" cy="766.8" r="1.1"/><circle cx="316.5" cy="766.6" r="1.1"/><circle cx="313.2" cy="764.8" r="1.1"/><circle cx="315.4" cy="764.6" r="1.1"/><circle cx="317.6" cy="763.3" r="1.1"/><circle cx="314.3" cy="779.1" r="1.1"/><circle cx="316.5" cy="779.6" r="1.1"/><circle cx="314.3" cy="761.3" r="1.1"/><circle cx="316.5" cy="761.2" r="1.1"/><circle cx="312.1" cy="780.0" r="1.1"/><circle cx="312.1" cy="760.6" r="1.1"/><circle cx="314.3" cy="782.1" r="1.1"/><circle cx="316.5" cy="783.6" r="1.1"/><circle cx="314.3" cy="787.0" r="1.1"/></g>
<g fill="#2e8b57" stroke="#2e8b57" stroke-width="0.6" opacity="1"><circle cx="314.3" cy="747.0" r="1.1"/><circle cx="314.3" cy="789.6" r="1.1"/></g>
<line x1="314.30" y1="747.00" x2="314.30" y2="760.70" stroke="#2e8b57" stroke-width="1"/>
<line x1="314.30" y1="780.90" x2="314.30" y2="789.60" stroke="#2e8b57" stroke-width="1"/>
<rect x="305.70" y="760.70" width="17.20" height="20.20" fill="none" stroke="#2e8b57" stroke-width="1.3"/>
<line x1="305.70" y1="770.70" x2="322.90" y2="770.70" stroke="#2e8b57" stroke-width="1.5"/>
<text x="245.4" y="777.0" font-size="11.7" text-anchor="middle" fill="#111">ns</text>
<text x="267.5" y="776.6" font-size="11.7" text-anchor="middle" fill="#000" letter-spacing="-0.4">**</text>
<text x="291.1" y="756.1" font-size="11.7" text-anchor="middle" fill="#000" letter-spacing="-0.4">***</text>
<text x="314.3" y="745.3" font-size="11.7" text-anchor="middle" fill="#000" letter-spacing="-0.4">***</text>
<rect x="209.20" y="725.70" width="118.20" height="82.80" fill="none" stroke="#1a1a1a" stroke-width="1.1"/>
<text transform="translate(5.5,868.8) scale(1,1)" font-size="16.3" font-weight="bold" fill="#000">M</text>
<text x="33.4" y="868.0" font-size="11.7" text-anchor="start" fill="#000" font-weight="bold">(i)</text>
<polygon points="64.4,962.6 159,908.4 159,912 64.4,966.6" fill="#dcdcdc" opacity="0.7"/>
<g fill="none" stroke="#6fe6dc" stroke-width="0.65" opacity="1"><circle cx="66.8" cy="961.7" r="1.7"/><circle cx="66.9" cy="969.1" r="1.7"/><circle cx="66.9" cy="950.4" r="1.7"/><circle cx="68.2" cy="960.2" r="1.7"/><circle cx="66.6" cy="964.3" r="1.7"/><circle cx="67.9" cy="972.5" r="1.7"/><circle cx="69.1" cy="962.8" r="1.7"/><circle cx="65.1" cy="955.5" r="1.7"/><circle cx="67.9" cy="973.7" r="1.7"/><circle cx="67.4" cy="962.0" r="1.7"/><circle cx="91.5" cy="936.7" r="1.7"/><circle cx="89.1" cy="954.6" r="1.7"/><circle cx="92.4" cy="946.4" r="1.7"/><circle cx="91.0" cy="951.4" r="1.7"/><circle cx="92.2" cy="939.2" r="1.7"/><circle cx="91.6" cy="936.1" r="1.7"/><circle cx="88.2" cy="945.8" r="1.7"/><circle cx="93.0" cy="955.6" r="1.7"/><circle cx="97.5" cy="935.2" r="1.7"/><circle cx="98.0" cy="936.7" r="1.7"/><circle cx="95.4" cy="944.3" r="1.7"/><circle cx="95.9" cy="953.4" r="1.7"/><circle cx="97.4" cy="948.6" r="1.7"/><circle cx="97.5" cy="949.7" r="1.7"/><circle cx="93.8" cy="941.6" r="1.7"/><circle cx="94.3" cy="951.7" r="1.7"/><circle cx="111.0" cy="957.7" r="1.7"/><circle cx="109.4" cy="929.4" r="1.7"/><circle cx="113.9" cy="948.2" r="1.7"/><circle cx="113.1" cy="943.7" r="1.7"/><circle cx="115.7" cy="934.3" r="1.7"/><circle cx="107.7" cy="935.2" r="1.7"/><circle cx="114.4" cy="923.6" r="1.7"/><circle cx="111.8" cy="939.5" r="1.7"/><circle cx="110.8" cy="944.1" r="1.7"/><circle cx="113.3" cy="956.2" r="1.7"/><circle cx="119.1" cy="927.9" r="1.7"/><circle cx="115.8" cy="928.0" r="1.7"/><circle cx="120.1" cy="927.8" r="1.7"/><circle cx="117.2" cy="940.6" r="1.7"/><circle cx="115.3" cy="932.8" r="1.7"/><circle cx="112.2" cy="927.9" r="1.7"/><circle cx="126.6" cy="932.4" r="1.7"/><circle cx="133.2" cy="924.9" r="1.7"/><circle cx="129.7" cy="928.5" r="1.7"/><circle cx="142.6" cy="927.2" r="1.7"/><circle cx="140.7" cy="912.1" r="1.7"/><circle cx="142.2" cy="923.1" r="1.7"/><circle cx="143.0" cy="919.2" r="1.7"/><circle cx="144.7" cy="915.4" r="1.7"/><circle cx="143.8" cy="919.9" r="1.7"/><circle cx="138.9" cy="912.2" r="1.7"/><circle cx="139.7" cy="933.4" r="1.7"/><circle cx="142.0" cy="925.8" r="1.7"/><circle cx="134.5" cy="930.4" r="1.7"/><circle cx="147.3" cy="912.2" r="1.7"/><circle cx="144.0" cy="918.8" r="1.7"/><circle cx="150.7" cy="906.0" r="1.7"/><circle cx="144.5" cy="930.1" r="1.7"/><circle cx="144.5" cy="915.4" r="1.7"/><circle cx="146.0" cy="907.1" r="1.7"/><circle cx="146.4" cy="907.2" r="1.7"/><circle cx="148.3" cy="916.4" r="1.7"/><circle cx="152.2" cy="916.5" r="1.7"/><circle cx="149.6" cy="904.5" r="1.7"/><circle cx="145.4" cy="920.8" r="1.7"/><circle cx="150.7" cy="900.7" r="1.7"/><circle cx="155.2" cy="917.4" r="1.7"/><circle cx="156.7" cy="917.6" r="1.7"/><circle cx="152.5" cy="909.5" r="1.7"/><circle cx="148.8" cy="917.7" r="1.7"/><circle cx="151.8" cy="931.5" r="1.7"/><circle cx="150.6" cy="917.7" r="1.7"/></g>
<g fill="none" stroke="#e78ae8" stroke-width="0.65" opacity="1"><circle cx="65.7" cy="956.2" r="1.7"/><circle cx="66.2" cy="965.4" r="1.7"/></g>
<line x1="64.40" y1="964.60" x2="159.00" y2="910.20" stroke="#333" stroke-width="1.3"/>
<text x="58.2" y="881.4" font-size="11.3" text-anchor="end" fill="#111">10</text>
<line x1="58.30" y1="879.40" x2="65.10" y2="879.40" stroke="#1a1a1a" stroke-width="1"/>
<text x="58.2" y="923.5" font-size="11.3" text-anchor="end" fill="#111">3</text>
<line x1="58.30" y1="920.66" x2="62.10" y2="920.66" stroke="#1a1a1a" stroke-width="1"/>
<text x="58.2" y="961.1" font-size="11.3" text-anchor="end" fill="#111">1</text>
<line x1="58.30" y1="958.30" x2="65.10" y2="958.30" stroke="#1a1a1a" stroke-width="1"/>
<line x1="59.10" y1="975.80" x2="61.30" y2="975.80" stroke="#1a1a1a" stroke-width="0.8"/>
<line x1="59.10" y1="970.52" x2="61.30" y2="970.52" stroke="#1a1a1a" stroke-width="0.8"/>
<line x1="59.10" y1="965.95" x2="61.30" y2="965.95" stroke="#1a1a1a" stroke-width="0.8"/>
<line x1="59.10" y1="961.91" x2="61.30" y2="961.91" stroke="#1a1a1a" stroke-width="0.8"/>
<line x1="59.10" y1="934.55" x2="61.30" y2="934.55" stroke="#1a1a1a" stroke-width="0.8"/>
<line x1="59.10" y1="910.80" x2="61.30" y2="910.80" stroke="#1a1a1a" stroke-width="0.8"/>
<line x1="59.10" y1="903.15" x2="61.30" y2="903.15" stroke="#1a1a1a" stroke-width="0.8"/>
<line x1="59.10" y1="896.90" x2="61.30" y2="896.90" stroke="#1a1a1a" stroke-width="0.8"/>
<line x1="59.10" y1="891.62" x2="61.30" y2="891.62" stroke="#1a1a1a" stroke-width="0.8"/>
<line x1="59.10" y1="887.05" x2="61.30" y2="887.05" stroke="#1a1a1a" stroke-width="0.8"/>
<line x1="59.10" y1="883.01" x2="61.30" y2="883.01" stroke="#1a1a1a" stroke-width="0.8"/>
<text x="74.4" y="994.5" font-size="11.7" text-anchor="middle" fill="#111">30</text>
<line x1="74.42" y1="982.40" x2="74.42" y2="978.40" stroke="#1a1a1a" stroke-width="1"/>
<text x="105.9" y="994.5" font-size="11.7" text-anchor="middle" fill="#111">100</text>
<line x1="105.90" y1="982.40" x2="105.90" y2="978.40" stroke="#1a1a1a" stroke-width="1"/>
<text x="134.6" y="994.5" font-size="11.7" text-anchor="middle" fill="#111">300</text>
<line x1="134.62" y1="982.40" x2="134.62" y2="978.40" stroke="#1a1a1a" stroke-width="1"/>
<line x1="63.82" y1="982.40" x2="63.82" y2="980.20" stroke="#1a1a1a" stroke-width="0.8"/>
<line x1="81.94" y1="982.40" x2="81.94" y2="980.20" stroke="#1a1a1a" stroke-width="0.8"/>
<line x1="87.78" y1="982.40" x2="87.78" y2="980.20" stroke="#1a1a1a" stroke-width="0.8"/>
<line x1="92.54" y1="982.40" x2="92.54" y2="980.20" stroke="#1a1a1a" stroke-width="0.8"/>
<line x1="96.57" y1="982.40" x2="96.57" y2="980.20" stroke="#1a1a1a" stroke-width="0.8"/>
<line x1="100.07" y1="982.40" x2="100.07" y2="980.20" stroke="#1a1a1a" stroke-width="0.8"/>
<line x1="103.15" y1="982.40" x2="103.15" y2="980.20" stroke="#1a1a1a" stroke-width="0.8"/>
<line x1="124.02" y1="982.40" x2="124.02" y2="980.20" stroke="#1a1a1a" stroke-width="0.8"/>
<line x1="142.14" y1="982.40" x2="142.14" y2="980.20" stroke="#1a1a1a" stroke-width="0.8"/>
<line x1="147.98" y1="982.40" x2="147.98" y2="980.20" stroke="#1a1a1a" stroke-width="0.8"/>
<line x1="152.74" y1="982.40" x2="152.74" y2="980.20" stroke="#1a1a1a" stroke-width="0.8"/>
<line x1="156.77" y1="982.40" x2="156.77" y2="980.20" stroke="#1a1a1a" stroke-width="0.8"/>
<line x1="160.27" y1="982.40" x2="160.27" y2="980.20" stroke="#1a1a1a" stroke-width="0.8"/>
<text x="111.7" y="1006.2" font-size="11.7" text-anchor="middle" fill="#111">Contact stiffness (N/m)</text>
<text x="45.6" y="931.2" font-size="11.7" text-anchor="middle" fill="#111" transform="rotate(-90 45.6 931.2)">N/C of RUNX2</text>
<text x="67.0" y="898.5" font-size="11.7" text-anchor="start" fill="#111"><tspan font-style="italic">r</tspan><tspan font-size="7.5" dy="-4">2</tspan><tspan dy="4"> = 0.66</tspan></text>
<rect x="59.10" y="879.40" width="105.10" height="103.00" fill="none" stroke="#1a1a1a" stroke-width="1.1"/>
<text x="193.4" y="868.0" font-size="11.7" text-anchor="start" fill="#000" font-weight="bold">(ii)</text>
<g fill="none" stroke="#6fe6dc" stroke-width="0.6" opacity="1"><circle cx="279.6" cy="899.7" r="1.6"/><circle cx="279.6" cy="901.7" r="1.6"/><circle cx="279.6" cy="903.6" r="1.6"/><circle cx="279.6" cy="905.6" r="1.6"/><circle cx="279.6" cy="907.5" r="1.6"/><circle cx="279.6" cy="909.5" r="1.6"/><circle cx="279.6" cy="911.4" r="1.6"/><circle cx="279.6" cy="913.4" r="1.6"/><circle cx="279.6" cy="915.3" r="1.6"/><circle cx="279.6" cy="917.3" r="1.6"/><circle cx="279.6" cy="919.2" r="1.6"/><circle cx="279.6" cy="921.2" r="1.6"/><circle cx="279.6" cy="923.1" r="1.6"/><circle cx="279.6" cy="925.1" r="1.6"/><circle cx="279.6" cy="927.1" r="1.6"/><circle cx="279.6" cy="929.0" r="1.6"/><circle cx="279.6" cy="931.0" r="1.6"/><circle cx="279.6" cy="932.9" r="1.6"/><circle cx="279.6" cy="934.9" r="1.6"/><circle cx="279.6" cy="936.8" r="1.6"/><circle cx="279.6" cy="938.8" r="1.6"/><circle cx="279.6" cy="940.7" r="1.6"/><circle cx="279.6" cy="942.7" r="1.6"/><circle cx="279.6" cy="944.6" r="1.6"/><circle cx="279.6" cy="946.6" r="1.6"/><circle cx="279.6" cy="948.6" r="1.6"/><circle cx="279.6" cy="950.5" r="1.6"/><circle cx="279.6" cy="952.5" r="1.6"/><circle cx="279.6" cy="954.4" r="1.6"/><circle cx="279.6" cy="956.4" r="1.6"/><circle cx="279.6" cy="958.3" r="1.6"/><circle cx="279.6" cy="960.3" r="1.6"/><circle cx="279.6" cy="962.2" r="1.6"/><circle cx="279.6" cy="964.2" r="1.6"/><circle cx="279.6" cy="966.1" r="1.6"/><circle cx="279.6" cy="968.1" r="1.6"/><circle cx="279.6" cy="970.0" r="1.6"/><circle cx="279.6" cy="972.0" r="1.6"/></g>
<text x="225.8" y="884.5" font-size="11.3" text-anchor="end" fill="#111">10</text>
<line x1="226.00" y1="882.10" x2="232.80" y2="882.10" stroke="#1a1a1a" stroke-width="1"/>
<text x="225.8" y="926.7" font-size="11.3" text-anchor="end" fill="#111">3</text>
<line x1="226.00" y1="922.88" x2="229.80" y2="922.88" stroke="#1a1a1a" stroke-width="1"/>
<text x="225.8" y="963.9" font-size="11.3" text-anchor="end" fill="#111">1</text>
<line x1="226.00" y1="960.10" x2="232.80" y2="960.10" stroke="#1a1a1a" stroke-width="1"/>
<line x1="226.80" y1="977.40" x2="229.00" y2="977.40" stroke="#1a1a1a" stroke-width="0.8"/>
<line x1="226.80" y1="972.18" x2="229.00" y2="972.18" stroke="#1a1a1a" stroke-width="0.8"/>
<line x1="226.80" y1="967.66" x2="229.00" y2="967.66" stroke="#1a1a1a" stroke-width="0.8"/>
<line x1="226.80" y1="963.67" x2="229.00" y2="963.67" stroke="#1a1a1a" stroke-width="0.8"/>
<line x1="226.80" y1="936.62" x2="229.00" y2="936.62" stroke="#1a1a1a" stroke-width="0.8"/>
<line x1="226.80" y1="913.14" x2="229.00" y2="913.14" stroke="#1a1a1a" stroke-width="0.8"/>
<line x1="226.80" y1="905.58" x2="229.00" y2="905.58" stroke="#1a1a1a" stroke-width="0.8"/>
<line x1="226.80" y1="899.40" x2="229.00" y2="899.40" stroke="#1a1a1a" stroke-width="0.8"/>
<line x1="226.80" y1="894.18" x2="229.00" y2="894.18" stroke="#1a1a1a" stroke-width="0.8"/>
<line x1="226.80" y1="889.66" x2="229.00" y2="889.66" stroke="#1a1a1a" stroke-width="0.8"/>
<line x1="226.80" y1="885.67" x2="229.00" y2="885.67" stroke="#1a1a1a" stroke-width="0.8"/>
<text x="250.4" y="995.8" font-size="11.7" text-anchor="middle" fill="#111">300</text>
<line x1="250.40" y1="983.20" x2="250.40" y2="979.70" stroke="#1a1a1a" stroke-width="1"/>
<text x="279.6" y="995.8" font-size="11.7" text-anchor="middle" fill="#111">350</text>
<line x1="279.60" y1="983.20" x2="279.60" y2="979.70" stroke="#1a1a1a" stroke-width="1"/>
<text x="307.2" y="995.8" font-size="11.7" text-anchor="middle" fill="#111">400</text>
<line x1="307.20" y1="983.20" x2="307.20" y2="979.70" stroke="#1a1a1a" stroke-width="1"/>
<text x="279.6" y="1008.2" font-size="11.7" text-anchor="middle" fill="#111">Modulus (kPa)</text>
<text x="214.1" y="932.5" font-size="11.7" text-anchor="middle" fill="#111" transform="rotate(-90 214.1 932.5)">N/C of RUNX2</text>
<rect x="226.80" y="882.10" width="105.80" height="101.10" fill="none" stroke="#1a1a1a" stroke-width="1.1"/>
<text x="366.5" y="866.8" font-size="11.7" text-anchor="start" fill="#000" font-weight="bold">(iii)</text>
<g fill="none" stroke="#6fe6dc" stroke-width="0.6" opacity="1"><circle cx="452.7" cy="895.7" r="1.6"/><circle cx="452.7" cy="897.6" r="1.6"/><circle cx="452.7" cy="899.5" r="1.6"/><circle cx="452.7" cy="901.5" r="1.6"/><circle cx="452.7" cy="903.4" r="1.6"/><circle cx="452.7" cy="905.3" r="1.6"/><circle cx="452.7" cy="907.2" r="1.6"/><circle cx="452.7" cy="909.1" r="1.6"/><circle cx="452.7" cy="911.1" r="1.6"/><circle cx="452.7" cy="913.0" r="1.6"/><circle cx="452.7" cy="914.9" r="1.6"/><circle cx="452.7" cy="916.8" r="1.6"/><circle cx="452.7" cy="918.7" r="1.6"/><circle cx="452.7" cy="920.6" r="1.6"/><circle cx="452.7" cy="922.6" r="1.6"/><circle cx="452.7" cy="924.5" r="1.6"/><circle cx="452.7" cy="926.4" r="1.6"/><circle cx="452.7" cy="928.3" r="1.6"/><circle cx="452.7" cy="930.2" r="1.6"/><circle cx="452.7" cy="932.2" r="1.6"/><circle cx="452.7" cy="934.1" r="1.6"/><circle cx="452.7" cy="936.0" r="1.6"/><circle cx="452.7" cy="937.9" r="1.6"/><circle cx="452.7" cy="939.8" r="1.6"/><circle cx="452.7" cy="941.8" r="1.6"/><circle cx="452.7" cy="943.7" r="1.6"/><circle cx="452.7" cy="945.6" r="1.6"/><circle cx="452.7" cy="947.5" r="1.6"/><circle cx="452.7" cy="949.4" r="1.6"/><circle cx="452.7" cy="951.3" r="1.6"/><circle cx="452.7" cy="953.3" r="1.6"/><circle cx="452.7" cy="955.2" r="1.6"/><circle cx="452.7" cy="957.1" r="1.6"/><circle cx="452.7" cy="959.0" r="1.6"/><circle cx="452.7" cy="960.9" r="1.6"/><circle cx="452.7" cy="962.9" r="1.6"/><circle cx="452.7" cy="964.8" r="1.6"/><circle cx="452.7" cy="966.7" r="1.6"/></g>
<text x="399.7" y="880.5" font-size="11.3" text-anchor="end" fill="#111">10</text>
<line x1="399.90" y1="878.10" x2="406.70" y2="878.10" stroke="#1a1a1a" stroke-width="1"/>
<text x="399.7" y="922.0" font-size="11.3" text-anchor="end" fill="#111">3</text>
<line x1="399.90" y1="918.20" x2="403.70" y2="918.20" stroke="#1a1a1a" stroke-width="1"/>
<text x="399.7" y="958.6" font-size="11.3" text-anchor="end" fill="#111">1</text>
<line x1="399.90" y1="954.80" x2="406.70" y2="954.80" stroke="#1a1a1a" stroke-width="1"/>
<line x1="400.70" y1="971.82" x2="402.90" y2="971.82" stroke="#1a1a1a" stroke-width="0.8"/>
<line x1="400.70" y1="966.68" x2="402.90" y2="966.68" stroke="#1a1a1a" stroke-width="0.8"/>
<line x1="400.70" y1="962.23" x2="402.90" y2="962.23" stroke="#1a1a1a" stroke-width="0.8"/>
<line x1="400.70" y1="958.31" x2="402.90" y2="958.31" stroke="#1a1a1a" stroke-width="0.8"/>
<line x1="400.70" y1="931.71" x2="402.90" y2="931.71" stroke="#1a1a1a" stroke-width="0.8"/>
<line x1="400.70" y1="908.62" x2="402.90" y2="908.62" stroke="#1a1a1a" stroke-width="0.8"/>
<line x1="400.70" y1="901.19" x2="402.90" y2="901.19" stroke="#1a1a1a" stroke-width="0.8"/>
<line x1="400.70" y1="895.12" x2="402.90" y2="895.12" stroke="#1a1a1a" stroke-width="0.8"/>
<line x1="400.70" y1="889.98" x2="402.90" y2="889.98" stroke="#1a1a1a" stroke-width="0.8"/>
<line x1="400.70" y1="885.53" x2="402.90" y2="885.53" stroke="#1a1a1a" stroke-width="0.8"/>
<line x1="400.70" y1="881.61" x2="402.90" y2="881.61" stroke="#1a1a1a" stroke-width="0.8"/>
<text x="405.4" y="990.5" font-size="11.7" text-anchor="middle" fill="#111">18</text>
<line x1="405.40" y1="977.70" x2="405.40" y2="974.20" stroke="#1a1a1a" stroke-width="1"/>
<text x="452.7" y="990.5" font-size="11.7" text-anchor="middle" fill="#111">20</text>
<line x1="452.70" y1="977.70" x2="452.70" y2="974.20" stroke="#1a1a1a" stroke-width="1"/>
<text x="496.6" y="990.5" font-size="11.7" text-anchor="middle" fill="#111">22</text>
<line x1="496.60" y1="977.70" x2="496.60" y2="974.20" stroke="#1a1a1a" stroke-width="1"/>
<text x="452.7" y="1004.2" font-size="11.7" text-anchor="middle" fill="#111">Thickness (μm)</text>
<text x="386.7" y="933.5" font-size="11.7" text-anchor="middle" fill="#111" transform="rotate(-90 386.7 933.5)">N/C of RUNX2</text>
<rect x="400.70" y="878.10" width="104.60" height="99.60" fill="none" stroke="#1a1a1a" stroke-width="1.1"/>
<text x="514.7" y="866.8" font-size="11.7" text-anchor="start" fill="#000" font-weight="bold">(iv)</text>
<polygon points="570.2,958.6 618,930.6 665.3,900.8 665.3,909 618,935.6 570.2,965.8" fill="#bdbdbd" opacity="0.75"/>
<g fill="none" stroke="#6fe6dc" stroke-width="0.65" opacity="1"><circle cx="577.3" cy="961.1" r="1.7"/><circle cx="575.0" cy="966.7" r="1.7"/><circle cx="570.7" cy="948.6" r="1.7"/><circle cx="569.8" cy="965.3" r="1.7"/><circle cx="576.1" cy="959.8" r="1.7"/><circle cx="569.2" cy="974.8" r="1.7"/><circle cx="568.5" cy="959.1" r="1.7"/><circle cx="571.4" cy="963.6" r="1.7"/><circle cx="576.2" cy="945.9" r="1.7"/><circle cx="572.1" cy="963.7" r="1.7"/><circle cx="592.5" cy="948.0" r="1.7"/><circle cx="596.4" cy="935.1" r="1.7"/><circle cx="592.1" cy="948.5" r="1.7"/><circle cx="595.2" cy="949.0" r="1.7"/><circle cx="602.2" cy="950.5" r="1.7"/><circle cx="597.1" cy="939.9" r="1.7"/><circle cx="604.2" cy="935.0" r="1.7"/><circle cx="606.1" cy="950.7" r="1.7"/><circle cx="595.9" cy="936.7" r="1.7"/><circle cx="601.0" cy="940.2" r="1.7"/><circle cx="598.0" cy="935.0" r="1.7"/><circle cx="603.6" cy="937.5" r="1.7"/><circle cx="597.2" cy="943.5" r="1.7"/><circle cx="604.3" cy="955.9" r="1.7"/><circle cx="601.8" cy="940.5" r="1.7"/><circle cx="599.3" cy="940.2" r="1.7"/><circle cx="619.3" cy="943.3" r="1.7"/><circle cx="621.3" cy="929.3" r="1.7"/><circle cx="620.3" cy="938.5" r="1.7"/><circle cx="619.0" cy="911.9" r="1.7"/><circle cx="617.6" cy="931.2" r="1.7"/><circle cx="621.5" cy="928.9" r="1.7"/><circle cx="619.0" cy="935.0" r="1.7"/><circle cx="621.4" cy="937.9" r="1.7"/><circle cx="620.7" cy="944.5" r="1.7"/><circle cx="620.5" cy="938.6" r="1.7"/><circle cx="622.7" cy="931.4" r="1.7"/><circle cx="629.6" cy="926.7" r="1.7"/><circle cx="624.9" cy="928.6" r="1.7"/><circle cx="622.6" cy="905.2" r="1.7"/><circle cx="628.3" cy="917.1" r="1.7"/><circle cx="621.1" cy="943.1" r="1.7"/><circle cx="625.9" cy="928.9" r="1.7"/><circle cx="632.7" cy="908.9" r="1.7"/><circle cx="637.2" cy="915.3" r="1.7"/><circle cx="646.0" cy="912.9" r="1.7"/><circle cx="647.8" cy="934.7" r="1.7"/><circle cx="643.3" cy="925.4" r="1.7"/><circle cx="644.6" cy="914.3" r="1.7"/><circle cx="641.8" cy="909.4" r="1.7"/><circle cx="645.3" cy="923.9" r="1.7"/><circle cx="646.9" cy="920.9" r="1.7"/><circle cx="648.0" cy="903.5" r="1.7"/><circle cx="649.7" cy="911.5" r="1.7"/><circle cx="647.9" cy="913.8" r="1.7"/><circle cx="652.7" cy="918.0" r="1.7"/><circle cx="645.6" cy="933.9" r="1.7"/><circle cx="652.5" cy="921.9" r="1.7"/><circle cx="652.6" cy="913.3" r="1.7"/><circle cx="648.2" cy="911.9" r="1.7"/><circle cx="645.7" cy="915.4" r="1.7"/><circle cx="656.5" cy="894.2" r="1.7"/><circle cx="650.0" cy="910.9" r="1.7"/><circle cx="655.3" cy="921.5" r="1.7"/><circle cx="652.2" cy="913.6" r="1.7"/><circle cx="651.5" cy="909.0" r="1.7"/><circle cx="650.6" cy="909.8" r="1.7"/><circle cx="658.2" cy="909.8" r="1.7"/><circle cx="656.8" cy="915.3" r="1.7"/><circle cx="658.5" cy="913.5" r="1.7"/><circle cx="654.7" cy="905.3" r="1.7"/><circle cx="658.9" cy="911.2" r="1.7"/><circle cx="658.1" cy="922.3" r="1.7"/></g>
<line x1="570.20" y1="962.20" x2="665.30" y2="904.90" stroke="#333" stroke-width="1.3"/>
<text x="564.4" y="879.1" font-size="11.3" text-anchor="end" fill="#111">10</text>
<line x1="564.60" y1="876.50" x2="571.40" y2="876.50" stroke="#1a1a1a" stroke-width="1"/>
<text x="564.4" y="921.2" font-size="11.3" text-anchor="end" fill="#111">3</text>
<line x1="564.60" y1="917.76" x2="568.40" y2="917.76" stroke="#1a1a1a" stroke-width="1"/>
<text x="564.4" y="958.8" font-size="11.3" text-anchor="end" fill="#111">1</text>
<line x1="564.60" y1="955.40" x2="571.40" y2="955.40" stroke="#1a1a1a" stroke-width="1"/>
<line x1="565.40" y1="972.90" x2="567.60" y2="972.90" stroke="#1a1a1a" stroke-width="0.8"/>
<line x1="565.40" y1="967.62" x2="567.60" y2="967.62" stroke="#1a1a1a" stroke-width="0.8"/>
<line x1="565.40" y1="963.05" x2="567.60" y2="963.05" stroke="#1a1a1a" stroke-width="0.8"/>
<line x1="565.40" y1="959.01" x2="567.60" y2="959.01" stroke="#1a1a1a" stroke-width="0.8"/>
<line x1="565.40" y1="931.65" x2="567.60" y2="931.65" stroke="#1a1a1a" stroke-width="0.8"/>
<line x1="565.40" y1="907.90" x2="567.60" y2="907.90" stroke="#1a1a1a" stroke-width="0.8"/>
<line x1="565.40" y1="900.25" x2="567.60" y2="900.25" stroke="#1a1a1a" stroke-width="0.8"/>
<line x1="565.40" y1="894.00" x2="567.60" y2="894.00" stroke="#1a1a1a" stroke-width="0.8"/>
<line x1="565.40" y1="888.72" x2="567.60" y2="888.72" stroke="#1a1a1a" stroke-width="0.8"/>
<line x1="565.40" y1="884.15" x2="567.60" y2="884.15" stroke="#1a1a1a" stroke-width="0.8"/>
<line x1="565.40" y1="880.11" x2="567.60" y2="880.11" stroke="#1a1a1a" stroke-width="0.8"/>
<line x1="590.90" y1="978.80" x2="590.90" y2="974.80" stroke="#1a1a1a" stroke-width="1"/>
<text x="590.4" y="991.5" font-size="11.4" text-anchor="middle" fill="#111" transform="rotate(-45 590.4 991.5)" dominant-baseline="central">1,000</text>
<line x1="619.24" y1="978.80" x2="619.24" y2="974.80" stroke="#1a1a1a" stroke-width="1"/>
<text x="618.7" y="991.5" font-size="11.4" text-anchor="middle" fill="#111" transform="rotate(-45 618.7 991.5)" dominant-baseline="central">3,000</text>
<line x1="650.30" y1="978.80" x2="650.30" y2="974.80" stroke="#1a1a1a" stroke-width="1"/>
<text x="649.8" y="991.5" font-size="11.4" text-anchor="middle" fill="#111" transform="rotate(-45 649.8 991.5)" dominant-baseline="central">10,000</text>
<line x1="567.26" y1="978.80" x2="567.26" y2="976.60" stroke="#1a1a1a" stroke-width="0.8"/>
<line x1="573.02" y1="978.80" x2="573.02" y2="976.60" stroke="#1a1a1a" stroke-width="0.8"/>
<line x1="577.72" y1="978.80" x2="577.72" y2="976.60" stroke="#1a1a1a" stroke-width="0.8"/>
<line x1="581.70" y1="978.80" x2="581.70" y2="976.60" stroke="#1a1a1a" stroke-width="0.8"/>
<line x1="585.14" y1="978.80" x2="585.14" y2="976.60" stroke="#1a1a1a" stroke-width="0.8"/>
<line x1="588.18" y1="978.80" x2="588.18" y2="976.60" stroke="#1a1a1a" stroke-width="0.8"/>
<line x1="608.78" y1="978.80" x2="608.78" y2="976.60" stroke="#1a1a1a" stroke-width="0.8"/>
<line x1="626.66" y1="978.80" x2="626.66" y2="976.60" stroke="#1a1a1a" stroke-width="0.8"/>
<line x1="632.42" y1="978.80" x2="632.42" y2="976.60" stroke="#1a1a1a" stroke-width="0.8"/>
<line x1="637.12" y1="978.80" x2="637.12" y2="976.60" stroke="#1a1a1a" stroke-width="0.8"/>
<line x1="641.10" y1="978.80" x2="641.10" y2="976.60" stroke="#1a1a1a" stroke-width="0.8"/>
<line x1="644.54" y1="978.80" x2="644.54" y2="976.60" stroke="#1a1a1a" stroke-width="0.8"/>
<line x1="647.58" y1="978.80" x2="647.58" y2="976.60" stroke="#1a1a1a" stroke-width="0.8"/>
<line x1="668.18" y1="978.80" x2="668.18" y2="976.60" stroke="#1a1a1a" stroke-width="0.8"/>
<text x="618.8" y="1015.5" font-size="11.7" text-anchor="middle" fill="#111">Cell area (μm<tspan font-size="7.5" dy="-4">2</tspan><tspan dy="4">)</tspan></text>
<text x="552.0" y="928.0" font-size="11.7" text-anchor="middle" fill="#111" transform="rotate(-90 552.0 928.0)">N/C of RUNX2</text>
<text x="574.1" y="891.2" font-size="11.7" text-anchor="start" fill="#111"><tspan font-style="italic">r</tspan><tspan font-size="7.5" dy="-4">2</tspan><tspan dy="4"> = 0.66</tspan></text>
<rect x="565.40" y="876.50" width="104.60" height="102.30" fill="none" stroke="#1a1a1a" stroke-width="1.1"/>
</svg></body></html>
